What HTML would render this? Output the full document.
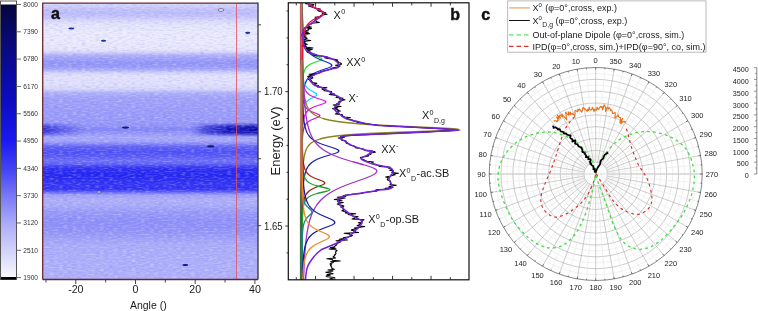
<!DOCTYPE html>
<html><head><meta charset="utf-8"><style>
html,body{margin:0;padding:0;background:#fff;width:758px;height:311px;overflow:hidden}
svg{display:block;opacity:0.999}
text{font-family:"Liberation Sans",sans-serif}
</style></head><body>
<svg width="758" height="311" viewBox="0 0 758 311">
<defs>
<linearGradient id="cb" x1="0" y1="4.5" x2="0" y2="277" gradientUnits="userSpaceOnUse"><stop offset="0.000" stop-color="rgb(5,5,60)"/><stop offset="0.100" stop-color="rgb(8,8,105)"/><stop offset="0.220" stop-color="rgb(10,10,150)"/><stop offset="0.360" stop-color="rgb(12,12,195)"/><stop offset="0.497" stop-color="rgb(25,25,240)"/><stop offset="0.607" stop-color="rgb(68,68,245)"/><stop offset="0.706" stop-color="rgb(122,122,246)"/><stop offset="0.805" stop-color="rgb(172,172,248)"/><stop offset="0.908" stop-color="rgb(212,212,251)"/><stop offset="1.000" stop-color="rgb(248,248,253)"/></linearGradient>
<linearGradient id="hm" x1="0" y1="3" x2="0" y2="279" gradientUnits="userSpaceOnUse"><stop offset="0.0000" stop-color="rgb(215,215,251)"/><stop offset="0.0109" stop-color="rgb(207,207,251)"/><stop offset="0.0217" stop-color="rgb(195,195,250)"/><stop offset="0.0362" stop-color="rgb(188,188,250)"/><stop offset="0.0507" stop-color="rgb(197,198,250)"/><stop offset="0.0652" stop-color="rgb(217,217,251)"/><stop offset="0.0797" stop-color="rgb(229,229,252)"/><stop offset="0.1051" stop-color="rgb(234,234,252)"/><stop offset="0.1341" stop-color="rgb(234,234,252)"/><stop offset="0.1667" stop-color="rgb(231,231,252)"/><stop offset="0.1775" stop-color="rgb(215,215,251)"/><stop offset="0.1884" stop-color="rgb(178,178,249)"/><stop offset="0.2029" stop-color="rgb(158,159,248)"/><stop offset="0.2174" stop-color="rgb(146,148,247)"/><stop offset="0.2319" stop-color="rgb(152,153,248)"/><stop offset="0.2428" stop-color="rgb(173,174,249)"/><stop offset="0.2536" stop-color="rgb(212,212,251)"/><stop offset="0.2645" stop-color="rgb(226,226,252)"/><stop offset="0.2935" stop-color="rgb(224,224,252)"/><stop offset="0.3116" stop-color="rgb(215,215,251)"/><stop offset="0.3261" stop-color="rgb(175,176,249)"/><stop offset="0.3442" stop-color="rgb(160,161,248)"/><stop offset="0.3877" stop-color="rgb(155,156,248)"/><stop offset="0.4239" stop-color="rgb(152,153,248)"/><stop offset="0.4457" stop-color="rgb(146,148,247)"/><stop offset="0.4583" stop-color="rgb(130,132,247)"/><stop offset="0.4710" stop-color="rgb(146,148,247)"/><stop offset="0.4855" stop-color="rgb(165,166,248)"/><stop offset="0.5000" stop-color="rgb(163,164,248)"/><stop offset="0.5109" stop-color="rgb(130,132,247)"/><stop offset="0.5217" stop-color="rgb(92,94,245)"/><stop offset="0.5399" stop-color="rgb(76,78,245)"/><stop offset="0.5543" stop-color="rgb(87,88,245)"/><stop offset="0.5725" stop-color="rgb(108,110,246)"/><stop offset="0.5833" stop-color="rgb(95,96,246)"/><stop offset="0.5906" stop-color="rgb(66,67,244)"/><stop offset="0.6014" stop-color="rgb(42,42,242)"/><stop offset="0.6268" stop-color="rgb(35,36,240)"/><stop offset="0.6486" stop-color="rgb(47,48,242)"/><stop offset="0.6594" stop-color="rgb(50,51,243)"/><stop offset="0.6739" stop-color="rgb(45,46,242)"/><stop offset="0.6848" stop-color="rgb(95,96,246)"/><stop offset="0.6957" stop-color="rgb(158,159,248)"/><stop offset="0.7138" stop-color="rgb(173,174,249)"/><stop offset="0.7355" stop-color="rgb(168,169,248)"/><stop offset="0.7572" stop-color="rgb(152,153,248)"/><stop offset="0.7935" stop-color="rgb(141,142,247)"/><stop offset="0.8297" stop-color="rgb(146,148,247)"/><stop offset="0.8514" stop-color="rgb(158,159,248)"/><stop offset="0.8768" stop-color="rgb(170,171,248)"/><stop offset="0.9312" stop-color="rgb(173,174,249)"/><stop offset="1.0000" stop-color="rgb(175,176,249)"/></linearGradient>
<linearGradient id="b128" x1="42" y1="0" x2="258" y2="0" gradientUnits="userSpaceOnUse"><stop offset="0" stop-color="#1414d0" stop-opacity="0.8"/><stop offset="0.1" stop-color="#1414d0" stop-opacity="0.35"/><stop offset="0.2" stop-color="#1414d0" stop-opacity="0.0"/><stop offset="0.69" stop-color="#1414d0" stop-opacity="0.0"/><stop offset="0.76" stop-color="#1010c8" stop-opacity="0.6"/><stop offset="0.86" stop-color="#0a0ab8" stop-opacity="0.95"/><stop offset="1" stop-color="#0808a8" stop-opacity="1"/></linearGradient>
<linearGradient id="b128v" x1="0" y1="122.5" x2="0" y2="137" gradientUnits="userSpaceOnUse"><stop offset="0" stop-color="#fff" stop-opacity="0"/><stop offset="0.3" stop-color="#fff" stop-opacity="0.9"/><stop offset="0.5" stop-color="#fff" stop-opacity="1"/><stop offset="0.7" stop-color="#fff" stop-opacity="0.9"/><stop offset="1" stop-color="#fff" stop-opacity="0"/></linearGradient>
<mask id="m128"><rect x="42" y="122.5" width="216" height="14.5" fill="url(#b128v)"/></mask>
</defs>
<rect x="0.5" y="1" width="16" height="278.5" fill="#fff" stroke="#555" stroke-width="1"/>
<rect x="1" y="4.5" width="15" height="272.5" fill="url(#cb)"/>
<rect x="1" y="277" width="15" height="2.5" fill="#000"/>
<line x1="17" y1="4.5" x2="21" y2="4.5" stroke="#444" stroke-width="0.8"/>
<text x="23.3" y="6.8" font-size="6.6" text-anchor="start" font-weight="normal" fill="#333" >8000</text>
<line x1="17" y1="31.81" x2="21" y2="31.81" stroke="#444" stroke-width="0.8"/>
<text x="23.3" y="34.11" font-size="6.6" text-anchor="start" font-weight="normal" fill="#333" >7390</text>
<line x1="17" y1="59.12" x2="21" y2="59.12" stroke="#444" stroke-width="0.8"/>
<text x="23.3" y="61.42" font-size="6.6" text-anchor="start" font-weight="normal" fill="#333" >6780</text>
<line x1="17" y1="86.43" x2="21" y2="86.43" stroke="#444" stroke-width="0.8"/>
<text x="23.3" y="88.73" font-size="6.6" text-anchor="start" font-weight="normal" fill="#333" >6170</text>
<line x1="17" y1="113.74" x2="21" y2="113.74" stroke="#444" stroke-width="0.8"/>
<text x="23.3" y="116.04" font-size="6.6" text-anchor="start" font-weight="normal" fill="#333" >5560</text>
<line x1="17" y1="141.05" x2="21" y2="141.05" stroke="#444" stroke-width="0.8"/>
<text x="23.3" y="143.35" font-size="6.6" text-anchor="start" font-weight="normal" fill="#333" >4950</text>
<line x1="17" y1="168.36" x2="21" y2="168.36" stroke="#444" stroke-width="0.8"/>
<text x="23.3" y="170.66" font-size="6.6" text-anchor="start" font-weight="normal" fill="#333" >4340</text>
<line x1="17" y1="195.67" x2="21" y2="195.67" stroke="#444" stroke-width="0.8"/>
<text x="23.3" y="197.97" font-size="6.6" text-anchor="start" font-weight="normal" fill="#333" >3730</text>
<line x1="17" y1="222.98" x2="21" y2="222.98" stroke="#444" stroke-width="0.8"/>
<text x="23.3" y="225.28" font-size="6.6" text-anchor="start" font-weight="normal" fill="#333" >3120</text>
<line x1="17" y1="250.29" x2="21" y2="250.29" stroke="#444" stroke-width="0.8"/>
<text x="23.3" y="252.59" font-size="6.6" text-anchor="start" font-weight="normal" fill="#333" >2510</text>
<line x1="17" y1="277.6" x2="21" y2="277.6" stroke="#444" stroke-width="0.8"/>
<text x="23.3" y="279.9" font-size="6.6" text-anchor="start" font-weight="normal" fill="#333" >1900</text>
<rect x="42.5" y="3" width="215.5" height="276.5" fill="url(#hm)"/>
<rect x="42" y="122.5" width="216" height="14.5" fill="url(#b128)" mask="url(#m128)"/>
<filter id="gw" x="42" y="3" width="216" height="277" filterUnits="userSpaceOnUse"><feTurbulence type="fractalNoise" baseFrequency="0.22 0.7" numOctaves="1" seed="4"/><feColorMatrix type="matrix" values="0 0 0 0 1  0 0 0 0 1  0 0 0 0 1  2.2 0 0 0 -1.0"/></filter>
<filter id="gd" x="42" y="3" width="216" height="277" filterUnits="userSpaceOnUse"><feTurbulence type="fractalNoise" baseFrequency="0.22 0.7" numOctaves="1" seed="9"/><feColorMatrix type="matrix" values="0 0 0 0 0.1  0 0 0 0 0.1  0 0 0 0 0.8  2.2 0 0 0 -1.0"/></filter>
<rect x="42.5" y="3" width="215.5" height="276.5" filter="url(#gw)" opacity="0.35"/>
<rect x="42.5" y="3" width="215.5" height="276.5" filter="url(#gd)" opacity="0.2"/>
<ellipse cx="71.3" cy="28.5" rx="3" ry="1.1" fill="#1a2aa0"/>
<ellipse cx="103.5" cy="40.7" rx="2.6" ry="1.0" fill="#1a2aa0"/>
<ellipse cx="247.7" cy="32.8" rx="2.6" ry="1.1" fill="#1a2aa0"/>
<ellipse cx="125.5" cy="127.6" rx="3.5" ry="1.1" fill="#141a70"/>
<ellipse cx="210.7" cy="146.4" rx="3.5" ry="1.1" fill="#141a70"/>
<ellipse cx="185.3" cy="265" rx="3" ry="1.1" fill="#0a10a0"/>
<ellipse cx="221" cy="10" rx="3" ry="1.3" fill="#f4f4ff" stroke="#334" stroke-width="0.6"/>
<ellipse cx="99" cy="192" rx="2" ry="1" fill="#f4f4ff" stroke="#334" stroke-width="0.6"/>
<line x1="236.5" y1="3" x2="236.5" y2="279.5" stroke="#e05060" stroke-width="0.8"/>
<path d="M42.7,279.5 L42.7,3.2 L236.5,3.2" fill="none" stroke="#6a2a30" stroke-width="1.3"/>
<path d="M236.5,3.2 L258,3.2 L258,279.5" fill="none" stroke="#333" stroke-width="1.3"/>
<path d="M42.7,279.5 L258,279.5" fill="none" stroke="#5a2a30" stroke-width="1.3"/>
<line x1="45.95" y1="280" x2="45.95" y2="282.5" stroke="#333" stroke-width="0.9"/>
<line x1="75.8" y1="280" x2="75.8" y2="284" stroke="#333" stroke-width="0.9"/>
<line x1="105.65" y1="280" x2="105.65" y2="282.5" stroke="#333" stroke-width="0.9"/>
<line x1="135.5" y1="280" x2="135.5" y2="284" stroke="#333" stroke-width="0.9"/>
<line x1="165.35" y1="280" x2="165.35" y2="282.5" stroke="#333" stroke-width="0.9"/>
<line x1="195.2" y1="280" x2="195.2" y2="284" stroke="#333" stroke-width="0.9"/>
<line x1="225.05" y1="280" x2="225.05" y2="282.5" stroke="#333" stroke-width="0.9"/>
<line x1="254.9" y1="280" x2="254.9" y2="284" stroke="#333" stroke-width="0.9"/>
<text x="75.8" y="293" font-size="10.6" text-anchor="middle" font-weight="normal" fill="#1a1a1a" >-20</text>
<text x="135.5" y="293" font-size="10.6" text-anchor="middle" font-weight="normal" fill="#1a1a1a" >0</text>
<text x="195.2" y="293" font-size="10.6" text-anchor="middle" font-weight="normal" fill="#1a1a1a" >20</text>
<text x="254.9" y="293" font-size="10.6" text-anchor="middle" font-weight="normal" fill="#1a1a1a" >40</text>
<text x="129.9" y="308.5" font-size="10.5" text-anchor="start" font-weight="normal" fill="#1a1a1a" >Angle ()</text>
<text x="51.1" y="19" font-size="16" text-anchor="start" font-weight="bold" fill="#111" stroke="#111" stroke-width="0.45">a</text>
<line x1="258" y1="24.8" x2="261" y2="24.8" stroke="#333" stroke-width="0.9"/>
<line x1="258" y1="91.75" x2="261" y2="91.75" stroke="#333" stroke-width="0.9"/>
<line x1="258" y1="158.7" x2="261" y2="158.7" stroke="#333" stroke-width="0.9"/>
<line x1="258" y1="225.65" x2="261" y2="225.65" stroke="#333" stroke-width="0.9"/>
<clipPath id="cpb"><rect x="288.3" y="2.8" width="180.7" height="277.0"/></clipPath>
<g clip-path="url(#cpb)" fill="none" stroke-linejoin="round">
<linearGradient id="bl" x1="0" y1="3" x2="0" y2="280" gradientUnits="userSpaceOnUse"><stop offset="0" stop-color="#c86060"/><stop offset="0.2" stop-color="#b84848"/><stop offset="0.28" stop-color="#cc8a64"/><stop offset="0.64" stop-color="#c07050"/><stop offset="0.7" stop-color="#506a40"/><stop offset="1" stop-color="#286e50"/></linearGradient>
<line x1="300.8" y1="3" x2="300.8" y2="280" stroke="url(#bl)" stroke-width="1.8"/>
<path d="M301.93,3 L301.93,3.5 L301.93,4 L301.94,4.5 L301.94,5 L301.94,5.5 L301.94,6 L301.95,6.5 L301.95,7 L301.95,7.5 L301.95,8 L301.96,8.5 L301.96,9 L301.96,9.5 L301.97,10 L301.97,10.5 L301.97,11 L301.98,11.5 L301.98,12 L301.99,12.5 L301.99,13 L301.99,13.5 L302,14 L302,14.5 L302.01,15 L302.01,15.5 L302.02,16 L302.02,16.5 L302.03,17 L302.03,17.5 L302.04,18 L302.04,18.5 L302.05,19 L302.06,19.5 L302.06,20 L302.07,20.5 L302.08,21 L302.08,21.5 L302.09,22 L302.1,22.5 L302.11,23 L302.12,23.5 L302.13,24 L302.13,24.5 L302.14,25 L302.15,25.5 L302.17,26 L302.18,26.5 L302.19,27 L302.2,27.5 L302.21,28 L302.23,28.5 L302.24,29 L302.25,29.5 L302.27,30 L302.29,30.5 L302.3,31 L302.32,31.5 L302.34,32 L302.36,32.5 L302.38,33 L302.4,33.5 L302.43,34 L302.45,34.5 L302.48,35 L302.51,35.5 L302.54,36 L302.57,36.5 L302.6,37 L302.64,37.5 L302.68,38 L302.72,38.5 L302.76,39 L302.81,39.5 L302.86,40 L302.92,40.5 L302.98,41 L303.04,41.5 L303.11,42 L303.18,42.5 L303.27,43 L303.35,43.5 L303.45,44 L303.56,44.5 L303.67,45 L303.8,45.5 L303.94,46 L304.09,46.5 L304.27,47 L304.46,47.5 L304.67,48 L304.9,48.5 L305.17,49 L305.47,49.5 L305.8,50 L306.18,50.5 L306.61,51 L307.09,51.5 L307.65,52 L308.28,52.5 L309,53 L309.82,53.5 L310.75,54 L311.8,54.5 L312.97,55 L314.26,55.5 L315.65,56 L317.08,56.5 L318.5,57 L319.8,57.5 L320.86,58 L321.56,58.5 L321.8,59 L321.56,59.5 L320.86,60 L319.8,60.5 L318.5,61 L317.08,61.5 L315.65,62 L314.26,62.5 L312.97,63 L311.8,63.5 L310.75,64 L309.82,64.5 L309,65 L308.28,65.5 L307.65,66 L307.09,66.5 L306.61,67 L306.18,67.5 L305.8,68 L305.47,68.5 L305.17,69 L304.9,69.5 L304.67,70 L304.46,70.5 L304.27,71 L304.09,71.5 L303.94,72 L303.8,72.5 L303.67,73 L303.56,73.5 L303.45,74 L303.35,74.5 L303.27,75 L303.18,75.5 L303.11,76 L303.04,76.5 L302.98,77 L302.92,77.5 L302.86,78 L302.81,78.5 L302.76,79 L302.72,79.5 L302.68,80 L302.64,80.5 L302.6,81 L302.57,81.5 L302.54,82 L302.51,82.5 L302.48,83 L302.45,83.5 L302.43,84 L302.4,84.5 L302.38,85 L302.36,85.5 L302.34,86 L302.32,86.5 L302.3,87 L302.29,87.5 L302.27,88 L302.25,88.5 L302.24,89 L302.23,89.5 L302.21,90 L302.2,90.5 L302.19,91 L302.18,91.5 L302.17,92 L302.15,92.5 L302.14,93 L302.13,93.5 L302.13,94 L302.12,94.5 L302.11,95 L302.1,95.5 L302.09,96 L302.08,96.5 L302.08,97 L302.07,97.5 L302.06,98 L302.06,98.5 L302.05,99 L302.04,99.5 L302.04,100 L302.03,100.5 L302.03,101 L302.02,101.5 L302.02,102 L302.01,102.5 L302.01,103 L302,103.5 L302,104 L301.99,104.5 L301.99,105 L301.99,105.5 L301.98,106 L301.98,106.5 L301.97,107 L301.97,107.5 L301.97,108 L301.96,108.5 L301.96,109 L301.96,109.5 L301.95,110 L301.95,110.5 L301.95,111 L301.95,111.5 L301.94,112 L301.94,112.5 L301.94,113 L301.94,113.5 L301.93,114 L301.93,114.5 L301.93,115 L301.93,115.5 L301.92,116 L301.92,116.5 L301.92,117 L301.92,117.5 L301.92,118 L301.91,118.5 L301.91,119 L301.91,119.5 L301.91,120 L301.91,120.5 L301.9,121 L301.9,121.5 L301.9,122 L301.9,122.5 L301.9,123 L301.9,123.5 L301.9,124 L301.89,124.5 L301.89,125 L301.89,125.5 L301.89,126 L301.89,126.5 L301.89,127 L301.89,127.5 L301.88,128 L301.88,128.5 L301.88,129 L301.88,129.5 L301.88,130 L301.88,130.5 L301.88,131 L301.88,131.5 L301.88,132 L301.87,132.5 L301.87,133 L301.87,133.5 L301.87,134 L301.87,134.5 L301.87,135 L301.87,135.5 L301.87,136 L301.87,136.5 L301.87,137 L301.87,137.5 L301.86,138 L301.86,138.5 L301.86,139 L301.86,139.5 L301.86,140 L301.86,140.5 L301.86,141 L301.86,141.5 L301.86,142 L301.86,142.5 L301.86,143 L301.86,143.5 L301.86,144 L301.86,144.5 L301.85,145 L301.85,145.5 L301.85,146 L301.85,146.5 L301.85,147 L301.85,147.5 L301.85,148 L301.85,148.5 L301.85,149 L301.85,149.5 L301.85,150 L301.85,150.5 L301.85,151 L301.85,151.5 L301.85,152 L301.85,152.5 L301.85,153 L301.85,153.5 L301.84,154 L301.84,154.5 L301.84,155 L301.84,155.5 L301.84,156 L301.84,156.5 L301.84,157 L301.84,157.5 L301.84,158 L301.84,158.5 L301.84,159 L301.84,159.5 L301.84,160 L301.84,160.5 L301.84,161 L301.84,161.5 L301.84,162 L301.84,162.5 L301.84,163 L301.84,163.5 L301.84,164 L301.84,164.5 L301.84,165 L301.84,165.5 L301.84,166 L301.83,166.5 L301.83,167 L301.83,167.5 L301.83,168 L301.83,168.5 L301.83,169 L301.83,169.5 L301.83,170 L301.83,170.5 L301.83,171 L301.83,171.5 L301.83,172 L301.83,172.5 L301.83,173 L301.83,173.5 L301.83,174 L301.83,174.5 L301.83,175 L301.83,175.5 L301.83,176 L301.83,176.5 L301.83,177 L301.83,177.5 L301.83,178 L301.83,178.5 L301.83,179 L301.83,179.5 L301.83,180 L301.83,180.5 L301.83,181 L301.83,181.5 L301.83,182 L301.83,182.5 L301.83,183 L301.83,183.5 L301.83,184 L301.83,184.5 L301.83,185 L301.83,185.5 L301.83,186 L301.82,186.5 L301.82,187 L301.82,187.5 L301.82,188 L301.82,188.5 L301.82,189 L301.82,189.5 L301.82,190 L301.82,190.5 L301.82,191 L301.82,191.5 L301.82,192 L301.82,192.5 L301.82,193 L301.82,193.5 L301.82,194 L301.82,194.5 L301.82,195 L301.82,195.5 L301.82,196 L301.82,196.5 L301.82,197 L301.82,197.5 L301.82,198 L301.82,198.5 L301.82,199 L301.82,199.5 L301.82,200 L301.82,200.5 L301.82,201 L301.82,201.5 L301.82,202 L301.82,202.5 L301.82,203 L301.82,203.5 L301.82,204 L301.82,204.5 L301.82,205 L301.82,205.5 L301.82,206 L301.82,206.5 L301.82,207 L301.82,207.5 L301.82,208 L301.82,208.5 L301.82,209 L301.82,209.5 L301.82,210 L301.82,210.5 L301.82,211 L301.82,211.5 L301.82,212 L301.82,212.5 L301.82,213 L301.82,213.5 L301.82,214 L301.82,214.5 L301.82,215 L301.82,215.5 L301.82,216 L301.82,216.5 L301.82,217 L301.82,217.5 L301.82,218 L301.82,218.5 L301.82,219 L301.82,219.5 L301.82,220 L301.82,220.5 L301.82,221 L301.82,221.5 L301.82,222 L301.82,222.5 L301.82,223 L301.81,223.5 L301.81,224 L301.81,224.5 L301.81,225 L301.81,225.5 L301.81,226 L301.81,226.5 L301.81,227 L301.81,227.5 L301.81,228 L301.81,228.5 L301.81,229 L301.81,229.5 L301.81,230 L301.81,230.5 L301.81,231 L301.81,231.5 L301.81,232 L301.81,232.5 L301.81,233 L301.81,233.5 L301.81,234 L301.81,234.5 L301.81,235 L301.81,235.5 L301.81,236 L301.81,236.5 L301.81,237 L301.81,237.5 L301.81,238 L301.81,238.5 L301.81,239 L301.81,239.5 L301.81,240 L301.81,240.5 L301.81,241 L301.81,241.5 L301.81,242 L301.81,242.5 L301.81,243 L301.81,243.5 L301.81,244 L301.81,244.5 L301.81,245 L301.81,245.5 L301.81,246 L301.81,246.5 L301.81,247 L301.81,247.5 L301.81,248 L301.81,248.5 L301.81,249 L301.81,249.5 L301.81,250 L301.81,250.5 L301.81,251 L301.81,251.5 L301.81,252 L301.81,252.5 L301.81,253 L301.81,253.5 L301.81,254 L301.81,254.5 L301.81,255 L301.81,255.5 L301.81,256 L301.81,256.5 L301.81,257 L301.81,257.5 L301.81,258 L301.81,258.5 L301.81,259 L301.81,259.5 L301.81,260 L301.81,260.5 L301.81,261 L301.81,261.5 L301.81,262 L301.81,262.5 L301.81,263 L301.81,263.5 L301.81,264 L301.81,264.5 L301.81,265 L301.81,265.5 L301.81,266 L301.81,266.5 L301.81,267 L301.81,267.5 L301.81,268 L301.81,268.5 L301.81,269 L301.81,269.5 L301.81,270 L301.81,270.5 L301.81,271 L301.81,271.5 L301.81,272 L301.81,272.5 L301.81,273 L301.81,273.5 L301.81,274 L301.81,274.5 L301.81,275 L301.81,275.5 L301.81,276 L301.81,276.5 L301.81,277 L301.81,277.5 L301.81,278 L301.81,278.5 L301.81,279 L301.81,279.5 L301.81,280" stroke="#22dd22" stroke-width="1.3"/>
<path d="M302.23,3 L302.23,3.5 L302.24,4 L302.25,4.5 L302.25,5 L302.26,5.5 L302.27,6 L302.28,6.5 L302.29,7 L302.29,7.5 L302.3,8 L302.31,8.5 L302.32,9 L302.33,9.5 L302.34,10 L302.35,10.5 L302.36,11 L302.37,11.5 L302.38,12 L302.39,12.5 L302.4,13 L302.41,13.5 L302.42,14 L302.44,14.5 L302.45,15 L302.46,15.5 L302.47,16 L302.49,16.5 L302.5,17 L302.51,17.5 L302.53,18 L302.54,18.5 L302.56,19 L302.58,19.5 L302.59,20 L302.61,20.5 L302.63,21 L302.65,21.5 L302.67,22 L302.69,22.5 L302.71,23 L302.73,23.5 L302.75,24 L302.77,24.5 L302.79,25 L302.82,25.5 L302.84,26 L302.87,26.5 L302.9,27 L302.92,27.5 L302.95,28 L302.98,28.5 L303.02,29 L303.05,29.5 L303.08,30 L303.12,30.5 L303.15,31 L303.19,31.5 L303.23,32 L303.27,32.5 L303.32,33 L303.36,33.5 L303.41,34 L303.46,34.5 L303.51,35 L303.56,35.5 L303.62,36 L303.68,36.5 L303.74,37 L303.81,37.5 L303.88,38 L303.95,38.5 L304.02,39 L304.1,39.5 L304.19,40 L304.28,40.5 L304.37,41 L304.47,41.5 L304.57,42 L304.68,42.5 L304.8,43 L304.92,43.5 L305.05,44 L305.19,44.5 L305.34,45 L305.5,45.5 L305.67,46 L305.84,46.5 L306.03,47 L306.24,47.5 L306.46,48 L306.69,48.5 L306.94,49 L307.2,49.5 L307.49,50 L307.8,50.5 L308.13,51 L308.49,51.5 L308.88,52 L309.29,52.5 L309.74,53 L310.23,53.5 L310.75,54 L311.32,54.5 L311.94,55 L312.6,55.5 L313.32,56 L314.1,56.5 L314.93,57 L315.83,57.5 L316.8,58 L317.83,58.5 L318.93,59 L320.09,59.5 L321.31,60 L322.57,60.5 L323.86,61 L325.16,61.5 L326.44,62 L327.66,62.5 L328.8,63 L329.81,63.5 L330.65,64 L331.28,64.5 L331.67,65 L331.8,65.5 L331.62,66 L331.11,66.5 L330.28,67 L329.21,67.5 L327.93,68 L326.53,68.5 L325.06,69 L323.56,69.5 L322.08,70 L320.65,70.5 L319.28,71 L318,71.5 L316.8,72 L315.69,72.5 L314.67,73 L313.73,73.5 L312.87,74 L312.08,74.5 L311.37,75 L310.71,75.5 L310.11,76 L309.56,76.5 L309.06,77 L308.61,77.5 L308.19,78 L307.8,78.5 L307.45,79 L307.12,79.5 L306.82,80 L306.54,80.5 L306.29,81 L306.05,81.5 L305.83,82 L305.63,82.5 L305.44,83 L305.26,83.5 L305.1,84 L304.94,84.5 L304.8,85 L304.67,85.5 L304.54,86 L304.42,86.5 L304.31,87 L304.21,87.5 L304.11,88 L304.02,88.5 L303.93,89 L303.85,89.5 L303.77,90 L303.7,90.5 L303.63,91 L303.56,91.5 L303.5,92 L303.44,92.5 L303.39,93 L303.33,93.5 L303.28,94 L303.24,94.5 L303.19,95 L303.15,95.5 L303.1,96 L303.06,96.5 L303.03,97 L302.99,97.5 L302.95,98 L302.92,98.5 L302.89,99 L302.86,99.5 L302.83,100 L302.8,100.5 L302.77,101 L302.75,101.5 L302.72,102 L302.7,102.5 L302.68,103 L302.65,103.5 L302.63,104 L302.61,104.5 L302.59,105 L302.57,105.5 L302.55,106 L302.54,106.5 L302.52,107 L302.5,107.5 L302.49,108 L302.47,108.5 L302.46,109 L302.44,109.5 L302.43,110 L302.41,110.5 L302.4,111 L302.39,111.5 L302.37,112 L302.36,112.5 L302.35,113 L302.34,113.5 L302.33,114 L302.32,114.5 L302.31,115 L302.3,115.5 L302.29,116 L302.28,116.5 L302.27,117 L302.26,117.5 L302.25,118 L302.24,118.5 L302.24,119 L302.23,119.5 L302.22,120 L302.21,120.5 L302.21,121 L302.2,121.5 L302.19,122 L302.19,122.5 L302.18,123 L302.17,123.5 L302.17,124 L302.16,124.5 L302.15,125 L302.15,125.5 L302.14,126 L302.14,126.5 L302.13,127 L302.13,127.5 L302.12,128 L302.12,128.5 L302.11,129 L302.11,129.5 L302.1,130 L302.1,130.5 L302.09,131 L302.09,131.5 L302.08,132 L302.08,132.5 L302.08,133 L302.07,133.5 L302.07,134 L302.06,134.5 L302.06,135 L302.06,135.5 L302.05,136 L302.05,136.5 L302.05,137 L302.04,137.5 L302.04,138 L302.04,138.5 L302.03,139 L302.03,139.5 L302.03,140 L302.02,140.5 L302.02,141 L302.02,141.5 L302.02,142 L302.01,142.5 L302.01,143 L302.01,143.5 L302,144 L302,144.5 L302,145 L302,145.5 L301.99,146 L301.99,146.5 L301.99,147 L301.99,147.5 L301.99,148 L301.98,148.5 L301.98,149 L301.98,149.5 L301.98,150 L301.97,150.5 L301.97,151 L301.97,151.5 L301.97,152 L301.97,152.5 L301.96,153 L301.96,153.5 L301.96,154 L301.96,154.5 L301.96,155 L301.96,155.5 L301.95,156 L301.95,156.5 L301.95,157 L301.95,157.5 L301.95,158 L301.95,158.5 L301.94,159 L301.94,159.5 L301.94,160 L301.94,160.5 L301.94,161 L301.94,161.5 L301.94,162 L301.93,162.5 L301.93,163 L301.93,163.5 L301.93,164 L301.93,164.5 L301.93,165 L301.93,165.5 L301.92,166 L301.92,166.5 L301.92,167 L301.92,167.5 L301.92,168 L301.92,168.5 L301.92,169 L301.92,169.5 L301.92,170 L301.91,170.5 L301.91,171 L301.91,171.5 L301.91,172 L301.91,172.5 L301.91,173 L301.91,173.5 L301.91,174 L301.91,174.5 L301.91,175 L301.9,175.5 L301.9,176 L301.9,176.5 L301.9,177 L301.9,177.5 L301.9,178 L301.9,178.5 L301.9,179 L301.9,179.5 L301.9,180 L301.9,180.5 L301.89,181 L301.89,181.5 L301.89,182 L301.89,182.5 L301.89,183 L301.89,183.5 L301.89,184 L301.89,184.5 L301.89,185 L301.89,185.5 L301.89,186 L301.89,186.5 L301.89,187 L301.88,187.5 L301.88,188 L301.88,188.5 L301.88,189 L301.88,189.5 L301.88,190 L301.88,190.5 L301.88,191 L301.88,191.5 L301.88,192 L301.88,192.5 L301.88,193 L301.88,193.5 L301.88,194 L301.88,194.5 L301.88,195 L301.87,195.5 L301.87,196 L301.87,196.5 L301.87,197 L301.87,197.5 L301.87,198 L301.87,198.5 L301.87,199 L301.87,199.5 L301.87,200 L301.87,200.5 L301.87,201 L301.87,201.5 L301.87,202 L301.87,202.5 L301.87,203 L301.87,203.5 L301.87,204 L301.87,204.5 L301.86,205 L301.86,205.5 L301.86,206 L301.86,206.5 L301.86,207 L301.86,207.5 L301.86,208 L301.86,208.5 L301.86,209 L301.86,209.5 L301.86,210 L301.86,210.5 L301.86,211 L301.86,211.5 L301.86,212 L301.86,212.5 L301.86,213 L301.86,213.5 L301.86,214 L301.86,214.5 L301.86,215 L301.86,215.5 L301.86,216 L301.86,216.5 L301.86,217 L301.85,217.5 L301.85,218 L301.85,218.5 L301.85,219 L301.85,219.5 L301.85,220 L301.85,220.5 L301.85,221 L301.85,221.5 L301.85,222 L301.85,222.5 L301.85,223 L301.85,223.5 L301.85,224 L301.85,224.5 L301.85,225 L301.85,225.5 L301.85,226 L301.85,226.5 L301.85,227 L301.85,227.5 L301.85,228 L301.85,228.5 L301.85,229 L301.85,229.5 L301.85,230 L301.85,230.5 L301.85,231 L301.85,231.5 L301.85,232 L301.85,232.5 L301.85,233 L301.84,233.5 L301.84,234 L301.84,234.5 L301.84,235 L301.84,235.5 L301.84,236 L301.84,236.5 L301.84,237 L301.84,237.5 L301.84,238 L301.84,238.5 L301.84,239 L301.84,239.5 L301.84,240 L301.84,240.5 L301.84,241 L301.84,241.5 L301.84,242 L301.84,242.5 L301.84,243 L301.84,243.5 L301.84,244 L301.84,244.5 L301.84,245 L301.84,245.5 L301.84,246 L301.84,246.5 L301.84,247 L301.84,247.5 L301.84,248 L301.84,248.5 L301.84,249 L301.84,249.5 L301.84,250 L301.84,250.5 L301.84,251 L301.84,251.5 L301.84,252 L301.84,252.5 L301.84,253 L301.84,253.5 L301.84,254 L301.84,254.5 L301.84,255 L301.84,255.5 L301.83,256 L301.83,256.5 L301.83,257 L301.83,257.5 L301.83,258 L301.83,258.5 L301.83,259 L301.83,259.5 L301.83,260 L301.83,260.5 L301.83,261 L301.83,261.5 L301.83,262 L301.83,262.5 L301.83,263 L301.83,263.5 L301.83,264 L301.83,264.5 L301.83,265 L301.83,265.5 L301.83,266 L301.83,266.5 L301.83,267 L301.83,267.5 L301.83,268 L301.83,268.5 L301.83,269 L301.83,269.5 L301.83,270 L301.83,270.5 L301.83,271 L301.83,271.5 L301.83,272 L301.83,272.5 L301.83,273 L301.83,273.5 L301.83,274 L301.83,274.5 L301.83,275 L301.83,275.5 L301.83,276 L301.83,276.5 L301.83,277 L301.83,277.5 L301.83,278 L301.83,278.5 L301.83,279 L301.83,279.5 L301.83,280" stroke="#1a2ad0" stroke-width="1.3"/>
<path d="M301.84,3 L301.85,3.5 L301.85,4 L301.85,4.5 L301.85,5 L301.85,5.5 L301.85,6 L301.85,6.5 L301.85,7 L301.85,7.5 L301.85,8 L301.85,8.5 L301.85,9 L301.85,9.5 L301.85,10 L301.85,10.5 L301.85,11 L301.85,11.5 L301.85,12 L301.86,12.5 L301.86,13 L301.86,13.5 L301.86,14 L301.86,14.5 L301.86,15 L301.86,15.5 L301.86,16 L301.86,16.5 L301.86,17 L301.86,17.5 L301.86,18 L301.86,18.5 L301.87,19 L301.87,19.5 L301.87,20 L301.87,20.5 L301.87,21 L301.87,21.5 L301.87,22 L301.87,22.5 L301.87,23 L301.87,23.5 L301.88,24 L301.88,24.5 L301.88,25 L301.88,25.5 L301.88,26 L301.88,26.5 L301.88,27 L301.88,27.5 L301.88,28 L301.89,28.5 L301.89,29 L301.89,29.5 L301.89,30 L301.89,30.5 L301.89,31 L301.89,31.5 L301.9,32 L301.9,32.5 L301.9,33 L301.9,33.5 L301.9,34 L301.9,34.5 L301.91,35 L301.91,35.5 L301.91,36 L301.91,36.5 L301.91,37 L301.91,37.5 L301.92,38 L301.92,38.5 L301.92,39 L301.92,39.5 L301.93,40 L301.93,40.5 L301.93,41 L301.93,41.5 L301.93,42 L301.94,42.5 L301.94,43 L301.94,43.5 L301.95,44 L301.95,44.5 L301.95,45 L301.95,45.5 L301.96,46 L301.96,46.5 L301.96,47 L301.97,47.5 L301.97,48 L301.98,48.5 L301.98,49 L301.98,49.5 L301.99,50 L301.99,50.5 L302,51 L302,51.5 L302,52 L302.01,52.5 L302.01,53 L302.02,53.5 L302.03,54 L302.03,54.5 L302.04,55 L302.04,55.5 L302.05,56 L302.06,56.5 L302.06,57 L302.07,57.5 L302.08,58 L302.08,58.5 L302.09,59 L302.1,59.5 L302.11,60 L302.12,60.5 L302.13,61 L302.14,61.5 L302.15,62 L302.16,62.5 L302.17,63 L302.18,63.5 L302.19,64 L302.21,64.5 L302.22,65 L302.23,65.5 L302.25,66 L302.26,66.5 L302.28,67 L302.3,67.5 L302.32,68 L302.33,68.5 L302.36,69 L302.38,69.5 L302.4,70 L302.42,70.5 L302.45,71 L302.48,71.5 L302.51,72 L302.54,72.5 L302.57,73 L302.6,73.5 L302.64,74 L302.68,74.5 L302.73,75 L302.77,75.5 L302.82,76 L302.87,76.5 L302.93,77 L302.99,77.5 L303.06,78 L303.13,78.5 L303.21,79 L303.3,79.5 L303.39,80 L303.5,80.5 L303.61,81 L303.73,81.5 L303.87,82 L304.02,82.5 L304.18,83 L304.37,83.5 L304.57,84 L304.8,84.5 L305.05,85 L305.34,85.5 L305.66,86 L306.01,86.5 L306.42,87 L306.87,87.5 L307.38,88 L307.95,88.5 L308.59,89 L309.3,89.5 L310.09,90 L310.95,90.5 L311.87,91 L312.83,91.5 L313.8,92 L314.73,92.5 L315.56,93 L316.22,93.5 L316.65,94 L316.8,94.5 L316.65,95 L316.22,95.5 L315.56,96 L314.73,96.5 L313.8,97 L312.83,97.5 L311.87,98 L310.95,98.5 L310.09,99 L309.3,99.5 L308.59,100 L307.95,100.5 L307.38,101 L306.87,101.5 L306.42,102 L306.01,102.5 L305.66,103 L305.34,103.5 L305.05,104 L304.8,104.5 L304.57,105 L304.37,105.5 L304.18,106 L304.02,106.5 L303.87,107 L303.73,107.5 L303.61,108 L303.5,108.5 L303.39,109 L303.3,109.5 L303.21,110 L303.13,110.5 L303.06,111 L302.99,111.5 L302.93,112 L302.87,112.5 L302.82,113 L302.77,113.5 L302.73,114 L302.68,114.5 L302.64,115 L302.6,115.5 L302.57,116 L302.54,116.5 L302.51,117 L302.48,117.5 L302.45,118 L302.42,118.5 L302.4,119 L302.38,119.5 L302.36,120 L302.33,120.5 L302.32,121 L302.3,121.5 L302.28,122 L302.26,122.5 L302.25,123 L302.23,123.5 L302.22,124 L302.21,124.5 L302.19,125 L302.18,125.5 L302.17,126 L302.16,126.5 L302.15,127 L302.14,127.5 L302.13,128 L302.12,128.5 L302.11,129 L302.1,129.5 L302.09,130 L302.08,130.5 L302.08,131 L302.07,131.5 L302.06,132 L302.06,132.5 L302.05,133 L302.04,133.5 L302.04,134 L302.03,134.5 L302.03,135 L302.02,135.5 L302.01,136 L302.01,136.5 L302,137 L302,137.5 L302,138 L301.99,138.5 L301.99,139 L301.98,139.5 L301.98,140 L301.98,140.5 L301.97,141 L301.97,141.5 L301.96,142 L301.96,142.5 L301.96,143 L301.95,143.5 L301.95,144 L301.95,144.5 L301.95,145 L301.94,145.5 L301.94,146 L301.94,146.5 L301.93,147 L301.93,147.5 L301.93,148 L301.93,148.5 L301.93,149 L301.92,149.5 L301.92,150 L301.92,150.5 L301.92,151 L301.91,151.5 L301.91,152 L301.91,152.5 L301.91,153 L301.91,153.5 L301.91,154 L301.9,154.5 L301.9,155 L301.9,155.5 L301.9,156 L301.9,156.5 L301.9,157 L301.89,157.5 L301.89,158 L301.89,158.5 L301.89,159 L301.89,159.5 L301.89,160 L301.89,160.5 L301.88,161 L301.88,161.5 L301.88,162 L301.88,162.5 L301.88,163 L301.88,163.5 L301.88,164 L301.88,164.5 L301.88,165 L301.87,165.5 L301.87,166 L301.87,166.5 L301.87,167 L301.87,167.5 L301.87,168 L301.87,168.5 L301.87,169 L301.87,169.5 L301.87,170 L301.86,170.5 L301.86,171 L301.86,171.5 L301.86,172 L301.86,172.5 L301.86,173 L301.86,173.5 L301.86,174 L301.86,174.5 L301.86,175 L301.86,175.5 L301.86,176 L301.86,176.5 L301.85,177 L301.85,177.5 L301.85,178 L301.85,178.5 L301.85,179 L301.85,179.5 L301.85,180 L301.85,180.5 L301.85,181 L301.85,181.5 L301.85,182 L301.85,182.5 L301.85,183 L301.85,183.5 L301.85,184 L301.85,184.5 L301.85,185 L301.85,185.5 L301.84,186 L301.84,186.5 L301.84,187 L301.84,187.5 L301.84,188 L301.84,188.5 L301.84,189 L301.84,189.5 L301.84,190 L301.84,190.5 L301.84,191 L301.84,191.5 L301.84,192 L301.84,192.5 L301.84,193 L301.84,193.5 L301.84,194 L301.84,194.5 L301.84,195 L301.84,195.5 L301.84,196 L301.84,196.5 L301.84,197 L301.84,197.5 L301.83,198 L301.83,198.5 L301.83,199 L301.83,199.5 L301.83,200 L301.83,200.5 L301.83,201 L301.83,201.5 L301.83,202 L301.83,202.5 L301.83,203 L301.83,203.5 L301.83,204 L301.83,204.5 L301.83,205 L301.83,205.5 L301.83,206 L301.83,206.5 L301.83,207 L301.83,207.5 L301.83,208 L301.83,208.5 L301.83,209 L301.83,209.5 L301.83,210 L301.83,210.5 L301.83,211 L301.83,211.5 L301.83,212 L301.83,212.5 L301.83,213 L301.83,213.5 L301.83,214 L301.83,214.5 L301.83,215 L301.83,215.5 L301.83,216 L301.83,216.5 L301.82,217 L301.82,217.5 L301.82,218 L301.82,218.5 L301.82,219 L301.82,219.5 L301.82,220 L301.82,220.5 L301.82,221 L301.82,221.5 L301.82,222 L301.82,222.5 L301.82,223 L301.82,223.5 L301.82,224 L301.82,224.5 L301.82,225 L301.82,225.5 L301.82,226 L301.82,226.5 L301.82,227 L301.82,227.5 L301.82,228 L301.82,228.5 L301.82,229 L301.82,229.5 L301.82,230 L301.82,230.5 L301.82,231 L301.82,231.5 L301.82,232 L301.82,232.5 L301.82,233 L301.82,233.5 L301.82,234 L301.82,234.5 L301.82,235 L301.82,235.5 L301.82,236 L301.82,236.5 L301.82,237 L301.82,237.5 L301.82,238 L301.82,238.5 L301.82,239 L301.82,239.5 L301.82,240 L301.82,240.5 L301.82,241 L301.82,241.5 L301.82,242 L301.82,242.5 L301.82,243 L301.82,243.5 L301.82,244 L301.82,244.5 L301.82,245 L301.82,245.5 L301.82,246 L301.82,246.5 L301.82,247 L301.82,247.5 L301.82,248 L301.82,248.5 L301.82,249 L301.82,249.5 L301.82,250 L301.82,250.5 L301.82,251 L301.82,251.5 L301.82,252 L301.82,252.5 L301.81,253 L301.81,253.5 L301.81,254 L301.81,254.5 L301.81,255 L301.81,255.5 L301.81,256 L301.81,256.5 L301.81,257 L301.81,257.5 L301.81,258 L301.81,258.5 L301.81,259 L301.81,259.5 L301.81,260 L301.81,260.5 L301.81,261 L301.81,261.5 L301.81,262 L301.81,262.5 L301.81,263 L301.81,263.5 L301.81,264 L301.81,264.5 L301.81,265 L301.81,265.5 L301.81,266 L301.81,266.5 L301.81,267 L301.81,267.5 L301.81,268 L301.81,268.5 L301.81,269 L301.81,269.5 L301.81,270 L301.81,270.5 L301.81,271 L301.81,271.5 L301.81,272 L301.81,272.5 L301.81,273 L301.81,273.5 L301.81,274 L301.81,274.5 L301.81,275 L301.81,275.5 L301.81,276 L301.81,276.5 L301.81,277 L301.81,277.5 L301.81,278 L301.81,278.5 L301.81,279 L301.81,279.5 L301.81,280" stroke="#10d8f0" stroke-width="1.3"/>
<path d="M301.86,3 L301.86,3.5 L301.86,4 L301.86,4.5 L301.86,5 L301.86,5.5 L301.86,6 L301.87,6.5 L301.87,7 L301.87,7.5 L301.87,8 L301.87,8.5 L301.87,9 L301.87,9.5 L301.87,10 L301.87,10.5 L301.87,11 L301.87,11.5 L301.87,12 L301.87,12.5 L301.88,13 L301.88,13.5 L301.88,14 L301.88,14.5 L301.88,15 L301.88,15.5 L301.88,16 L301.88,16.5 L301.88,17 L301.88,17.5 L301.88,18 L301.89,18.5 L301.89,19 L301.89,19.5 L301.89,20 L301.89,20.5 L301.89,21 L301.89,21.5 L301.89,22 L301.89,22.5 L301.9,23 L301.9,23.5 L301.9,24 L301.9,24.5 L301.9,25 L301.9,25.5 L301.9,26 L301.9,26.5 L301.91,27 L301.91,27.5 L301.91,28 L301.91,28.5 L301.91,29 L301.91,29.5 L301.92,30 L301.92,30.5 L301.92,31 L301.92,31.5 L301.92,32 L301.92,32.5 L301.93,33 L301.93,33.5 L301.93,34 L301.93,34.5 L301.93,35 L301.93,35.5 L301.94,36 L301.94,36.5 L301.94,37 L301.94,37.5 L301.95,38 L301.95,38.5 L301.95,39 L301.95,39.5 L301.96,40 L301.96,40.5 L301.96,41 L301.96,41.5 L301.97,42 L301.97,42.5 L301.97,43 L301.97,43.5 L301.98,44 L301.98,44.5 L301.98,45 L301.99,45.5 L301.99,46 L301.99,46.5 L302,47 L302,47.5 L302,48 L302.01,48.5 L302.01,49 L302.02,49.5 L302.02,50 L302.02,50.5 L302.03,51 L302.03,51.5 L302.04,52 L302.04,52.5 L302.05,53 L302.05,53.5 L302.06,54 L302.06,54.5 L302.07,55 L302.07,55.5 L302.08,56 L302.09,56.5 L302.09,57 L302.1,57.5 L302.11,58 L302.11,58.5 L302.12,59 L302.13,59.5 L302.14,60 L302.14,60.5 L302.15,61 L302.16,61.5 L302.17,62 L302.18,62.5 L302.19,63 L302.2,63.5 L302.21,64 L302.22,64.5 L302.23,65 L302.24,65.5 L302.25,66 L302.27,66.5 L302.28,67 L302.29,67.5 L302.31,68 L302.32,68.5 L302.34,69 L302.35,69.5 L302.37,70 L302.39,70.5 L302.41,71 L302.43,71.5 L302.45,72 L302.47,72.5 L302.49,73 L302.52,73.5 L302.54,74 L302.57,74.5 L302.6,75 L302.63,75.5 L302.66,76 L302.69,76.5 L302.72,77 L302.76,77.5 L302.8,78 L302.84,78.5 L302.88,79 L302.93,79.5 L302.98,80 L303.03,80.5 L303.09,81 L303.15,81.5 L303.21,82 L303.28,82.5 L303.35,83 L303.43,83.5 L303.52,84 L303.61,84.5 L303.71,85 L303.82,85.5 L303.94,86 L304.06,86.5 L304.2,87 L304.35,87.5 L304.51,88 L304.7,88.5 L304.89,89 L305.11,89.5 L305.35,90 L305.62,90.5 L305.91,91 L306.24,91.5 L306.6,92 L307.01,92.5 L307.46,93 L307.97,93.5 L308.54,94 L309.18,94.5 L309.91,95 L310.72,95.5 L311.64,96 L312.66,96.5 L313.8,97 L315.06,97.5 L316.43,98 L317.91,98.5 L319.45,99 L321,99.5 L322.49,100 L323.82,100.5 L324.88,101 L325.56,101.5 L325.8,102 L325.56,102.5 L324.88,103 L323.82,103.5 L322.49,104 L321,104.5 L319.45,105 L317.91,105.5 L316.43,106 L315.06,106.5 L313.8,107 L312.66,107.5 L311.64,108 L310.72,108.5 L309.91,109 L309.18,109.5 L308.54,110 L307.97,110.5 L307.46,111 L307.01,111.5 L306.6,112 L306.24,112.5 L305.91,113 L305.62,113.5 L305.35,114 L305.11,114.5 L304.89,115 L304.7,115.5 L304.51,116 L304.35,116.5 L304.2,117 L304.06,117.5 L303.94,118 L303.82,118.5 L303.71,119 L303.61,119.5 L303.52,120 L303.43,120.5 L303.35,121 L303.28,121.5 L303.21,122 L303.15,122.5 L303.09,123 L303.03,123.5 L302.98,124 L302.93,124.5 L302.88,125 L302.84,125.5 L302.8,126 L302.76,126.5 L302.72,127 L302.69,127.5 L302.66,128 L302.63,128.5 L302.6,129 L302.57,129.5 L302.54,130 L302.52,130.5 L302.49,131 L302.47,131.5 L302.45,132 L302.43,132.5 L302.41,133 L302.39,133.5 L302.37,134 L302.35,134.5 L302.34,135 L302.32,135.5 L302.31,136 L302.29,136.5 L302.28,137 L302.27,137.5 L302.25,138 L302.24,138.5 L302.23,139 L302.22,139.5 L302.21,140 L302.2,140.5 L302.19,141 L302.18,141.5 L302.17,142 L302.16,142.5 L302.15,143 L302.14,143.5 L302.14,144 L302.13,144.5 L302.12,145 L302.11,145.5 L302.11,146 L302.1,146.5 L302.09,147 L302.09,147.5 L302.08,148 L302.07,148.5 L302.07,149 L302.06,149.5 L302.06,150 L302.05,150.5 L302.05,151 L302.04,151.5 L302.04,152 L302.03,152.5 L302.03,153 L302.02,153.5 L302.02,154 L302.02,154.5 L302.01,155 L302.01,155.5 L302,156 L302,156.5 L302,157 L301.99,157.5 L301.99,158 L301.99,158.5 L301.98,159 L301.98,159.5 L301.98,160 L301.97,160.5 L301.97,161 L301.97,161.5 L301.97,162 L301.96,162.5 L301.96,163 L301.96,163.5 L301.96,164 L301.95,164.5 L301.95,165 L301.95,165.5 L301.95,166 L301.94,166.5 L301.94,167 L301.94,167.5 L301.94,168 L301.93,168.5 L301.93,169 L301.93,169.5 L301.93,170 L301.93,170.5 L301.93,171 L301.92,171.5 L301.92,172 L301.92,172.5 L301.92,173 L301.92,173.5 L301.92,174 L301.91,174.5 L301.91,175 L301.91,175.5 L301.91,176 L301.91,176.5 L301.91,177 L301.9,177.5 L301.9,178 L301.9,178.5 L301.9,179 L301.9,179.5 L301.9,180 L301.9,180.5 L301.9,181 L301.89,181.5 L301.89,182 L301.89,182.5 L301.89,183 L301.89,183.5 L301.89,184 L301.89,184.5 L301.89,185 L301.89,185.5 L301.88,186 L301.88,186.5 L301.88,187 L301.88,187.5 L301.88,188 L301.88,188.5 L301.88,189 L301.88,189.5 L301.88,190 L301.88,190.5 L301.88,191 L301.87,191.5 L301.87,192 L301.87,192.5 L301.87,193 L301.87,193.5 L301.87,194 L301.87,194.5 L301.87,195 L301.87,195.5 L301.87,196 L301.87,196.5 L301.87,197 L301.87,197.5 L301.86,198 L301.86,198.5 L301.86,199 L301.86,199.5 L301.86,200 L301.86,200.5 L301.86,201 L301.86,201.5 L301.86,202 L301.86,202.5 L301.86,203 L301.86,203.5 L301.86,204 L301.86,204.5 L301.86,205 L301.86,205.5 L301.86,206 L301.85,206.5 L301.85,207 L301.85,207.5 L301.85,208 L301.85,208.5 L301.85,209 L301.85,209.5 L301.85,210 L301.85,210.5 L301.85,211 L301.85,211.5 L301.85,212 L301.85,212.5 L301.85,213 L301.85,213.5 L301.85,214 L301.85,214.5 L301.85,215 L301.85,215.5 L301.85,216 L301.85,216.5 L301.85,217 L301.84,217.5 L301.84,218 L301.84,218.5 L301.84,219 L301.84,219.5 L301.84,220 L301.84,220.5 L301.84,221 L301.84,221.5 L301.84,222 L301.84,222.5 L301.84,223 L301.84,223.5 L301.84,224 L301.84,224.5 L301.84,225 L301.84,225.5 L301.84,226 L301.84,226.5 L301.84,227 L301.84,227.5 L301.84,228 L301.84,228.5 L301.84,229 L301.84,229.5 L301.84,230 L301.84,230.5 L301.84,231 L301.84,231.5 L301.84,232 L301.84,232.5 L301.83,233 L301.83,233.5 L301.83,234 L301.83,234.5 L301.83,235 L301.83,235.5 L301.83,236 L301.83,236.5 L301.83,237 L301.83,237.5 L301.83,238 L301.83,238.5 L301.83,239 L301.83,239.5 L301.83,240 L301.83,240.5 L301.83,241 L301.83,241.5 L301.83,242 L301.83,242.5 L301.83,243 L301.83,243.5 L301.83,244 L301.83,244.5 L301.83,245 L301.83,245.5 L301.83,246 L301.83,246.5 L301.83,247 L301.83,247.5 L301.83,248 L301.83,248.5 L301.83,249 L301.83,249.5 L301.83,250 L301.83,250.5 L301.83,251 L301.83,251.5 L301.83,252 L301.83,252.5 L301.83,253 L301.83,253.5 L301.83,254 L301.83,254.5 L301.83,255 L301.83,255.5 L301.83,256 L301.83,256.5 L301.82,257 L301.82,257.5 L301.82,258 L301.82,258.5 L301.82,259 L301.82,259.5 L301.82,260 L301.82,260.5 L301.82,261 L301.82,261.5 L301.82,262 L301.82,262.5 L301.82,263 L301.82,263.5 L301.82,264 L301.82,264.5 L301.82,265 L301.82,265.5 L301.82,266 L301.82,266.5 L301.82,267 L301.82,267.5 L301.82,268 L301.82,268.5 L301.82,269 L301.82,269.5 L301.82,270 L301.82,270.5 L301.82,271 L301.82,271.5 L301.82,272 L301.82,272.5 L301.82,273 L301.82,273.5 L301.82,274 L301.82,274.5 L301.82,275 L301.82,275.5 L301.82,276 L301.82,276.5 L301.82,277 L301.82,277.5 L301.82,278 L301.82,278.5 L301.82,279 L301.82,279.5 L301.82,280" stroke="#e010e0" stroke-width="1.3"/>
<path d="M301.83,3 L301.83,3.5 L301.83,4 L301.83,4.5 L301.83,5 L301.83,5.5 L301.83,6 L301.83,6.5 L301.83,7 L301.83,7.5 L301.83,8 L301.83,8.5 L301.83,9 L301.83,9.5 L301.83,10 L301.83,10.5 L301.83,11 L301.83,11.5 L301.83,12 L301.83,12.5 L301.83,13 L301.83,13.5 L301.84,14 L301.84,14.5 L301.84,15 L301.84,15.5 L301.84,16 L301.84,16.5 L301.84,17 L301.84,17.5 L301.84,18 L301.84,18.5 L301.84,19 L301.84,19.5 L301.84,20 L301.84,20.5 L301.84,21 L301.84,21.5 L301.84,22 L301.84,22.5 L301.84,23 L301.84,23.5 L301.84,24 L301.84,24.5 L301.84,25 L301.84,25.5 L301.85,26 L301.85,26.5 L301.85,27 L301.85,27.5 L301.85,28 L301.85,28.5 L301.85,29 L301.85,29.5 L301.85,30 L301.85,30.5 L301.85,31 L301.85,31.5 L301.85,32 L301.85,32.5 L301.85,33 L301.85,33.5 L301.85,34 L301.86,34.5 L301.86,35 L301.86,35.5 L301.86,36 L301.86,36.5 L301.86,37 L301.86,37.5 L301.86,38 L301.86,38.5 L301.86,39 L301.86,39.5 L301.86,40 L301.86,40.5 L301.87,41 L301.87,41.5 L301.87,42 L301.87,42.5 L301.87,43 L301.87,43.5 L301.87,44 L301.87,44.5 L301.87,45 L301.87,45.5 L301.87,46 L301.88,46.5 L301.88,47 L301.88,47.5 L301.88,48 L301.88,48.5 L301.88,49 L301.88,49.5 L301.88,50 L301.89,50.5 L301.89,51 L301.89,51.5 L301.89,52 L301.89,52.5 L301.89,53 L301.89,53.5 L301.9,54 L301.9,54.5 L301.9,55 L301.9,55.5 L301.9,56 L301.9,56.5 L301.91,57 L301.91,57.5 L301.91,58 L301.91,58.5 L301.91,59 L301.91,59.5 L301.92,60 L301.92,60.5 L301.92,61 L301.92,61.5 L301.93,62 L301.93,62.5 L301.93,63 L301.93,63.5 L301.94,64 L301.94,64.5 L301.94,65 L301.94,65.5 L301.95,66 L301.95,66.5 L301.95,67 L301.96,67.5 L301.96,68 L301.96,68.5 L301.97,69 L301.97,69.5 L301.97,70 L301.98,70.5 L301.98,71 L301.98,71.5 L301.99,72 L301.99,72.5 L302,73 L302,73.5 L302.01,74 L302.01,74.5 L302.02,75 L302.02,75.5 L302.03,76 L302.03,76.5 L302.04,77 L302.05,77.5 L302.05,78 L302.06,78.5 L302.07,79 L302.07,79.5 L302.08,80 L302.09,80.5 L302.1,81 L302.11,81.5 L302.12,82 L302.12,82.5 L302.13,83 L302.14,83.5 L302.16,84 L302.17,84.5 L302.18,85 L302.19,85.5 L302.2,86 L302.22,86.5 L302.23,87 L302.25,87.5 L302.26,88 L302.28,88.5 L302.3,89 L302.32,89.5 L302.34,90 L302.36,90.5 L302.38,91 L302.4,91.5 L302.43,92 L302.45,92.5 L302.48,93 L302.51,93.5 L302.54,94 L302.58,94.5 L302.61,95 L302.65,95.5 L302.69,96 L302.74,96.5 L302.79,97 L302.84,97.5 L302.89,98 L302.95,98.5 L303.02,99 L303.09,99.5 L303.17,100 L303.25,100.5 L303.34,101 L303.44,101.5 L303.55,102 L303.67,102.5 L303.81,103 L303.96,103.5 L304.12,104 L304.3,104.5 L304.51,105 L304.73,105.5 L304.99,106 L305.28,106.5 L305.6,107 L305.97,107.5 L306.38,108 L306.86,108.5 L307.4,109 L308.01,109.5 L308.71,110 L309.51,110.5 L310.41,111 L311.42,111.5 L312.54,112 L313.75,112.5 L315.04,113 L316.33,113.5 L317.55,114 L318.6,114.5 L319.37,115 L319.76,115.5 L319.72,116 L319.25,116.5 L318.41,117 L317.32,117.5 L316.07,118 L314.78,118.5 L313.51,119 L312.31,119.5 L311.21,120 L310.22,120.5 L309.34,121 L308.56,121.5 L307.88,122 L307.28,122.5 L306.76,123 L306.3,123.5 L305.89,124 L305.53,124.5 L305.21,125 L304.93,125.5 L304.69,126 L304.46,126.5 L304.26,127 L304.09,127.5 L303.92,128 L303.78,128.5 L303.65,129 L303.53,129.5 L303.42,130 L303.32,130.5 L303.23,131 L303.15,131.5 L303.07,132 L303,132.5 L302.94,133 L302.88,133.5 L302.83,134 L302.78,134.5 L302.73,135 L302.68,135.5 L302.64,136 L302.6,136.5 L302.57,137 L302.54,137.5 L302.5,138 L302.47,138.5 L302.45,139 L302.42,139.5 L302.4,140 L302.37,140.5 L302.35,141 L302.33,141.5 L302.31,142 L302.29,142.5 L302.28,143 L302.26,143.5 L302.24,144 L302.23,144.5 L302.21,145 L302.2,145.5 L302.19,146 L302.18,146.5 L302.16,147 L302.15,147.5 L302.14,148 L302.13,148.5 L302.12,149 L302.11,149.5 L302.1,150 L302.1,150.5 L302.09,151 L302.08,151.5 L302.07,152 L302.07,152.5 L302.06,153 L302.05,153.5 L302.05,154 L302.04,154.5 L302.03,155 L302.03,155.5 L302.02,156 L302.02,156.5 L302.01,157 L302.01,157.5 L302,158 L302,158.5 L301.99,159 L301.99,159.5 L301.98,160 L301.98,160.5 L301.98,161 L301.97,161.5 L301.97,162 L301.96,162.5 L301.96,163 L301.96,163.5 L301.95,164 L301.95,164.5 L301.95,165 L301.95,165.5 L301.94,166 L301.94,166.5 L301.94,167 L301.93,167.5 L301.93,168 L301.93,168.5 L301.93,169 L301.93,169.5 L301.92,170 L301.92,170.5 L301.92,171 L301.92,171.5 L301.91,172 L301.91,172.5 L301.91,173 L301.91,173.5 L301.91,174 L301.9,174.5 L301.9,175 L301.9,175.5 L301.9,176 L301.9,176.5 L301.9,177 L301.89,177.5 L301.89,178 L301.89,178.5 L301.89,179 L301.89,179.5 L301.89,180 L301.89,180.5 L301.89,181 L301.88,181.5 L301.88,182 L301.88,182.5 L301.88,183 L301.88,183.5 L301.88,184 L301.88,184.5 L301.88,185 L301.87,185.5 L301.87,186 L301.87,186.5 L301.87,187 L301.87,187.5 L301.87,188 L301.87,188.5 L301.87,189 L301.87,189.5 L301.87,190 L301.86,190.5 L301.86,191 L301.86,191.5 L301.86,192 L301.86,192.5 L301.86,193 L301.86,193.5 L301.86,194 L301.86,194.5 L301.86,195 L301.86,195.5 L301.86,196 L301.86,196.5 L301.85,197 L301.85,197.5 L301.85,198 L301.85,198.5 L301.85,199 L301.85,199.5 L301.85,200 L301.85,200.5 L301.85,201 L301.85,201.5 L301.85,202 L301.85,202.5 L301.85,203 L301.85,203.5 L301.85,204 L301.85,204.5 L301.85,205 L301.85,205.5 L301.84,206 L301.84,206.5 L301.84,207 L301.84,207.5 L301.84,208 L301.84,208.5 L301.84,209 L301.84,209.5 L301.84,210 L301.84,210.5 L301.84,211 L301.84,211.5 L301.84,212 L301.84,212.5 L301.84,213 L301.84,213.5 L301.84,214 L301.84,214.5 L301.84,215 L301.84,215.5 L301.84,216 L301.84,216.5 L301.84,217 L301.84,217.5 L301.83,218 L301.83,218.5 L301.83,219 L301.83,219.5 L301.83,220 L301.83,220.5 L301.83,221 L301.83,221.5 L301.83,222 L301.83,222.5 L301.83,223 L301.83,223.5 L301.83,224 L301.83,224.5 L301.83,225 L301.83,225.5 L301.83,226 L301.83,226.5 L301.83,227 L301.83,227.5 L301.83,228 L301.83,228.5 L301.83,229 L301.83,229.5 L301.83,230 L301.83,230.5 L301.83,231 L301.83,231.5 L301.83,232 L301.83,232.5 L301.83,233 L301.83,233.5 L301.83,234 L301.83,234.5 L301.83,235 L301.83,235.5 L301.83,236 L301.82,236.5 L301.82,237 L301.82,237.5 L301.82,238 L301.82,238.5 L301.82,239 L301.82,239.5 L301.82,240 L301.82,240.5 L301.82,241 L301.82,241.5 L301.82,242 L301.82,242.5 L301.82,243 L301.82,243.5 L301.82,244 L301.82,244.5 L301.82,245 L301.82,245.5 L301.82,246 L301.82,246.5 L301.82,247 L301.82,247.5 L301.82,248 L301.82,248.5 L301.82,249 L301.82,249.5 L301.82,250 L301.82,250.5 L301.82,251 L301.82,251.5 L301.82,252 L301.82,252.5 L301.82,253 L301.82,253.5 L301.82,254 L301.82,254.5 L301.82,255 L301.82,255.5 L301.82,256 L301.82,256.5 L301.82,257 L301.82,257.5 L301.82,258 L301.82,258.5 L301.82,259 L301.82,259.5 L301.82,260 L301.82,260.5 L301.82,261 L301.82,261.5 L301.82,262 L301.82,262.5 L301.82,263 L301.82,263.5 L301.82,264 L301.82,264.5 L301.82,265 L301.82,265.5 L301.82,266 L301.82,266.5 L301.82,267 L301.82,267.5 L301.82,268 L301.82,268.5 L301.82,269 L301.82,269.5 L301.82,270 L301.82,270.5 L301.82,271 L301.82,271.5 L301.81,272 L301.81,272.5 L301.81,273 L301.81,273.5 L301.81,274 L301.81,274.5 L301.81,275 L301.81,275.5 L301.81,276 L301.81,276.5 L301.81,277 L301.81,277.5 L301.81,278 L301.81,278.5 L301.81,279 L301.81,279.5 L301.81,280" stroke="#d010d0" stroke-width="1.3"/>
<path d="M301.99,3 L301.99,3.5 L301.99,4 L301.99,4.5 L302,5 L302,5.5 L302,6 L302,6.5 L302,7 L302,7.5 L302.01,8 L302.01,8.5 L302.01,9 L302.01,9.5 L302.01,10 L302.01,10.5 L302.02,11 L302.02,11.5 L302.02,12 L302.02,12.5 L302.02,13 L302.03,13.5 L302.03,14 L302.03,14.5 L302.03,15 L302.03,15.5 L302.04,16 L302.04,16.5 L302.04,17 L302.04,17.5 L302.04,18 L302.05,18.5 L302.05,19 L302.05,19.5 L302.05,20 L302.05,20.5 L302.06,21 L302.06,21.5 L302.06,22 L302.06,22.5 L302.07,23 L302.07,23.5 L302.07,24 L302.07,24.5 L302.08,25 L302.08,25.5 L302.08,26 L302.09,26.5 L302.09,27 L302.09,27.5 L302.09,28 L302.1,28.5 L302.1,29 L302.1,29.5 L302.11,30 L302.11,30.5 L302.11,31 L302.12,31.5 L302.12,32 L302.12,32.5 L302.13,33 L302.13,33.5 L302.13,34 L302.14,34.5 L302.14,35 L302.14,35.5 L302.15,36 L302.15,36.5 L302.15,37 L302.16,37.5 L302.16,38 L302.17,38.5 L302.17,39 L302.17,39.5 L302.18,40 L302.18,40.5 L302.19,41 L302.19,41.5 L302.2,42 L302.2,42.5 L302.2,43 L302.21,43.5 L302.21,44 L302.22,44.5 L302.22,45 L302.23,45.5 L302.23,46 L302.24,46.5 L302.24,47 L302.25,47.5 L302.26,48 L302.26,48.5 L302.27,49 L302.27,49.5 L302.28,50 L302.28,50.5 L302.29,51 L302.3,51.5 L302.3,52 L302.31,52.5 L302.32,53 L302.32,53.5 L302.33,54 L302.34,54.5 L302.34,55 L302.35,55.5 L302.36,56 L302.37,56.5 L302.37,57 L302.38,57.5 L302.39,58 L302.4,58.5 L302.41,59 L302.42,59.5 L302.42,60 L302.43,60.5 L302.44,61 L302.45,61.5 L302.46,62 L302.47,62.5 L302.48,63 L302.49,63.5 L302.5,64 L302.51,64.5 L302.52,65 L302.54,65.5 L302.55,66 L302.56,66.5 L302.57,67 L302.58,67.5 L302.6,68 L302.61,68.5 L302.62,69 L302.64,69.5 L302.65,70 L302.67,70.5 L302.68,71 L302.7,71.5 L302.71,72 L302.73,72.5 L302.74,73 L302.76,73.5 L302.78,74 L302.79,74.5 L302.81,75 L302.83,75.5 L302.85,76 L302.87,76.5 L302.89,77 L302.91,77.5 L302.93,78 L302.96,78.5 L302.98,79 L303,79.5 L303.03,80 L303.05,80.5 L303.08,81 L303.1,81.5 L303.13,82 L303.16,82.5 L303.19,83 L303.22,83.5 L303.25,84 L303.28,84.5 L303.31,85 L303.35,85.5 L303.38,86 L303.42,86.5 L303.46,87 L303.5,87.5 L303.54,88 L303.58,88.5 L303.62,89 L303.67,89.5 L303.71,90 L303.76,90.5 L303.81,91 L303.87,91.5 L303.92,92 L303.98,92.5 L304.04,93 L304.1,93.5 L304.16,94 L304.23,94.5 L304.3,95 L304.37,95.5 L304.45,96 L304.53,96.5 L304.61,97 L304.7,97.5 L304.79,98 L304.88,98.5 L304.98,99 L305.08,99.5 L305.19,100 L305.31,100.5 L305.43,101 L305.56,101.5 L305.69,102 L305.83,102.5 L305.98,103 L306.14,103.5 L306.3,104 L306.48,104.5 L306.67,105 L306.86,105.5 L307.07,106 L307.3,106.5 L307.53,107 L307.79,107.5 L308.06,108 L308.34,108.5 L308.65,109 L308.98,109.5 L309.33,110 L309.71,110.5 L310.12,111 L310.56,111.5 L311.04,112 L311.55,112.5 L312.11,113 L312.71,113.5 L313.37,114 L314.09,114.5 L314.87,115 L315.73,115.5 L316.68,116 L317.72,116.5 L318.86,117 L320.14,117.5 L321.55,118 L323.12,118.5 L324.88,119 L326.84,119.5 L329.06,120 L331.55,120.5 L334.37,121 L337.57,121.5 L341.21,122 L345.36,122.5 L350.11,123 L355.53,123.5 L361.73,124 L368.79,124.5 L376.81,125 L385.83,125.5 L395.84,126 L406.72,126.5 L418.17,127 L429.67,127.5 L440.46,128 L449.56,128.5 L455.93,129 L458.72,129.5 L456.66,130 L448.52,130.5 L436.04,131 L421.44,131.5 L406.59,132 L392.68,132.5 L380.3,133 L369.6,133.5 L360.5,134 L352.82,134.5 L346.37,135 L340.94,135.5 L336.36,136 L332.47,136.5 L329.17,137 L326.34,137.5 L323.9,138 L321.79,138.5 L319.96,139 L318.36,139.5 L316.96,140 L315.72,140.5 L314.62,141 L313.65,141.5 L312.78,142 L312,142.5 L311.3,143 L310.66,143.5 L310.09,144 L309.57,144.5 L309.1,145 L308.67,145.5 L308.27,146 L307.91,146.5 L307.57,147 L307.27,147.5 L306.98,148 L306.72,148.5 L306.48,149 L306.25,149.5 L306.04,150 L305.85,150.5 L305.67,151 L305.5,151.5 L305.34,152 L305.19,152.5 L305.05,153 L304.91,153.5 L304.79,154 L304.67,154.5 L304.56,155 L304.46,155.5 L304.36,156 L304.27,156.5 L304.18,157 L304.1,157.5 L304.02,158 L303.94,158.5 L303.87,159 L303.8,159.5 L303.74,160 L303.68,160.5 L303.62,161 L303.56,161.5 L303.51,162 L303.46,162.5 L303.41,163 L303.36,163.5 L303.32,164 L303.28,164.5 L303.24,165 L303.2,165.5 L303.16,166 L303.12,166.5 L303.09,167 L303.05,167.5 L303.02,168 L302.99,168.5 L302.96,169 L302.93,169.5 L302.9,170 L302.88,170.5 L302.85,171 L302.83,171.5 L302.8,172 L302.78,172.5 L302.76,173 L302.74,173.5 L302.72,174 L302.7,174.5 L302.68,175 L302.66,175.5 L302.64,176 L302.62,176.5 L302.6,177 L302.59,177.5 L302.57,178 L302.56,178.5 L302.54,179 L302.53,179.5 L302.51,180 L302.5,180.5 L302.48,181 L302.47,181.5 L302.46,182 L302.45,182.5 L302.43,183 L302.42,183.5 L302.41,184 L302.4,184.5 L302.39,185 L302.38,185.5 L302.37,186 L302.36,186.5 L302.35,187 L302.34,187.5 L302.33,188 L302.32,188.5 L302.31,189 L302.3,189.5 L302.3,190 L302.29,190.5 L302.28,191 L302.27,191.5 L302.26,192 L302.26,192.5 L302.25,193 L302.24,193.5 L302.24,194 L302.23,194.5 L302.22,195 L302.22,195.5 L302.21,196 L302.2,196.5 L302.2,197 L302.19,197.5 L302.19,198 L302.18,198.5 L302.18,199 L302.17,199.5 L302.17,200 L302.16,200.5 L302.16,201 L302.15,201.5 L302.15,202 L302.14,202.5 L302.14,203 L302.13,203.5 L302.13,204 L302.12,204.5 L302.12,205 L302.11,205.5 L302.11,206 L302.11,206.5 L302.1,207 L302.1,207.5 L302.09,208 L302.09,208.5 L302.09,209 L302.08,209.5 L302.08,210 L302.08,210.5 L302.07,211 L302.07,211.5 L302.07,212 L302.06,212.5 L302.06,213 L302.06,213.5 L302.05,214 L302.05,214.5 L302.05,215 L302.05,215.5 L302.04,216 L302.04,216.5 L302.04,217 L302.03,217.5 L302.03,218 L302.03,218.5 L302.03,219 L302.02,219.5 L302.02,220 L302.02,220.5 L302.02,221 L302.01,221.5 L302.01,222 L302.01,222.5 L302.01,223 L302.01,223.5 L302,224 L302,224.5 L302,225 L302,225.5 L302,226 L301.99,226.5 L301.99,227 L301.99,227.5 L301.99,228 L301.99,228.5 L301.98,229 L301.98,229.5 L301.98,230 L301.98,230.5 L301.98,231 L301.97,231.5 L301.97,232 L301.97,232.5 L301.97,233 L301.97,233.5 L301.97,234 L301.96,234.5 L301.96,235 L301.96,235.5 L301.96,236 L301.96,236.5 L301.96,237 L301.96,237.5 L301.95,238 L301.95,238.5 L301.95,239 L301.95,239.5 L301.95,240 L301.95,240.5 L301.95,241 L301.94,241.5 L301.94,242 L301.94,242.5 L301.94,243 L301.94,243.5 L301.94,244 L301.94,244.5 L301.94,245 L301.93,245.5 L301.93,246 L301.93,246.5 L301.93,247 L301.93,247.5 L301.93,248 L301.93,248.5 L301.93,249 L301.93,249.5 L301.93,250 L301.92,250.5 L301.92,251 L301.92,251.5 L301.92,252 L301.92,252.5 L301.92,253 L301.92,253.5 L301.92,254 L301.92,254.5 L301.92,255 L301.91,255.5 L301.91,256 L301.91,256.5 L301.91,257 L301.91,257.5 L301.91,258 L301.91,258.5 L301.91,259 L301.91,259.5 L301.91,260 L301.91,260.5 L301.91,261 L301.9,261.5 L301.9,262 L301.9,262.5 L301.9,263 L301.9,263.5 L301.9,264 L301.9,264.5 L301.9,265 L301.9,265.5 L301.9,266 L301.9,266.5 L301.9,267 L301.9,267.5 L301.89,268 L301.89,268.5 L301.89,269 L301.89,269.5 L301.89,270 L301.89,270.5 L301.89,271 L301.89,271.5 L301.89,272 L301.89,272.5 L301.89,273 L301.89,273.5 L301.89,274 L301.89,274.5 L301.89,275 L301.89,275.5 L301.88,276 L301.88,276.5 L301.88,277 L301.88,277.5 L301.88,278 L301.88,278.5 L301.88,279 L301.88,279.5 L301.88,280" stroke="#8a8420" stroke-width="1.3"/>
<path d="M301.89,3 L301.9,3.5 L301.9,4 L301.9,4.5 L301.9,5 L301.9,5.5 L301.9,6 L301.9,6.5 L301.9,7 L301.9,7.5 L301.9,8 L301.9,8.5 L301.9,9 L301.9,9.5 L301.9,10 L301.91,10.5 L301.91,11 L301.91,11.5 L301.91,12 L301.91,12.5 L301.91,13 L301.91,13.5 L301.91,14 L301.91,14.5 L301.91,15 L301.91,15.5 L301.91,16 L301.91,16.5 L301.92,17 L301.92,17.5 L301.92,18 L301.92,18.5 L301.92,19 L301.92,19.5 L301.92,20 L301.92,20.5 L301.92,21 L301.92,21.5 L301.92,22 L301.93,22.5 L301.93,23 L301.93,23.5 L301.93,24 L301.93,24.5 L301.93,25 L301.93,25.5 L301.93,26 L301.93,26.5 L301.93,27 L301.94,27.5 L301.94,28 L301.94,28.5 L301.94,29 L301.94,29.5 L301.94,30 L301.94,30.5 L301.94,31 L301.95,31.5 L301.95,32 L301.95,32.5 L301.95,33 L301.95,33.5 L301.95,34 L301.95,34.5 L301.95,35 L301.96,35.5 L301.96,36 L301.96,36.5 L301.96,37 L301.96,37.5 L301.96,38 L301.96,38.5 L301.97,39 L301.97,39.5 L301.97,40 L301.97,40.5 L301.97,41 L301.97,41.5 L301.97,42 L301.98,42.5 L301.98,43 L301.98,43.5 L301.98,44 L301.98,44.5 L301.98,45 L301.99,45.5 L301.99,46 L301.99,46.5 L301.99,47 L301.99,47.5 L302,48 L302,48.5 L302,49 L302,49.5 L302,50 L302,50.5 L302.01,51 L302.01,51.5 L302.01,52 L302.01,52.5 L302.02,53 L302.02,53.5 L302.02,54 L302.02,54.5 L302.02,55 L302.03,55.5 L302.03,56 L302.03,56.5 L302.03,57 L302.04,57.5 L302.04,58 L302.04,58.5 L302.04,59 L302.05,59.5 L302.05,60 L302.05,60.5 L302.06,61 L302.06,61.5 L302.06,62 L302.06,62.5 L302.07,63 L302.07,63.5 L302.07,64 L302.08,64.5 L302.08,65 L302.08,65.5 L302.09,66 L302.09,66.5 L302.09,67 L302.1,67.5 L302.1,68 L302.1,68.5 L302.11,69 L302.11,69.5 L302.11,70 L302.12,70.5 L302.12,71 L302.13,71.5 L302.13,72 L302.13,72.5 L302.14,73 L302.14,73.5 L302.15,74 L302.15,74.5 L302.16,75 L302.16,75.5 L302.17,76 L302.17,76.5 L302.18,77 L302.18,77.5 L302.19,78 L302.19,78.5 L302.2,79 L302.2,79.5 L302.21,80 L302.21,80.5 L302.22,81 L302.23,81.5 L302.23,82 L302.24,82.5 L302.24,83 L302.25,83.5 L302.26,84 L302.26,84.5 L302.27,85 L302.28,85.5 L302.29,86 L302.29,86.5 L302.3,87 L302.31,87.5 L302.32,88 L302.33,88.5 L302.33,89 L302.34,89.5 L302.35,90 L302.36,90.5 L302.37,91 L302.38,91.5 L302.39,92 L302.4,92.5 L302.41,93 L302.42,93.5 L302.43,94 L302.44,94.5 L302.45,95 L302.46,95.5 L302.48,96 L302.49,96.5 L302.5,97 L302.51,97.5 L302.53,98 L302.54,98.5 L302.55,99 L302.57,99.5 L302.58,100 L302.6,100.5 L302.61,101 L302.63,101.5 L302.65,102 L302.66,102.5 L302.68,103 L302.7,103.5 L302.72,104 L302.74,104.5 L302.76,105 L302.78,105.5 L302.8,106 L302.82,106.5 L302.84,107 L302.87,107.5 L302.89,108 L302.92,108.5 L302.94,109 L302.97,109.5 L303,110 L303.03,110.5 L303.06,111 L303.09,111.5 L303.12,112 L303.15,112.5 L303.19,113 L303.22,113.5 L303.26,114 L303.3,114.5 L303.34,115 L303.38,115.5 L303.42,116 L303.47,116.5 L303.52,117 L303.57,117.5 L303.62,118 L303.67,118.5 L303.73,119 L303.78,119.5 L303.85,120 L303.91,120.5 L303.98,121 L304.05,121.5 L304.12,122 L304.2,122.5 L304.28,123 L304.36,123.5 L304.45,124 L304.54,124.5 L304.64,125 L304.75,125.5 L304.86,126 L304.97,126.5 L305.09,127 L305.22,127.5 L305.36,128 L305.5,128.5 L305.65,129 L305.81,129.5 L305.99,130 L306.17,130.5 L306.36,131 L306.57,131.5 L306.79,132 L307.02,132.5 L307.27,133 L307.54,133.5 L307.83,134 L308.14,134.5 L308.47,135 L308.82,135.5 L309.2,136 L309.61,136.5 L310.05,137 L310.53,137.5 L311.04,138 L311.59,138.5 L312.19,139 L312.84,139.5 L313.54,140 L314.3,140.5 L315.12,141 L316.01,141.5 L316.96,142 L318,142.5 L319.11,143 L320.3,143.5 L321.57,144 L322.93,144.5 L324.36,145 L325.86,145.5 L327.42,146 L329.01,146.5 L330.61,147 L332.18,147.5 L333.7,148 L335.1,148.5 L336.34,149 L337.38,149.5 L338.15,150 L338.64,150.5 L338.8,151 L338.61,151.5 L338.06,152 L337.18,152.5 L336.01,153 L334.61,153.5 L333.06,154 L331.4,154.5 L329.69,155 L327.98,155.5 L326.3,156 L324.68,156.5 L323.13,157 L321.67,157.5 L320.3,158 L319.03,158.5 L317.84,159 L316.75,159.5 L315.75,160 L314.82,160.5 L313.97,161 L313.18,161.5 L312.46,162 L311.8,162.5 L311.19,163 L310.63,163.5 L310.12,164 L309.64,164.5 L309.2,165 L308.79,165.5 L308.42,166 L308.07,166.5 L307.74,167 L307.44,167.5 L307.16,168 L306.9,168.5 L306.66,169 L306.43,169.5 L306.22,170 L306.02,170.5 L305.84,171 L305.66,171.5 L305.5,172 L305.35,172.5 L305.2,173 L305.07,173.5 L304.94,174 L304.82,174.5 L304.7,175 L304.59,175.5 L304.49,176 L304.39,176.5 L304.3,177 L304.21,177.5 L304.13,178 L304.05,178.5 L303.98,179 L303.91,179.5 L303.84,180 L303.77,180.5 L303.71,181 L303.65,181.5 L303.6,182 L303.54,182.5 L303.49,183 L303.44,183.5 L303.39,184 L303.35,184.5 L303.3,185 L303.26,185.5 L303.22,186 L303.18,186.5 L303.15,187 L303.11,187.5 L303.08,188 L303.05,188.5 L303.01,189 L302.98,189.5 L302.95,190 L302.93,190.5 L302.9,191 L302.87,191.5 L302.85,192 L302.82,192.5 L302.8,193 L302.78,193.5 L302.76,194 L302.73,194.5 L302.71,195 L302.69,195.5 L302.67,196 L302.66,196.5 L302.64,197 L302.62,197.5 L302.6,198 L302.59,198.5 L302.57,199 L302.56,199.5 L302.54,200 L302.53,200.5 L302.51,201 L302.5,201.5 L302.48,202 L302.47,202.5 L302.46,203 L302.45,203.5 L302.43,204 L302.42,204.5 L302.41,205 L302.4,205.5 L302.39,206 L302.38,206.5 L302.37,207 L302.36,207.5 L302.35,208 L302.34,208.5 L302.33,209 L302.32,209.5 L302.31,210 L302.31,210.5 L302.3,211 L302.29,211.5 L302.28,212 L302.27,212.5 L302.27,213 L302.26,213.5 L302.25,214 L302.24,214.5 L302.24,215 L302.23,215.5 L302.22,216 L302.22,216.5 L302.21,217 L302.21,217.5 L302.2,218 L302.19,218.5 L302.19,219 L302.18,219.5 L302.18,220 L302.17,220.5 L302.17,221 L302.16,221.5 L302.16,222 L302.15,222.5 L302.15,223 L302.14,223.5 L302.14,224 L302.13,224.5 L302.13,225 L302.12,225.5 L302.12,226 L302.12,226.5 L302.11,227 L302.11,227.5 L302.1,228 L302.1,228.5 L302.1,229 L302.09,229.5 L302.09,230 L302.08,230.5 L302.08,231 L302.08,231.5 L302.07,232 L302.07,232.5 L302.07,233 L302.06,233.5 L302.06,234 L302.06,234.5 L302.06,235 L302.05,235.5 L302.05,236 L302.05,236.5 L302.04,237 L302.04,237.5 L302.04,238 L302.04,238.5 L302.03,239 L302.03,239.5 L302.03,240 L302.02,240.5 L302.02,241 L302.02,241.5 L302.02,242 L302.02,242.5 L302.01,243 L302.01,243.5 L302.01,244 L302.01,244.5 L302,245 L302,245.5 L302,246 L302,246.5 L302,247 L301.99,247.5 L301.99,248 L301.99,248.5 L301.99,249 L301.99,249.5 L301.98,250 L301.98,250.5 L301.98,251 L301.98,251.5 L301.98,252 L301.98,252.5 L301.97,253 L301.97,253.5 L301.97,254 L301.97,254.5 L301.97,255 L301.97,255.5 L301.96,256 L301.96,256.5 L301.96,257 L301.96,257.5 L301.96,258 L301.96,258.5 L301.95,259 L301.95,259.5 L301.95,260 L301.95,260.5 L301.95,261 L301.95,261.5 L301.95,262 L301.95,262.5 L301.94,263 L301.94,263.5 L301.94,264 L301.94,264.5 L301.94,265 L301.94,265.5 L301.94,266 L301.94,266.5 L301.93,267 L301.93,267.5 L301.93,268 L301.93,268.5 L301.93,269 L301.93,269.5 L301.93,270 L301.93,270.5 L301.93,271 L301.92,271.5 L301.92,272 L301.92,272.5 L301.92,273 L301.92,273.5 L301.92,274 L301.92,274.5 L301.92,275 L301.92,275.5 L301.92,276 L301.91,276.5 L301.91,277 L301.91,277.5 L301.91,278 L301.91,278.5 L301.91,279 L301.91,279.5 L301.91,280" stroke="#1a20a8" stroke-width="1.3"/>
<path d="M302.28,3 L302.28,3.5 L302.29,4 L302.29,4.5 L302.29,5 L302.3,5.5 L302.3,6 L302.3,6.5 L302.3,7 L302.31,7.5 L302.31,8 L302.31,8.5 L302.32,9 L302.32,9.5 L302.32,10 L302.33,10.5 L302.33,11 L302.33,11.5 L302.34,12 L302.34,12.5 L302.34,13 L302.35,13.5 L302.35,14 L302.35,14.5 L302.36,15 L302.36,15.5 L302.36,16 L302.37,16.5 L302.37,17 L302.38,17.5 L302.38,18 L302.38,18.5 L302.39,19 L302.39,19.5 L302.39,20 L302.4,20.5 L302.4,21 L302.41,21.5 L302.41,22 L302.41,22.5 L302.42,23 L302.42,23.5 L302.43,24 L302.43,24.5 L302.44,25 L302.44,25.5 L302.44,26 L302.45,26.5 L302.45,27 L302.46,27.5 L302.46,28 L302.47,28.5 L302.47,29 L302.48,29.5 L302.48,30 L302.49,30.5 L302.49,31 L302.5,31.5 L302.5,32 L302.51,32.5 L302.51,33 L302.52,33.5 L302.52,34 L302.53,34.5 L302.53,35 L302.54,35.5 L302.54,36 L302.55,36.5 L302.55,37 L302.56,37.5 L302.56,38 L302.57,38.5 L302.58,39 L302.58,39.5 L302.59,40 L302.59,40.5 L302.6,41 L302.61,41.5 L302.61,42 L302.62,42.5 L302.63,43 L302.63,43.5 L302.64,44 L302.64,44.5 L302.65,45 L302.66,45.5 L302.66,46 L302.67,46.5 L302.68,47 L302.69,47.5 L302.69,48 L302.7,48.5 L302.71,49 L302.71,49.5 L302.72,50 L302.73,50.5 L302.74,51 L302.75,51.5 L302.75,52 L302.76,52.5 L302.77,53 L302.78,53.5 L302.79,54 L302.79,54.5 L302.8,55 L302.81,55.5 L302.82,56 L302.83,56.5 L302.84,57 L302.85,57.5 L302.86,58 L302.86,58.5 L302.87,59 L302.88,59.5 L302.89,60 L302.9,60.5 L302.91,61 L302.92,61.5 L302.93,62 L302.94,62.5 L302.95,63 L302.96,63.5 L302.98,64 L302.99,64.5 L303,65 L303.01,65.5 L303.02,66 L303.03,66.5 L303.04,67 L303.05,67.5 L303.07,68 L303.08,68.5 L303.09,69 L303.1,69.5 L303.12,70 L303.13,70.5 L303.14,71 L303.16,71.5 L303.17,72 L303.18,72.5 L303.2,73 L303.21,73.5 L303.23,74 L303.24,74.5 L303.25,75 L303.27,75.5 L303.28,76 L303.3,76.5 L303.32,77 L303.33,77.5 L303.35,78 L303.36,78.5 L303.38,79 L303.4,79.5 L303.42,80 L303.43,80.5 L303.45,81 L303.47,81.5 L303.49,82 L303.51,82.5 L303.52,83 L303.54,83.5 L303.56,84 L303.58,84.5 L303.6,85 L303.62,85.5 L303.65,86 L303.67,86.5 L303.69,87 L303.71,87.5 L303.73,88 L303.76,88.5 L303.78,89 L303.8,89.5 L303.83,90 L303.85,90.5 L303.88,91 L303.9,91.5 L303.93,92 L303.95,92.5 L303.98,93 L304.01,93.5 L304.04,94 L304.07,94.5 L304.09,95 L304.12,95.5 L304.15,96 L304.18,96.5 L304.22,97 L304.25,97.5 L304.28,98 L304.31,98.5 L304.35,99 L304.38,99.5 L304.42,100 L304.45,100.5 L304.49,101 L304.53,101.5 L304.57,102 L304.6,102.5 L304.64,103 L304.68,103.5 L304.73,104 L304.77,104.5 L304.81,105 L304.86,105.5 L304.9,106 L304.95,106.5 L304.99,107 L305.04,107.5 L305.09,108 L305.14,108.5 L305.19,109 L305.25,109.5 L305.3,110 L305.36,110.5 L305.41,111 L305.47,111.5 L305.53,112 L305.59,112.5 L305.65,113 L305.72,113.5 L305.78,114 L305.85,114.5 L305.92,115 L305.99,115.5 L306.06,116 L306.14,116.5 L306.21,117 L306.29,117.5 L306.37,118 L306.45,118.5 L306.54,119 L306.62,119.5 L306.71,120 L306.8,120.5 L306.9,121 L306.99,121.5 L307.09,122 L307.19,122.5 L307.3,123 L307.41,123.5 L307.52,124 L307.63,124.5 L307.75,125 L307.87,125.5 L307.99,126 L308.12,126.5 L308.25,127 L308.39,127.5 L308.53,128 L308.67,128.5 L308.82,129 L308.98,129.5 L309.14,130 L309.3,130.5 L309.47,131 L309.64,131.5 L309.83,132 L310.01,132.5 L310.21,133 L310.4,133.5 L310.61,134 L310.83,134.5 L311.05,135 L311.28,135.5 L311.51,136 L311.76,136.5 L312.01,137 L312.28,137.5 L312.55,138 L312.84,138.5 L313.13,139 L313.44,139.5 L313.76,140 L314.09,140.5 L314.43,141 L314.79,141.5 L315.16,142 L315.54,142.5 L315.95,143 L316.36,143.5 L316.8,144 L317.25,144.5 L317.73,145 L318.22,145.5 L318.73,146 L319.27,146.5 L319.83,147 L320.41,147.5 L321.02,148 L321.65,148.5 L322.32,149 L323.01,149.5 L323.73,150 L324.49,150.5 L325.28,151 L326.1,151.5 L326.96,152 L327.86,152.5 L328.8,153 L329.78,153.5 L330.81,154 L331.87,154.5 L332.99,155 L334.15,155.5 L335.36,156 L336.62,156.5 L337.94,157 L339.3,157.5 L340.71,158 L342.18,158.5 L343.7,159 L345.26,159.5 L346.87,160 L348.53,160.5 L350.23,161 L351.96,161.5 L353.72,162 L355.51,162.5 L357.31,163 L359.11,163.5 L360.91,164 L362.69,164.5 L364.43,165 L366.12,165.5 L367.75,166 L369.3,166.5 L370.75,167 L372.08,167.5 L373.27,168 L374.31,168.5 L375.19,169 L375.89,169.5 L376.39,170 L376.7,170.5 L376.8,171 L376.74,171.5 L376.54,172 L376.22,172.5 L375.78,173 L375.21,173.5 L374.53,174 L373.75,174.5 L372.87,175 L371.89,175.5 L370.83,176 L369.69,176.5 L368.49,177 L367.23,177.5 L365.93,178 L364.58,178.5 L363.2,179 L361.8,179.5 L360.38,180 L358.95,180.5 L357.52,181 L356.09,181.5 L354.67,182 L353.25,182.5 L351.86,183 L350.48,183.5 L349.13,184 L347.79,184.5 L346.49,185 L345.22,185.5 L343.97,186 L342.75,186.5 L341.57,187 L340.42,187.5 L339.3,188 L338.21,188.5 L337.16,189 L336.14,189.5 L335.15,190 L334.19,190.5 L333.26,191 L332.36,191.5 L331.49,192 L330.65,192.5 L329.84,193 L329.06,193.5 L328.3,194 L327.57,194.5 L326.86,195 L326.17,195.5 L325.51,196 L324.88,196.5 L324.26,197 L323.67,197.5 L323.09,198 L322.54,198.5 L322,199 L321.48,199.5 L320.98,200 L320.5,200.5 L320.03,201 L319.58,201.5 L319.14,202 L318.72,202.5 L318.31,203 L317.91,203.5 L317.53,204 L317.16,204.5 L316.8,205 L316.45,205.5 L316.12,206 L315.79,206.5 L315.48,207 L315.17,207.5 L314.87,208 L314.59,208.5 L314.31,209 L314.04,209.5 L313.78,210 L313.52,210.5 L313.27,211 L313.03,211.5 L312.8,212 L312.58,212.5 L312.36,213 L312.14,213.5 L311.94,214 L311.74,214.5 L311.54,215 L311.35,215.5 L311.17,216 L310.99,216.5 L310.81,217 L310.64,217.5 L310.48,218 L310.32,218.5 L310.16,219 L310.01,219.5 L309.86,220 L309.71,220.5 L309.57,221 L309.43,221.5 L309.3,222 L309.17,222.5 L309.04,223 L308.92,223.5 L308.8,224 L308.68,224.5 L308.56,225 L308.45,225.5 L308.34,226 L308.23,226.5 L308.13,227 L308.03,227.5 L307.93,228 L307.83,228.5 L307.73,229 L307.64,229.5 L307.55,230 L307.46,230.5 L307.37,231 L307.29,231.5 L307.21,232 L307.12,232.5 L307.04,233 L306.97,233.5 L306.89,234 L306.82,234.5 L306.74,235 L306.67,235.5 L306.6,236 L306.53,236.5 L306.47,237 L306.4,237.5 L306.34,238 L306.27,238.5 L306.21,239 L306.15,239.5 L306.09,240 L306.03,240.5 L305.98,241 L305.92,241.5 L305.87,242 L305.81,242.5 L305.76,243 L305.71,243.5 L305.66,244 L305.61,244.5 L305.56,245 L305.51,245.5 L305.47,246 L305.42,246.5 L305.37,247 L305.33,247.5 L305.29,248 L305.24,248.5 L305.2,249 L305.16,249.5 L305.12,250 L305.08,250.5 L305.04,251 L305,251.5 L304.96,252 L304.93,252.5 L304.89,253 L304.85,253.5 L304.82,254 L304.79,254.5 L304.75,255 L304.72,255.5 L304.68,256 L304.65,256.5 L304.62,257 L304.59,257.5 L304.56,258 L304.53,258.5 L304.5,259 L304.47,259.5 L304.44,260 L304.41,260.5 L304.38,261 L304.36,261.5 L304.33,262 L304.3,262.5 L304.28,263 L304.25,263.5 L304.23,264 L304.2,264.5 L304.18,265 L304.15,265.5 L304.13,266 L304.1,266.5 L304.08,267 L304.06,267.5 L304.03,268 L304.01,268.5 L303.99,269 L303.97,269.5 L303.95,270 L303.93,270.5 L303.91,271 L303.89,271.5 L303.87,272 L303.85,272.5 L303.83,273 L303.81,273.5 L303.79,274 L303.77,274.5 L303.75,275 L303.73,275.5 L303.72,276 L303.7,276.5 L303.68,277 L303.66,277.5 L303.65,278 L303.63,278.5 L303.61,279 L303.6,279.5 L303.58,280" stroke="#a030c8" stroke-width="1.3"/>
<path d="M301.82,3 L301.82,3.5 L301.82,4 L301.82,4.5 L301.82,5 L301.82,5.5 L301.82,6 L301.82,6.5 L301.82,7 L301.82,7.5 L301.82,8 L301.82,8.5 L301.82,9 L301.82,9.5 L301.82,10 L301.82,10.5 L301.82,11 L301.82,11.5 L301.82,12 L301.82,12.5 L301.82,13 L301.82,13.5 L301.82,14 L301.82,14.5 L301.82,15 L301.82,15.5 L301.82,16 L301.83,16.5 L301.83,17 L301.83,17.5 L301.83,18 L301.83,18.5 L301.83,19 L301.83,19.5 L301.83,20 L301.83,20.5 L301.83,21 L301.83,21.5 L301.83,22 L301.83,22.5 L301.83,23 L301.83,23.5 L301.83,24 L301.83,24.5 L301.83,25 L301.83,25.5 L301.83,26 L301.83,26.5 L301.83,27 L301.83,27.5 L301.83,28 L301.83,28.5 L301.83,29 L301.83,29.5 L301.83,30 L301.83,30.5 L301.83,31 L301.83,31.5 L301.83,32 L301.83,32.5 L301.83,33 L301.83,33.5 L301.83,34 L301.83,34.5 L301.83,35 L301.83,35.5 L301.83,36 L301.83,36.5 L301.83,37 L301.83,37.5 L301.83,38 L301.83,38.5 L301.83,39 L301.83,39.5 L301.83,40 L301.83,40.5 L301.83,41 L301.83,41.5 L301.83,42 L301.84,42.5 L301.84,43 L301.84,43.5 L301.84,44 L301.84,44.5 L301.84,45 L301.84,45.5 L301.84,46 L301.84,46.5 L301.84,47 L301.84,47.5 L301.84,48 L301.84,48.5 L301.84,49 L301.84,49.5 L301.84,50 L301.84,50.5 L301.84,51 L301.84,51.5 L301.84,52 L301.84,52.5 L301.84,53 L301.84,53.5 L301.84,54 L301.84,54.5 L301.84,55 L301.84,55.5 L301.84,56 L301.84,56.5 L301.84,57 L301.84,57.5 L301.84,58 L301.84,58.5 L301.85,59 L301.85,59.5 L301.85,60 L301.85,60.5 L301.85,61 L301.85,61.5 L301.85,62 L301.85,62.5 L301.85,63 L301.85,63.5 L301.85,64 L301.85,64.5 L301.85,65 L301.85,65.5 L301.85,66 L301.85,66.5 L301.85,67 L301.85,67.5 L301.85,68 L301.85,68.5 L301.85,69 L301.85,69.5 L301.85,70 L301.85,70.5 L301.86,71 L301.86,71.5 L301.86,72 L301.86,72.5 L301.86,73 L301.86,73.5 L301.86,74 L301.86,74.5 L301.86,75 L301.86,75.5 L301.86,76 L301.86,76.5 L301.86,77 L301.86,77.5 L301.86,78 L301.86,78.5 L301.86,79 L301.86,79.5 L301.87,80 L301.87,80.5 L301.87,81 L301.87,81.5 L301.87,82 L301.87,82.5 L301.87,83 L301.87,83.5 L301.87,84 L301.87,84.5 L301.87,85 L301.87,85.5 L301.87,86 L301.87,86.5 L301.88,87 L301.88,87.5 L301.88,88 L301.88,88.5 L301.88,89 L301.88,89.5 L301.88,90 L301.88,90.5 L301.88,91 L301.88,91.5 L301.88,92 L301.88,92.5 L301.89,93 L301.89,93.5 L301.89,94 L301.89,94.5 L301.89,95 L301.89,95.5 L301.89,96 L301.89,96.5 L301.89,97 L301.89,97.5 L301.9,98 L301.9,98.5 L301.9,99 L301.9,99.5 L301.9,100 L301.9,100.5 L301.9,101 L301.9,101.5 L301.91,102 L301.91,102.5 L301.91,103 L301.91,103.5 L301.91,104 L301.91,104.5 L301.91,105 L301.92,105.5 L301.92,106 L301.92,106.5 L301.92,107 L301.92,107.5 L301.92,108 L301.92,108.5 L301.93,109 L301.93,109.5 L301.93,110 L301.93,110.5 L301.93,111 L301.94,111.5 L301.94,112 L301.94,112.5 L301.94,113 L301.94,113.5 L301.95,114 L301.95,114.5 L301.95,115 L301.95,115.5 L301.95,116 L301.96,116.5 L301.96,117 L301.96,117.5 L301.96,118 L301.97,118.5 L301.97,119 L301.97,119.5 L301.97,120 L301.98,120.5 L301.98,121 L301.98,121.5 L301.99,122 L301.99,122.5 L301.99,123 L301.99,123.5 L302,124 L302,124.5 L302,125 L302.01,125.5 L302.01,126 L302.02,126.5 L302.02,127 L302.02,127.5 L302.03,128 L302.03,128.5 L302.04,129 L302.04,129.5 L302.05,130 L302.05,130.5 L302.05,131 L302.06,131.5 L302.06,132 L302.07,132.5 L302.07,133 L302.08,133.5 L302.09,134 L302.09,134.5 L302.1,135 L302.1,135.5 L302.11,136 L302.12,136.5 L302.12,137 L302.13,137.5 L302.14,138 L302.15,138.5 L302.15,139 L302.16,139.5 L302.17,140 L302.18,140.5 L302.19,141 L302.2,141.5 L302.21,142 L302.22,142.5 L302.23,143 L302.24,143.5 L302.25,144 L302.26,144.5 L302.27,145 L302.28,145.5 L302.3,146 L302.31,146.5 L302.32,147 L302.34,147.5 L302.35,148 L302.37,148.5 L302.39,149 L302.4,149.5 L302.42,150 L302.44,150.5 L302.46,151 L302.48,151.5 L302.5,152 L302.52,152.5 L302.55,153 L302.57,153.5 L302.6,154 L302.63,154.5 L302.65,155 L302.68,155.5 L302.72,156 L302.75,156.5 L302.79,157 L302.82,157.5 L302.86,158 L302.9,158.5 L302.95,159 L302.99,159.5 L303.04,160 L303.1,160.5 L303.15,161 L303.21,161.5 L303.28,162 L303.34,162.5 L303.42,163 L303.49,163.5 L303.58,164 L303.67,164.5 L303.76,165 L303.87,165.5 L303.98,166 L304.1,166.5 L304.23,167 L304.37,167.5 L304.53,168 L304.69,168.5 L304.88,169 L305.07,169.5 L305.29,170 L305.53,170.5 L305.79,171 L306.08,171.5 L306.4,172 L306.75,172.5 L307.14,173 L307.57,173.5 L308.05,174 L308.59,174.5 L309.18,175 L309.84,175.5 L310.58,176 L311.4,176.5 L312.3,177 L313.3,177.5 L314.39,178 L315.58,178.5 L316.84,179 L318.17,179.5 L319.53,180 L320.86,180.5 L322.11,181 L323.21,181.5 L324.06,182 L324.61,182.5 L324.8,183 L324.61,183.5 L324.06,184 L323.21,184.5 L322.11,185 L320.86,185.5 L319.53,186 L318.17,186.5 L316.84,187 L315.58,187.5 L314.39,188 L313.3,188.5 L312.3,189 L311.4,189.5 L310.58,190 L309.84,190.5 L309.18,191 L308.59,191.5 L308.05,192 L307.57,192.5 L307.14,193 L306.75,193.5 L306.4,194 L306.08,194.5 L305.79,195 L305.53,195.5 L305.29,196 L305.07,196.5 L304.88,197 L304.69,197.5 L304.53,198 L304.37,198.5 L304.23,199 L304.1,199.5 L303.98,200 L303.87,200.5 L303.76,201 L303.67,201.5 L303.58,202 L303.49,202.5 L303.42,203 L303.34,203.5 L303.28,204 L303.21,204.5 L303.15,205 L303.1,205.5 L303.04,206 L302.99,206.5 L302.95,207 L302.9,207.5 L302.86,208 L302.82,208.5 L302.79,209 L302.75,209.5 L302.72,210 L302.68,210.5 L302.65,211 L302.63,211.5 L302.6,212 L302.57,212.5 L302.55,213 L302.52,213.5 L302.5,214 L302.48,214.5 L302.46,215 L302.44,215.5 L302.42,216 L302.4,216.5 L302.39,217 L302.37,217.5 L302.35,218 L302.34,218.5 L302.32,219 L302.31,219.5 L302.3,220 L302.28,220.5 L302.27,221 L302.26,221.5 L302.25,222 L302.24,222.5 L302.23,223 L302.22,223.5 L302.21,224 L302.2,224.5 L302.19,225 L302.18,225.5 L302.17,226 L302.16,226.5 L302.15,227 L302.15,227.5 L302.14,228 L302.13,228.5 L302.12,229 L302.12,229.5 L302.11,230 L302.1,230.5 L302.1,231 L302.09,231.5 L302.09,232 L302.08,232.5 L302.07,233 L302.07,233.5 L302.06,234 L302.06,234.5 L302.05,235 L302.05,235.5 L302.05,236 L302.04,236.5 L302.04,237 L302.03,237.5 L302.03,238 L302.02,238.5 L302.02,239 L302.02,239.5 L302.01,240 L302.01,240.5 L302,241 L302,241.5 L302,242 L301.99,242.5 L301.99,243 L301.99,243.5 L301.99,244 L301.98,244.5 L301.98,245 L301.98,245.5 L301.97,246 L301.97,246.5 L301.97,247 L301.97,247.5 L301.96,248 L301.96,248.5 L301.96,249 L301.96,249.5 L301.95,250 L301.95,250.5 L301.95,251 L301.95,251.5 L301.95,252 L301.94,252.5 L301.94,253 L301.94,253.5 L301.94,254 L301.94,254.5 L301.93,255 L301.93,255.5 L301.93,256 L301.93,256.5 L301.93,257 L301.92,257.5 L301.92,258 L301.92,258.5 L301.92,259 L301.92,259.5 L301.92,260 L301.92,260.5 L301.91,261 L301.91,261.5 L301.91,262 L301.91,262.5 L301.91,263 L301.91,263.5 L301.91,264 L301.9,264.5 L301.9,265 L301.9,265.5 L301.9,266 L301.9,266.5 L301.9,267 L301.9,267.5 L301.9,268 L301.89,268.5 L301.89,269 L301.89,269.5 L301.89,270 L301.89,270.5 L301.89,271 L301.89,271.5 L301.89,272 L301.89,272.5 L301.89,273 L301.88,273.5 L301.88,274 L301.88,274.5 L301.88,275 L301.88,275.5 L301.88,276 L301.88,276.5 L301.88,277 L301.88,277.5 L301.88,278 L301.88,278.5 L301.88,279 L301.87,279.5 L301.87,280" stroke="#a02010" stroke-width="1.3"/>
<path d="M301.81,3 L301.81,3.5 L301.81,4 L301.81,4.5 L301.81,5 L301.81,5.5 L301.81,6 L301.81,6.5 L301.81,7 L301.81,7.5 L301.81,8 L301.82,8.5 L301.82,9 L301.82,9.5 L301.82,10 L301.82,10.5 L301.82,11 L301.82,11.5 L301.82,12 L301.82,12.5 L301.82,13 L301.82,13.5 L301.82,14 L301.82,14.5 L301.82,15 L301.82,15.5 L301.82,16 L301.82,16.5 L301.82,17 L301.82,17.5 L301.82,18 L301.82,18.5 L301.82,19 L301.82,19.5 L301.82,20 L301.82,20.5 L301.82,21 L301.82,21.5 L301.82,22 L301.82,22.5 L301.82,23 L301.82,23.5 L301.82,24 L301.82,24.5 L301.82,25 L301.82,25.5 L301.82,26 L301.82,26.5 L301.82,27 L301.82,27.5 L301.82,28 L301.82,28.5 L301.82,29 L301.82,29.5 L301.82,30 L301.82,30.5 L301.82,31 L301.82,31.5 L301.82,32 L301.82,32.5 L301.82,33 L301.82,33.5 L301.82,34 L301.82,34.5 L301.82,35 L301.82,35.5 L301.82,36 L301.82,36.5 L301.82,37 L301.82,37.5 L301.82,38 L301.82,38.5 L301.82,39 L301.82,39.5 L301.82,40 L301.82,40.5 L301.82,41 L301.82,41.5 L301.82,42 L301.82,42.5 L301.82,43 L301.82,43.5 L301.82,44 L301.82,44.5 L301.82,45 L301.82,45.5 L301.82,46 L301.82,46.5 L301.82,47 L301.82,47.5 L301.82,48 L301.82,48.5 L301.82,49 L301.83,49.5 L301.83,50 L301.83,50.5 L301.83,51 L301.83,51.5 L301.83,52 L301.83,52.5 L301.83,53 L301.83,53.5 L301.83,54 L301.83,54.5 L301.83,55 L301.83,55.5 L301.83,56 L301.83,56.5 L301.83,57 L301.83,57.5 L301.83,58 L301.83,58.5 L301.83,59 L301.83,59.5 L301.83,60 L301.83,60.5 L301.83,61 L301.83,61.5 L301.83,62 L301.83,62.5 L301.83,63 L301.83,63.5 L301.83,64 L301.83,64.5 L301.83,65 L301.83,65.5 L301.83,66 L301.83,66.5 L301.83,67 L301.83,67.5 L301.83,68 L301.83,68.5 L301.83,69 L301.83,69.5 L301.83,70 L301.83,70.5 L301.84,71 L301.84,71.5 L301.84,72 L301.84,72.5 L301.84,73 L301.84,73.5 L301.84,74 L301.84,74.5 L301.84,75 L301.84,75.5 L301.84,76 L301.84,76.5 L301.84,77 L301.84,77.5 L301.84,78 L301.84,78.5 L301.84,79 L301.84,79.5 L301.84,80 L301.84,80.5 L301.84,81 L301.84,81.5 L301.84,82 L301.84,82.5 L301.84,83 L301.84,83.5 L301.84,84 L301.84,84.5 L301.84,85 L301.85,85.5 L301.85,86 L301.85,86.5 L301.85,87 L301.85,87.5 L301.85,88 L301.85,88.5 L301.85,89 L301.85,89.5 L301.85,90 L301.85,90.5 L301.85,91 L301.85,91.5 L301.85,92 L301.85,92.5 L301.85,93 L301.85,93.5 L301.85,94 L301.85,94.5 L301.85,95 L301.86,95.5 L301.86,96 L301.86,96.5 L301.86,97 L301.86,97.5 L301.86,98 L301.86,98.5 L301.86,99 L301.86,99.5 L301.86,100 L301.86,100.5 L301.86,101 L301.86,101.5 L301.86,102 L301.86,102.5 L301.87,103 L301.87,103.5 L301.87,104 L301.87,104.5 L301.87,105 L301.87,105.5 L301.87,106 L301.87,106.5 L301.87,107 L301.87,107.5 L301.87,108 L301.87,108.5 L301.88,109 L301.88,109.5 L301.88,110 L301.88,110.5 L301.88,111 L301.88,111.5 L301.88,112 L301.88,112.5 L301.88,113 L301.88,113.5 L301.89,114 L301.89,114.5 L301.89,115 L301.89,115.5 L301.89,116 L301.89,116.5 L301.89,117 L301.89,117.5 L301.9,118 L301.9,118.5 L301.9,119 L301.9,119.5 L301.9,120 L301.9,120.5 L301.9,121 L301.91,121.5 L301.91,122 L301.91,122.5 L301.91,123 L301.91,123.5 L301.91,124 L301.92,124.5 L301.92,125 L301.92,125.5 L301.92,126 L301.92,126.5 L301.93,127 L301.93,127.5 L301.93,128 L301.93,128.5 L301.93,129 L301.94,129.5 L301.94,130 L301.94,130.5 L301.94,131 L301.95,131.5 L301.95,132 L301.95,132.5 L301.95,133 L301.96,133.5 L301.96,134 L301.96,134.5 L301.96,135 L301.97,135.5 L301.97,136 L301.97,136.5 L301.98,137 L301.98,137.5 L301.98,138 L301.99,138.5 L301.99,139 L301.99,139.5 L302,140 L302,140.5 L302.01,141 L302.01,141.5 L302.02,142 L302.02,142.5 L302.02,143 L302.03,143.5 L302.03,144 L302.04,144.5 L302.05,145 L302.05,145.5 L302.06,146 L302.06,146.5 L302.07,147 L302.07,147.5 L302.08,148 L302.09,148.5 L302.1,149 L302.1,149.5 L302.11,150 L302.12,150.5 L302.13,151 L302.13,151.5 L302.14,152 L302.15,152.5 L302.16,153 L302.17,153.5 L302.18,154 L302.19,154.5 L302.2,155 L302.22,155.5 L302.23,156 L302.24,156.5 L302.25,157 L302.27,157.5 L302.28,158 L302.3,158.5 L302.31,159 L302.33,159.5 L302.35,160 L302.37,160.5 L302.39,161 L302.41,161.5 L302.43,162 L302.45,162.5 L302.48,163 L302.5,163.5 L302.53,164 L302.56,164.5 L302.59,165 L302.62,165.5 L302.65,166 L302.69,166.5 L302.73,167 L302.77,167.5 L302.81,168 L302.86,168.5 L302.91,169 L302.96,169.5 L303.02,170 L303.08,170.5 L303.14,171 L303.22,171.5 L303.29,172 L303.38,172.5 L303.47,173 L303.56,173.5 L303.67,174 L303.79,174.5 L303.91,175 L304.05,175.5 L304.21,176 L304.37,176.5 L304.56,177 L304.77,177.5 L305,178 L305.25,178.5 L305.54,179 L305.86,179.5 L306.22,180 L306.63,180.5 L307.09,181 L307.62,181.5 L308.22,182 L308.91,182.5 L309.7,183 L310.61,183.5 L311.65,184 L312.85,184.5 L314.23,185 L315.8,185.5 L317.57,186 L319.52,186.5 L321.61,187 L323.77,187.5 L325.86,188 L327.69,188.5 L329.04,189 L329.74,189.5 L329.66,190 L328.82,190.5 L327.35,191 L325.46,191.5 L323.34,192 L321.18,192.5 L319.11,193 L317.2,193.5 L315.47,194 L313.94,194.5 L312.6,195 L311.43,195.5 L310.42,196 L309.53,196.5 L308.76,197 L308.09,197.5 L307.51,198 L306.99,198.5 L306.54,199 L306.14,199.5 L305.79,200 L305.48,200.5 L305.2,201 L304.95,201.5 L304.72,202 L304.52,202.5 L304.34,203 L304.17,203.5 L304.02,204 L303.89,204.5 L303.76,205 L303.65,205.5 L303.54,206 L303.45,206.5 L303.36,207 L303.28,207.5 L303.2,208 L303.13,208.5 L303.07,209 L303.01,209.5 L302.95,210 L302.9,210.5 L302.85,211 L302.8,211.5 L302.76,212 L302.72,212.5 L302.68,213 L302.65,213.5 L302.61,214 L302.58,214.5 L302.55,215 L302.52,215.5 L302.5,216 L302.47,216.5 L302.45,217 L302.42,217.5 L302.4,218 L302.38,218.5 L302.36,219 L302.35,219.5 L302.33,220 L302.31,220.5 L302.3,221 L302.28,221.5 L302.27,222 L302.25,222.5 L302.24,223 L302.23,223.5 L302.21,224 L302.2,224.5 L302.19,225 L302.18,225.5 L302.17,226 L302.16,226.5 L302.15,227 L302.14,227.5 L302.13,228 L302.12,228.5 L302.12,229 L302.11,229.5 L302.1,230 L302.09,230.5 L302.09,231 L302.08,231.5 L302.07,232 L302.07,232.5 L302.06,233 L302.06,233.5 L302.05,234 L302.04,234.5 L302.04,235 L302.03,235.5 L302.03,236 L302.02,236.5 L302.02,237 L302.01,237.5 L302.01,238 L302.01,238.5 L302,239 L302,239.5 L301.99,240 L301.99,240.5 L301.99,241 L301.98,241.5 L301.98,242 L301.98,242.5 L301.97,243 L301.97,243.5 L301.97,244 L301.96,244.5 L301.96,245 L301.96,245.5 L301.95,246 L301.95,246.5 L301.95,247 L301.95,247.5 L301.94,248 L301.94,248.5 L301.94,249 L301.94,249.5 L301.94,250 L301.93,250.5 L301.93,251 L301.93,251.5 L301.93,252 L301.92,252.5 L301.92,253 L301.92,253.5 L301.92,254 L301.92,254.5 L301.92,255 L301.91,255.5 L301.91,256 L301.91,256.5 L301.91,257 L301.91,257.5 L301.91,258 L301.9,258.5 L301.9,259 L301.9,259.5 L301.9,260 L301.9,260.5 L301.9,261 L301.9,261.5 L301.89,262 L301.89,262.5 L301.89,263 L301.89,263.5 L301.89,264 L301.89,264.5 L301.89,265 L301.89,265.5 L301.88,266 L301.88,266.5 L301.88,267 L301.88,267.5 L301.88,268 L301.88,268.5 L301.88,269 L301.88,269.5 L301.88,270 L301.88,270.5 L301.87,271 L301.87,271.5 L301.87,272 L301.87,272.5 L301.87,273 L301.87,273.5 L301.87,274 L301.87,274.5 L301.87,275 L301.87,275.5 L301.87,276 L301.87,276.5 L301.86,277 L301.86,277.5 L301.86,278 L301.86,278.5 L301.86,279 L301.86,279.5 L301.86,280" stroke="#20a030" stroke-width="1.3"/>
<path d="M301.81,3 L301.81,3.5 L301.81,4 L301.81,4.5 L301.81,5 L301.81,5.5 L301.81,6 L301.81,6.5 L301.81,7 L301.81,7.5 L301.81,8 L301.81,8.5 L301.81,9 L301.81,9.5 L301.81,10 L301.81,10.5 L301.81,11 L301.81,11.5 L301.81,12 L301.81,12.5 L301.81,13 L301.81,13.5 L301.81,14 L301.81,14.5 L301.81,15 L301.81,15.5 L301.81,16 L301.81,16.5 L301.81,17 L301.81,17.5 L301.81,18 L301.81,18.5 L301.81,19 L301.81,19.5 L301.81,20 L301.81,20.5 L301.81,21 L301.81,21.5 L301.81,22 L301.81,22.5 L301.81,23 L301.81,23.5 L301.81,24 L301.81,24.5 L301.81,25 L301.81,25.5 L301.81,26 L301.81,26.5 L301.81,27 L301.81,27.5 L301.81,28 L301.81,28.5 L301.81,29 L301.81,29.5 L301.81,30 L301.81,30.5 L301.81,31 L301.81,31.5 L301.81,32 L301.81,32.5 L301.81,33 L301.81,33.5 L301.81,34 L301.81,34.5 L301.81,35 L301.81,35.5 L301.81,36 L301.81,36.5 L301.81,37 L301.81,37.5 L301.81,38 L301.81,38.5 L301.81,39 L301.81,39.5 L301.81,40 L301.81,40.5 L301.81,41 L301.81,41.5 L301.81,42 L301.81,42.5 L301.81,43 L301.81,43.5 L301.81,44 L301.81,44.5 L301.81,45 L301.81,45.5 L301.81,46 L301.81,46.5 L301.81,47 L301.81,47.5 L301.81,48 L301.81,48.5 L301.81,49 L301.81,49.5 L301.81,50 L301.81,50.5 L301.81,51 L301.81,51.5 L301.81,52 L301.81,52.5 L301.81,53 L301.81,53.5 L301.81,54 L301.81,54.5 L301.81,55 L301.81,55.5 L301.81,56 L301.81,56.5 L301.81,57 L301.82,57.5 L301.82,58 L301.82,58.5 L301.82,59 L301.82,59.5 L301.82,60 L301.82,60.5 L301.82,61 L301.82,61.5 L301.82,62 L301.82,62.5 L301.82,63 L301.82,63.5 L301.82,64 L301.82,64.5 L301.82,65 L301.82,65.5 L301.82,66 L301.82,66.5 L301.82,67 L301.82,67.5 L301.82,68 L301.82,68.5 L301.82,69 L301.82,69.5 L301.82,70 L301.82,70.5 L301.82,71 L301.82,71.5 L301.82,72 L301.82,72.5 L301.82,73 L301.82,73.5 L301.82,74 L301.82,74.5 L301.82,75 L301.82,75.5 L301.82,76 L301.82,76.5 L301.82,77 L301.82,77.5 L301.82,78 L301.82,78.5 L301.82,79 L301.82,79.5 L301.82,80 L301.82,80.5 L301.82,81 L301.82,81.5 L301.82,82 L301.82,82.5 L301.82,83 L301.82,83.5 L301.82,84 L301.82,84.5 L301.82,85 L301.82,85.5 L301.82,86 L301.82,86.5 L301.82,87 L301.82,87.5 L301.82,88 L301.82,88.5 L301.82,89 L301.82,89.5 L301.82,90 L301.82,90.5 L301.82,91 L301.82,91.5 L301.82,92 L301.83,92.5 L301.83,93 L301.83,93.5 L301.83,94 L301.83,94.5 L301.83,95 L301.83,95.5 L301.83,96 L301.83,96.5 L301.83,97 L301.83,97.5 L301.83,98 L301.83,98.5 L301.83,99 L301.83,99.5 L301.83,100 L301.83,100.5 L301.83,101 L301.83,101.5 L301.83,102 L301.83,102.5 L301.83,103 L301.83,103.5 L301.83,104 L301.83,104.5 L301.83,105 L301.83,105.5 L301.83,106 L301.83,106.5 L301.83,107 L301.83,107.5 L301.83,108 L301.83,108.5 L301.83,109 L301.83,109.5 L301.83,110 L301.83,110.5 L301.84,111 L301.84,111.5 L301.84,112 L301.84,112.5 L301.84,113 L301.84,113.5 L301.84,114 L301.84,114.5 L301.84,115 L301.84,115.5 L301.84,116 L301.84,116.5 L301.84,117 L301.84,117.5 L301.84,118 L301.84,118.5 L301.84,119 L301.84,119.5 L301.84,120 L301.84,120.5 L301.84,121 L301.84,121.5 L301.84,122 L301.84,122.5 L301.85,123 L301.85,123.5 L301.85,124 L301.85,124.5 L301.85,125 L301.85,125.5 L301.85,126 L301.85,126.5 L301.85,127 L301.85,127.5 L301.85,128 L301.85,128.5 L301.85,129 L301.85,129.5 L301.85,130 L301.85,130.5 L301.85,131 L301.86,131.5 L301.86,132 L301.86,132.5 L301.86,133 L301.86,133.5 L301.86,134 L301.86,134.5 L301.86,135 L301.86,135.5 L301.86,136 L301.86,136.5 L301.86,137 L301.86,137.5 L301.87,138 L301.87,138.5 L301.87,139 L301.87,139.5 L301.87,140 L301.87,140.5 L301.87,141 L301.87,141.5 L301.87,142 L301.87,142.5 L301.88,143 L301.88,143.5 L301.88,144 L301.88,144.5 L301.88,145 L301.88,145.5 L301.88,146 L301.88,146.5 L301.88,147 L301.89,147.5 L301.89,148 L301.89,148.5 L301.89,149 L301.89,149.5 L301.89,150 L301.89,150.5 L301.9,151 L301.9,151.5 L301.9,152 L301.9,152.5 L301.9,153 L301.9,153.5 L301.91,154 L301.91,154.5 L301.91,155 L301.91,155.5 L301.91,156 L301.92,156.5 L301.92,157 L301.92,157.5 L301.92,158 L301.92,158.5 L301.93,159 L301.93,159.5 L301.93,160 L301.93,160.5 L301.94,161 L301.94,161.5 L301.94,162 L301.94,162.5 L301.95,163 L301.95,163.5 L301.95,164 L301.96,164.5 L301.96,165 L301.96,165.5 L301.97,166 L301.97,166.5 L301.97,167 L301.98,167.5 L301.98,168 L301.99,168.5 L301.99,169 L302,169.5 L302,170 L302,170.5 L302.01,171 L302.01,171.5 L302.02,172 L302.03,172.5 L302.03,173 L302.04,173.5 L302.04,174 L302.05,174.5 L302.06,175 L302.06,175.5 L302.07,176 L302.08,176.5 L302.09,177 L302.09,177.5 L302.1,178 L302.11,178.5 L302.12,179 L302.13,179.5 L302.14,180 L302.15,180.5 L302.16,181 L302.17,181.5 L302.18,182 L302.2,182.5 L302.21,183 L302.22,183.5 L302.24,184 L302.25,184.5 L302.27,185 L302.29,185.5 L302.31,186 L302.32,186.5 L302.34,187 L302.37,187.5 L302.39,188 L302.41,188.5 L302.44,189 L302.46,189.5 L302.49,190 L302.52,190.5 L302.55,191 L302.59,191.5 L302.63,192 L302.66,192.5 L302.71,193 L302.75,193.5 L302.8,194 L302.85,194.5 L302.91,195 L302.97,195.5 L303.03,196 L303.1,196.5 L303.18,197 L303.26,197.5 L303.35,198 L303.45,198.5 L303.56,199 L303.67,199.5 L303.8,200 L303.94,200.5 L304.09,201 L304.26,201.5 L304.45,202 L304.65,202.5 L304.88,203 L305.13,203.5 L305.4,204 L305.7,204.5 L306.04,205 L306.4,205.5 L306.8,206 L307.23,206.5 L307.7,207 L308.2,207.5 L308.72,208 L309.26,208.5 L309.8,209 L310.32,209.5 L310.8,210 L311.21,210.5 L311.53,211 L311.73,211.5 L311.8,212 L311.73,212.5 L311.53,213 L311.21,213.5 L310.8,214 L310.32,214.5 L309.8,215 L309.26,215.5 L308.72,216 L308.2,216.5 L307.7,217 L307.23,217.5 L306.8,218 L306.4,218.5 L306.04,219 L305.7,219.5 L305.4,220 L305.13,220.5 L304.88,221 L304.65,221.5 L304.45,222 L304.26,222.5 L304.09,223 L303.94,223.5 L303.8,224 L303.67,224.5 L303.56,225 L303.45,225.5 L303.35,226 L303.26,226.5 L303.18,227 L303.1,227.5 L303.03,228 L302.97,228.5 L302.91,229 L302.85,229.5 L302.8,230 L302.75,230.5 L302.71,231 L302.66,231.5 L302.63,232 L302.59,232.5 L302.55,233 L302.52,233.5 L302.49,234 L302.46,234.5 L302.44,235 L302.41,235.5 L302.39,236 L302.37,236.5 L302.34,237 L302.32,237.5 L302.31,238 L302.29,238.5 L302.27,239 L302.25,239.5 L302.24,240 L302.22,240.5 L302.21,241 L302.2,241.5 L302.18,242 L302.17,242.5 L302.16,243 L302.15,243.5 L302.14,244 L302.13,244.5 L302.12,245 L302.11,245.5 L302.1,246 L302.09,246.5 L302.09,247 L302.08,247.5 L302.07,248 L302.06,248.5 L302.06,249 L302.05,249.5 L302.04,250 L302.04,250.5 L302.03,251 L302.03,251.5 L302.02,252 L302.01,252.5 L302.01,253 L302,253.5 L302,254 L302,254.5 L301.99,255 L301.99,255.5 L301.98,256 L301.98,256.5 L301.97,257 L301.97,257.5 L301.97,258 L301.96,258.5 L301.96,259 L301.96,259.5 L301.95,260 L301.95,260.5 L301.95,261 L301.94,261.5 L301.94,262 L301.94,262.5 L301.94,263 L301.93,263.5 L301.93,264 L301.93,264.5 L301.93,265 L301.92,265.5 L301.92,266 L301.92,266.5 L301.92,267 L301.92,267.5 L301.91,268 L301.91,268.5 L301.91,269 L301.91,269.5 L301.91,270 L301.9,270.5 L301.9,271 L301.9,271.5 L301.9,272 L301.9,272.5 L301.9,273 L301.89,273.5 L301.89,274 L301.89,274.5 L301.89,275 L301.89,275.5 L301.89,276 L301.89,276.5 L301.88,277 L301.88,277.5 L301.88,278 L301.88,278.5 L301.88,279 L301.88,279.5 L301.88,280" stroke="#108c8c" stroke-width="1.3"/>
<path d="M301.86,3 L301.86,3.5 L301.86,4 L301.86,4.5 L301.86,5 L301.86,5.5 L301.86,6 L301.86,6.5 L301.86,7 L301.86,7.5 L301.86,8 L301.86,8.5 L301.86,9 L301.86,9.5 L301.86,10 L301.86,10.5 L301.86,11 L301.86,11.5 L301.86,12 L301.86,12.5 L301.86,13 L301.86,13.5 L301.86,14 L301.86,14.5 L301.86,15 L301.86,15.5 L301.86,16 L301.86,16.5 L301.86,17 L301.86,17.5 L301.86,18 L301.86,18.5 L301.86,19 L301.86,19.5 L301.87,20 L301.87,20.5 L301.87,21 L301.87,21.5 L301.87,22 L301.87,22.5 L301.87,23 L301.87,23.5 L301.87,24 L301.87,24.5 L301.87,25 L301.87,25.5 L301.87,26 L301.87,26.5 L301.87,27 L301.87,27.5 L301.87,28 L301.87,28.5 L301.87,29 L301.87,29.5 L301.87,30 L301.87,30.5 L301.87,31 L301.87,31.5 L301.87,32 L301.87,32.5 L301.87,33 L301.87,33.5 L301.88,34 L301.88,34.5 L301.88,35 L301.88,35.5 L301.88,36 L301.88,36.5 L301.88,37 L301.88,37.5 L301.88,38 L301.88,38.5 L301.88,39 L301.88,39.5 L301.88,40 L301.88,40.5 L301.88,41 L301.88,41.5 L301.88,42 L301.88,42.5 L301.88,43 L301.88,43.5 L301.88,44 L301.88,44.5 L301.88,45 L301.89,45.5 L301.89,46 L301.89,46.5 L301.89,47 L301.89,47.5 L301.89,48 L301.89,48.5 L301.89,49 L301.89,49.5 L301.89,50 L301.89,50.5 L301.89,51 L301.89,51.5 L301.89,52 L301.89,52.5 L301.89,53 L301.89,53.5 L301.89,54 L301.89,54.5 L301.89,55 L301.9,55.5 L301.9,56 L301.9,56.5 L301.9,57 L301.9,57.5 L301.9,58 L301.9,58.5 L301.9,59 L301.9,59.5 L301.9,60 L301.9,60.5 L301.9,61 L301.9,61.5 L301.9,62 L301.9,62.5 L301.9,63 L301.91,63.5 L301.91,64 L301.91,64.5 L301.91,65 L301.91,65.5 L301.91,66 L301.91,66.5 L301.91,67 L301.91,67.5 L301.91,68 L301.91,68.5 L301.91,69 L301.91,69.5 L301.91,70 L301.92,70.5 L301.92,71 L301.92,71.5 L301.92,72 L301.92,72.5 L301.92,73 L301.92,73.5 L301.92,74 L301.92,74.5 L301.92,75 L301.92,75.5 L301.92,76 L301.92,76.5 L301.93,77 L301.93,77.5 L301.93,78 L301.93,78.5 L301.93,79 L301.93,79.5 L301.93,80 L301.93,80.5 L301.93,81 L301.93,81.5 L301.93,82 L301.94,82.5 L301.94,83 L301.94,83.5 L301.94,84 L301.94,84.5 L301.94,85 L301.94,85.5 L301.94,86 L301.94,86.5 L301.94,87 L301.95,87.5 L301.95,88 L301.95,88.5 L301.95,89 L301.95,89.5 L301.95,90 L301.95,90.5 L301.95,91 L301.96,91.5 L301.96,92 L301.96,92.5 L301.96,93 L301.96,93.5 L301.96,94 L301.96,94.5 L301.96,95 L301.96,95.5 L301.97,96 L301.97,96.5 L301.97,97 L301.97,97.5 L301.97,98 L301.97,98.5 L301.97,99 L301.98,99.5 L301.98,100 L301.98,100.5 L301.98,101 L301.98,101.5 L301.98,102 L301.98,102.5 L301.99,103 L301.99,103.5 L301.99,104 L301.99,104.5 L301.99,105 L301.99,105.5 L302,106 L302,106.5 L302,107 L302,107.5 L302,108 L302,108.5 L302.01,109 L302.01,109.5 L302.01,110 L302.01,110.5 L302.01,111 L302.02,111.5 L302.02,112 L302.02,112.5 L302.02,113 L302.02,113.5 L302.03,114 L302.03,114.5 L302.03,115 L302.03,115.5 L302.03,116 L302.04,116.5 L302.04,117 L302.04,117.5 L302.04,118 L302.05,118.5 L302.05,119 L302.05,119.5 L302.05,120 L302.05,120.5 L302.06,121 L302.06,121.5 L302.06,122 L302.07,122.5 L302.07,123 L302.07,123.5 L302.07,124 L302.08,124.5 L302.08,125 L302.08,125.5 L302.08,126 L302.09,126.5 L302.09,127 L302.09,127.5 L302.1,128 L302.1,128.5 L302.1,129 L302.11,129.5 L302.11,130 L302.11,130.5 L302.12,131 L302.12,131.5 L302.12,132 L302.13,132.5 L302.13,133 L302.13,133.5 L302.14,134 L302.14,134.5 L302.15,135 L302.15,135.5 L302.15,136 L302.16,136.5 L302.16,137 L302.17,137.5 L302.17,138 L302.17,138.5 L302.18,139 L302.18,139.5 L302.19,140 L302.19,140.5 L302.2,141 L302.2,141.5 L302.21,142 L302.21,142.5 L302.22,143 L302.22,143.5 L302.23,144 L302.23,144.5 L302.24,145 L302.24,145.5 L302.25,146 L302.26,146.5 L302.26,147 L302.27,147.5 L302.27,148 L302.28,148.5 L302.29,149 L302.29,149.5 L302.3,150 L302.31,150.5 L302.31,151 L302.32,151.5 L302.33,152 L302.34,152.5 L302.34,153 L302.35,153.5 L302.36,154 L302.37,154.5 L302.38,155 L302.38,155.5 L302.39,156 L302.4,156.5 L302.41,157 L302.42,157.5 L302.43,158 L302.44,158.5 L302.45,159 L302.46,159.5 L302.47,160 L302.48,160.5 L302.49,161 L302.5,161.5 L302.51,162 L302.53,162.5 L302.54,163 L302.55,163.5 L302.56,164 L302.58,164.5 L302.59,165 L302.6,165.5 L302.62,166 L302.63,166.5 L302.65,167 L302.66,167.5 L302.68,168 L302.69,168.5 L302.71,169 L302.72,169.5 L302.74,170 L302.76,170.5 L302.78,171 L302.8,171.5 L302.82,172 L302.84,172.5 L302.86,173 L302.88,173.5 L302.9,174 L302.92,174.5 L302.94,175 L302.97,175.5 L302.99,176 L303.02,176.5 L303.04,177 L303.07,177.5 L303.1,178 L303.13,178.5 L303.15,179 L303.18,179.5 L303.22,180 L303.25,180.5 L303.28,181 L303.32,181.5 L303.35,182 L303.39,182.5 L303.43,183 L303.47,183.5 L303.51,184 L303.55,184.5 L303.6,185 L303.64,185.5 L303.69,186 L303.74,186.5 L303.79,187 L303.85,187.5 L303.9,188 L303.96,188.5 L304.02,189 L304.08,189.5 L304.15,190 L304.22,190.5 L304.29,191 L304.37,191.5 L304.44,192 L304.52,192.5 L304.61,193 L304.7,193.5 L304.79,194 L304.89,194.5 L304.99,195 L305.1,195.5 L305.21,196 L305.33,196.5 L305.46,197 L305.59,197.5 L305.72,198 L305.87,198.5 L306.02,199 L306.18,199.5 L306.35,200 L306.53,200.5 L306.72,201 L306.92,201.5 L307.13,202 L307.36,202.5 L307.6,203 L307.85,203.5 L308.12,204 L308.4,204.5 L308.7,205 L309.02,205.5 L309.37,206 L309.73,206.5 L310.12,207 L310.54,207.5 L310.98,208 L311.45,208.5 L311.95,209 L312.49,209.5 L313.07,210 L313.68,210.5 L314.33,211 L315.03,211.5 L315.78,212 L316.57,212.5 L317.41,213 L318.3,213.5 L319.24,214 L320.23,214.5 L321.28,215 L322.36,215.5 L323.49,216 L324.65,216.5 L325.83,217 L327.02,217.5 L328.2,218 L329.36,218.5 L330.46,219 L331.5,219.5 L332.44,220 L333.25,220.5 L333.91,221 L334.4,221.5 L334.7,222 L334.8,222.5 L334.67,223 L334.29,223.5 L333.68,224 L332.86,224.5 L331.86,225 L330.73,225.5 L329.5,226 L328.2,226.5 L326.87,227 L325.53,227.5 L324.21,228 L322.92,228.5 L321.68,229 L320.49,229.5 L319.36,230 L318.3,230.5 L317.3,231 L316.37,231.5 L315.49,232 L314.68,232.5 L313.92,233 L313.22,233.5 L312.56,234 L311.95,234.5 L311.39,235 L310.86,235.5 L310.38,236 L309.92,236.5 L309.5,237 L309.11,237.5 L308.74,238 L308.4,238.5 L308.08,239 L307.78,239.5 L307.5,240 L307.24,240.5 L307,241 L306.77,241.5 L306.55,242 L306.35,242.5 L306.16,243 L305.98,243.5 L305.81,244 L305.65,244.5 L305.5,245 L305.36,245.5 L305.23,246 L305.1,246.5 L304.98,247 L304.87,247.5 L304.76,248 L304.65,248.5 L304.56,249 L304.46,249.5 L304.37,250 L304.29,250.5 L304.21,251 L304.13,251.5 L304.06,252 L303.99,252.5 L303.92,253 L303.86,253.5 L303.8,254 L303.74,254.5 L303.69,255 L303.63,255.5 L303.58,256 L303.53,256.5 L303.48,257 L303.44,257.5 L303.39,258 L303.35,258.5 L303.31,259 L303.27,259.5 L303.24,260 L303.2,260.5 L303.17,261 L303.13,261.5 L303.1,262 L303.07,262.5 L303.04,263 L303.01,263.5 L302.98,264 L302.96,264.5 L302.93,265 L302.9,265.5 L302.88,266 L302.86,266.5 L302.83,267 L302.81,267.5 L302.79,268 L302.77,268.5 L302.75,269 L302.73,269.5 L302.71,270 L302.69,270.5 L302.67,271 L302.66,271.5 L302.64,272 L302.62,272.5 L302.61,273 L302.59,273.5 L302.58,274 L302.56,274.5 L302.55,275 L302.54,275.5 L302.52,276 L302.51,276.5 L302.5,277 L302.48,277.5 L302.47,278 L302.46,278.5 L302.45,279 L302.44,279.5 L302.43,280" stroke="#1a1aa0" stroke-width="1.3"/>
<path d="M301.83,3 L301.83,3.5 L301.83,4 L301.83,4.5 L301.83,5 L301.83,5.5 L301.83,6 L301.83,6.5 L301.83,7 L301.83,7.5 L301.83,8 L301.83,8.5 L301.83,9 L301.83,9.5 L301.83,10 L301.83,10.5 L301.83,11 L301.83,11.5 L301.83,12 L301.83,12.5 L301.83,13 L301.83,13.5 L301.83,14 L301.83,14.5 L301.83,15 L301.83,15.5 L301.83,16 L301.83,16.5 L301.83,17 L301.83,17.5 L301.83,18 L301.83,18.5 L301.83,19 L301.83,19.5 L301.83,20 L301.83,20.5 L301.83,21 L301.83,21.5 L301.83,22 L301.83,22.5 L301.83,23 L301.83,23.5 L301.83,24 L301.83,24.5 L301.83,25 L301.83,25.5 L301.83,26 L301.83,26.5 L301.84,27 L301.84,27.5 L301.84,28 L301.84,28.5 L301.84,29 L301.84,29.5 L301.84,30 L301.84,30.5 L301.84,31 L301.84,31.5 L301.84,32 L301.84,32.5 L301.84,33 L301.84,33.5 L301.84,34 L301.84,34.5 L301.84,35 L301.84,35.5 L301.84,36 L301.84,36.5 L301.84,37 L301.84,37.5 L301.84,38 L301.84,38.5 L301.84,39 L301.84,39.5 L301.84,40 L301.84,40.5 L301.84,41 L301.84,41.5 L301.84,42 L301.84,42.5 L301.84,43 L301.84,43.5 L301.84,44 L301.84,44.5 L301.84,45 L301.84,45.5 L301.84,46 L301.84,46.5 L301.84,47 L301.84,47.5 L301.84,48 L301.84,48.5 L301.84,49 L301.84,49.5 L301.84,50 L301.84,50.5 L301.84,51 L301.85,51.5 L301.85,52 L301.85,52.5 L301.85,53 L301.85,53.5 L301.85,54 L301.85,54.5 L301.85,55 L301.85,55.5 L301.85,56 L301.85,56.5 L301.85,57 L301.85,57.5 L301.85,58 L301.85,58.5 L301.85,59 L301.85,59.5 L301.85,60 L301.85,60.5 L301.85,61 L301.85,61.5 L301.85,62 L301.85,62.5 L301.85,63 L301.85,63.5 L301.85,64 L301.85,64.5 L301.85,65 L301.85,65.5 L301.85,66 L301.85,66.5 L301.85,67 L301.85,67.5 L301.85,68 L301.85,68.5 L301.85,69 L301.86,69.5 L301.86,70 L301.86,70.5 L301.86,71 L301.86,71.5 L301.86,72 L301.86,72.5 L301.86,73 L301.86,73.5 L301.86,74 L301.86,74.5 L301.86,75 L301.86,75.5 L301.86,76 L301.86,76.5 L301.86,77 L301.86,77.5 L301.86,78 L301.86,78.5 L301.86,79 L301.86,79.5 L301.86,80 L301.86,80.5 L301.86,81 L301.86,81.5 L301.86,82 L301.86,82.5 L301.87,83 L301.87,83.5 L301.87,84 L301.87,84.5 L301.87,85 L301.87,85.5 L301.87,86 L301.87,86.5 L301.87,87 L301.87,87.5 L301.87,88 L301.87,88.5 L301.87,89 L301.87,89.5 L301.87,90 L301.87,90.5 L301.87,91 L301.87,91.5 L301.87,92 L301.87,92.5 L301.87,93 L301.88,93.5 L301.88,94 L301.88,94.5 L301.88,95 L301.88,95.5 L301.88,96 L301.88,96.5 L301.88,97 L301.88,97.5 L301.88,98 L301.88,98.5 L301.88,99 L301.88,99.5 L301.88,100 L301.88,100.5 L301.88,101 L301.88,101.5 L301.89,102 L301.89,102.5 L301.89,103 L301.89,103.5 L301.89,104 L301.89,104.5 L301.89,105 L301.89,105.5 L301.89,106 L301.89,106.5 L301.89,107 L301.89,107.5 L301.89,108 L301.89,108.5 L301.89,109 L301.9,109.5 L301.9,110 L301.9,110.5 L301.9,111 L301.9,111.5 L301.9,112 L301.9,112.5 L301.9,113 L301.9,113.5 L301.9,114 L301.9,114.5 L301.9,115 L301.91,115.5 L301.91,116 L301.91,116.5 L301.91,117 L301.91,117.5 L301.91,118 L301.91,118.5 L301.91,119 L301.91,119.5 L301.91,120 L301.91,120.5 L301.92,121 L301.92,121.5 L301.92,122 L301.92,122.5 L301.92,123 L301.92,123.5 L301.92,124 L301.92,124.5 L301.92,125 L301.92,125.5 L301.93,126 L301.93,126.5 L301.93,127 L301.93,127.5 L301.93,128 L301.93,128.5 L301.93,129 L301.93,129.5 L301.94,130 L301.94,130.5 L301.94,131 L301.94,131.5 L301.94,132 L301.94,132.5 L301.94,133 L301.94,133.5 L301.95,134 L301.95,134.5 L301.95,135 L301.95,135.5 L301.95,136 L301.95,136.5 L301.96,137 L301.96,137.5 L301.96,138 L301.96,138.5 L301.96,139 L301.96,139.5 L301.96,140 L301.97,140.5 L301.97,141 L301.97,141.5 L301.97,142 L301.97,142.5 L301.98,143 L301.98,143.5 L301.98,144 L301.98,144.5 L301.98,145 L301.99,145.5 L301.99,146 L301.99,146.5 L301.99,147 L301.99,147.5 L302,148 L302,148.5 L302,149 L302,149.5 L302,150 L302.01,150.5 L302.01,151 L302.01,151.5 L302.01,152 L302.02,152.5 L302.02,153 L302.02,153.5 L302.02,154 L302.03,154.5 L302.03,155 L302.03,155.5 L302.04,156 L302.04,156.5 L302.04,157 L302.05,157.5 L302.05,158 L302.05,158.5 L302.05,159 L302.06,159.5 L302.06,160 L302.06,160.5 L302.07,161 L302.07,161.5 L302.08,162 L302.08,162.5 L302.08,163 L302.09,163.5 L302.09,164 L302.09,164.5 L302.1,165 L302.1,165.5 L302.11,166 L302.11,166.5 L302.12,167 L302.12,167.5 L302.12,168 L302.13,168.5 L302.13,169 L302.14,169.5 L302.14,170 L302.15,170.5 L302.15,171 L302.16,171.5 L302.17,172 L302.17,172.5 L302.18,173 L302.18,173.5 L302.19,174 L302.2,174.5 L302.2,175 L302.21,175.5 L302.21,176 L302.22,176.5 L302.23,177 L302.24,177.5 L302.24,178 L302.25,178.5 L302.26,179 L302.27,179.5 L302.27,180 L302.28,180.5 L302.29,181 L302.3,181.5 L302.31,182 L302.32,182.5 L302.33,183 L302.34,183.5 L302.35,184 L302.36,184.5 L302.37,185 L302.38,185.5 L302.39,186 L302.4,186.5 L302.41,187 L302.43,187.5 L302.44,188 L302.45,188.5 L302.47,189 L302.48,189.5 L302.49,190 L302.51,190.5 L302.52,191 L302.54,191.5 L302.56,192 L302.57,192.5 L302.59,193 L302.61,193.5 L302.63,194 L302.65,194.5 L302.67,195 L302.69,195.5 L302.71,196 L302.73,196.5 L302.75,197 L302.78,197.5 L302.8,198 L302.83,198.5 L302.85,199 L302.88,199.5 L302.91,200 L302.94,200.5 L302.97,201 L303,201.5 L303.03,202 L303.07,202.5 L303.11,203 L303.14,203.5 L303.18,204 L303.22,204.5 L303.27,205 L303.31,205.5 L303.36,206 L303.41,206.5 L303.46,207 L303.51,207.5 L303.57,208 L303.63,208.5 L303.69,209 L303.76,209.5 L303.83,210 L303.9,210.5 L303.97,211 L304.05,211.5 L304.14,212 L304.23,212.5 L304.32,213 L304.42,213.5 L304.53,214 L304.64,214.5 L304.76,215 L304.88,215.5 L305.02,216 L305.16,216.5 L305.31,217 L305.47,217.5 L305.65,218 L305.83,218.5 L306.03,219 L306.24,219.5 L306.46,220 L306.7,220.5 L306.96,221 L307.24,221.5 L307.54,222 L307.86,222.5 L308.21,223 L308.59,223.5 L308.99,224 L309.43,224.5 L309.91,225 L310.42,225.5 L310.97,226 L311.57,226.5 L312.22,227 L312.92,227.5 L313.68,228 L314.49,228.5 L315.37,229 L316.3,229.5 L317.3,230 L318.35,230.5 L319.46,231 L320.6,231.5 L321.78,232 L322.97,232.5 L324.15,233 L325.29,233.5 L326.35,234 L327.3,234.5 L328.1,235 L328.72,235.5 L329.13,236 L329.3,236.5 L329.23,237 L328.96,237.5 L328.48,238 L327.83,238.5 L327.03,239 L326.11,239.5 L325.09,240 L324.02,240.5 L322.91,241 L321.8,241.5 L320.69,242 L319.61,242.5 L318.57,243 L317.57,243.5 L316.62,244 L315.72,244.5 L314.88,245 L314.09,245.5 L313.35,246 L312.66,246.5 L312.02,247 L311.43,247.5 L310.87,248 L310.36,248.5 L309.88,249 L309.44,249.5 L309.03,250 L308.64,250.5 L308.29,251 L307.95,251.5 L307.64,252 L307.36,252.5 L307.09,253 L306.83,253.5 L306.6,254 L306.38,254.5 L306.17,255 L305.98,255.5 L305.8,256 L305.63,256.5 L305.47,257 L305.31,257.5 L305.17,258 L305.04,258.5 L304.91,259 L304.79,259.5 L304.68,260 L304.57,260.5 L304.47,261 L304.37,261.5 L304.28,262 L304.2,262.5 L304.11,263 L304.03,263.5 L303.96,264 L303.89,264.5 L303.82,265 L303.76,265.5 L303.7,266 L303.64,266.5 L303.58,267 L303.53,267.5 L303.48,268 L303.43,268.5 L303.38,269 L303.34,269.5 L303.29,270 L303.25,270.5 L303.21,271 L303.17,271.5 L303.14,272 L303.1,272.5 L303.07,273 L303.03,273.5 L303,274 L302.97,274.5 L302.94,275 L302.92,275.5 L302.89,276 L302.86,276.5 L302.84,277 L302.81,277.5 L302.79,278 L302.77,278.5 L302.75,279 L302.72,279.5 L302.7,280" stroke="#f08a20" stroke-width="1.3"/>
<path d="M306.88,3 L305.68,3.75 L313.88,4.5 L313.1,5.25 L308.37,6 L311.17,6.75 L313.06,7.5 L315.98,8.25 L320.3,9 L319,9.75 L317.84,10.5 L319.17,11.25 L322.25,12 L325.67,12.75 L322.22,13.5 L327.13,14.25 L321.98,15 L320.59,15.75 L321.01,16.5 L315.03,17.25 L316.55,18 L316.65,18.75 L315.34,19.5 L314.72,20.25 L315.93,21 L316.9,21.75 L319.26,22.5 L311.28,23.25 L311.42,24 L308.82,24.75 L308.39,25.5 L308.27,26.25 L311.27,27 L304.74,27.75 L311.62,28.5 L308.03,29.25 L308.61,30 L305.33,30.75 L305.53,31.5 L308.35,32.25 L303.64,33 L309.74,33.75 L302,34.5 L302,35.25 L306.12,36 L303.09,36.75 L305.68,37.5 L307.11,38.25 L305.45,39 L304.78,39.75 L310.72,40.5 L305.45,41.25 L303.38,42 L304.84,42.75 L304.77,43.5 L307.21,44.25 L304.53,45 L302,45.75 L305.62,46.5 L307.09,47.25 L312.98,48 L305.86,48.75 L312.22,49.5 L307.07,50.25 L310.18,51 L306.92,51.75 L308.2,52.5 L311.87,53.25 L312.47,54 L316.53,54.75 L314.01,55.5 L323.89,56.25 L327.51,57 L324.69,57.75 L327.65,58.5 L334.51,59.25 L337.65,60 L335.89,60.75 L338.24,61.5 L337.34,62.25 L340.32,63 L341.46,63.75 L341.09,64.5 L335.46,65.25 L340.14,66 L338.59,66.75 L334.59,67.5 L331.72,68.25 L330.64,69 L328.83,69.75 L325.53,70.5 L322.72,71.25 L319.98,72 L320.08,72.75 L316.97,73.5 L309.13,74.25 L314.5,75 L309.95,75.75 L307.73,76.5 L312.44,77.25 L312.86,78 L310.73,78.75 L308.6,79.5 L311.05,80.25 L311.3,81 L312.14,81.75 L312.02,82.5 L316.88,83.25 L314.45,84 L314.29,84.75 L318.36,85.5 L318.75,86.25 L317.48,87 L326.92,87.75 L322.22,88.5 L322.18,89.25 L324.76,90 L324.1,90.75 L331.54,91.5 L331.5,92.25 L330.28,93 L334.1,93.75 L329.16,94.5 L334.66,95.25 L337.3,96 L337.08,96.75 L336.07,97.5 L343.08,98.25 L339.26,99 L344.98,99.75 L342.18,100.5 L339.53,101.25 L338.71,102 L339.95,102.75 L336.84,103.5 L339.27,104.25 L333.18,105 L336.62,105.75 L340.99,106.5 L334.28,107.25 L337.33,108 L332.44,108.75 L338.1,109.5 L337.57,110.25 L340.33,111 L335.69,111.75 L338.18,112.5 L338.16,113.25 L335.35,114 L342.48,114.75 L342.69,115.5 L341.92,116.25 L344.97,117 L350.49,117.75 L346.03,118.5 L347.85,119.25 L352.62,120 L352.48,120.75 L358.92,121.5 L356.87,122.25 L362.17,123 L366.11,123.75 L372.86,124.5 L378.13,125.25 L390.19,126 L402.56,126.75 L417.88,127.5 L430.9,128.25 L444.76,129 L454.95,129.75 L453.59,130.5 L441.01,131.25 L426.52,132 L409.57,132.75 L392.97,133.5 L375.67,134.25 L361.04,135 L348.04,135.75 L340.65,136.5 L344.55,137.25 L338.25,138 L342.11,138.75 L342.42,139.5 L341.79,140.25 L346.04,141 L345.38,141.75 L347.36,142.5 L346.29,143.25 L348.92,144 L349.49,144.75 L351.54,145.5 L354.64,146.25 L355.73,147 L355.16,147.75 L360.5,148.5 L364.18,149.25 L364.19,150 L366.43,150.75 L374.22,151.5 L375.3,152.25 L369.4,153 L371.16,153.75 L370.18,154.5 L367.36,155.25 L368.44,156 L364.46,156.75 L360.32,157.5 L361.7,158.25 L361.21,159 L364.14,159.75 L364.2,160.5 L367.28,161.25 L373.49,162 L371.57,162.75 L371.06,163.5 L375.75,164.25 L377.1,165 L381.71,165.75 L379.1,166.5 L390.33,167.25 L388.27,168 L391.11,168.75 L391.99,169.5 L389.7,170.25 L393.51,171 L392.42,171.75 L391.84,172.5 L398.44,173.25 L392.96,174 L395.09,174.75 L392.32,175.5 L389.81,176.25 L385.61,177 L388.71,177.75 L387.85,178.5 L387.3,179.25 L387.53,180 L390.06,180.75 L390.43,181.5 L390.71,182.25 L390.63,183 L390.83,183.75 L390.08,184.5 L396.35,185.25 L391.07,186 L388.98,186.75 L393.04,187.5 L385.29,188.25 L388.77,189 L375.89,189.75 L377.01,190.5 L376.32,191.25 L367.19,192 L363.5,192.75 L362.07,193.5 L352.55,194.25 L346.05,195 L343.13,195.75 L345.66,196.5 L337.26,197.25 L345.18,198 L339.67,198.75 L334.24,199.5 L342.02,200.25 L337.99,201 L337.72,201.75 L343.31,202.5 L339.6,203.25 L337.35,204 L339.02,204.75 L342.82,205.5 L343.83,206.25 L340.72,207 L343.2,207.75 L342.72,208.5 L343.4,209.25 L343.79,210 L341.95,210.75 L344.29,211.5 L346.86,212.25 L345.4,213 L355.72,213.75 L348.09,214.5 L352.24,215.25 L352.99,216 L358.18,216.75 L355.35,217.5 L354.34,218.25 L352.12,219 L364.08,219.75 L362.38,220.5 L362.26,221.25 L361.97,222 L358.38,222.75 L360.98,223.5 L360.06,224.25 L358.66,225 L357.04,225.75 L364.76,226.5 L360.26,227.25 L354.49,228 L358.15,228.75 L352.24,229.5 L351.35,230.25 L355.51,231 L354.01,231.75 L358.56,232.5 L344.13,233.25 L349.67,234 L350.21,234.75 L352.31,235.5 L350.98,236.25 L347.65,237 L343.33,237.75 L343.98,238.5 L339.17,239.25 L347.43,240 L336.03,240.75 L339.3,241.5 L340.11,242.25 L337.72,243 L337.38,243.75 L335.98,244.5 L336.27,245.25 L334.9,246 L334.45,246.75 L330.3,247.5 L335.89,248.25 L329.11,249 L335.42,249.75 L337.04,250.5 L336.13,251.25 L335.56,252 L335.67,252.75 L335.94,253.5 L335.5,254.25 L334.39,255 L334.8,255.75 L333.24,256.5 L333.72,257.25 L335.47,258 L326.85,258.75 L332.36,259.5 L332.32,260.25 L340.28,261 L330.63,261.75 L333.4,262.5 L331.37,263.25 L330.05,264 L331.47,264.75 L330.53,265.5 L331.07,266.25 L331.5,267 L331.86,267.75 L331.87,268.5 L334.37,269.25 L327.91,270 L332.98,270.75 L331.76,271.5 L325.74,272.25 L330.55,273 L333.06,273.75 L327,274.5 L330.11,275.25 L326.08,276 L327.19,276.75 L334.54,277.5 L332.29,278.25 L329.73,279 L334.13,279.75 L328.65,280.5" stroke="#000" stroke-width="1.15"/>
<path d="M307.2,3 C307.95,3.57 309.87,5.28 311.7,6.4 C313.53,7.52 316.15,8.62 318.2,9.7 C320.25,10.78 323.58,11.73 324,12.9 C324.42,14.07 322.32,15.32 320.7,16.7 C319.08,18.08 316.43,19.7 314.3,21.2 C312.17,22.7 309.62,24.4 307.9,25.7 C306.18,27 304.88,27.87 304,29 C303.12,30.13 302.87,31.17 302.6,32.5 C302.33,33.83 302.33,35.42 302.4,37 C302.47,38.58 302.65,40.33 303,42 C303.35,43.67 303.78,45.47 304.5,47 C305.22,48.53 305.22,49.85 307.3,51.2 C309.38,52.55 313.78,54.13 317,55.1 C320.22,56.07 323.72,56.2 326.6,57 C329.48,57.8 332.32,58.77 334.3,59.9 C336.28,61.03 337.85,62.55 338.5,63.8 C339.15,65.05 339.22,66.57 338.2,67.4 C337.18,68.23 334.98,68.12 332.4,68.8 C329.82,69.48 325.92,70.4 322.7,71.5 C319.48,72.6 315.28,74.12 313.1,75.4 C310.92,76.68 309.92,78.08 309.6,79.2 C309.28,80.32 310.3,81.05 311.2,82.1 C312.1,83.15 313.08,84.52 315,85.5 C316.92,86.48 319.8,86.67 322.7,88 C325.6,89.33 329.18,91.62 332.4,93.5 C335.62,95.38 341.35,97.37 342,99.3 C342.65,101.23 337.58,103.48 336.3,105.1 C335.02,106.72 333.98,107.72 334.3,109 C334.62,110.28 336.27,111.2 338.2,112.8 C340.13,114.4 342.03,116.98 345.9,118.6 C349.77,120.22 356.25,121.4 361.4,122.5 C366.55,123.6 370.37,124.52 376.8,125.2 C383.23,125.88 391.48,126.13 400,126.6 C408.52,127.07 419.23,127.52 427.9,128 C436.57,128.48 446.68,129.15 452,129.5 C457.32,129.85 459.8,129.9 459.8,130.1 C459.8,130.3 457.32,130.4 452,130.7 C446.68,131 436.57,131.48 427.9,131.9 C419.23,132.32 409.65,132.77 400,133.2 C390.35,133.63 378.33,134.15 370,134.5 C361.67,134.85 354.98,134.77 350,135.3 C345.02,135.83 341.1,136.82 340.1,137.7 C339.1,138.58 342.07,139.32 344,140.6 C345.93,141.88 348.17,143.83 351.7,145.4 C355.23,146.97 361.67,149.03 365.2,150 C368.73,150.97 372.57,150.35 372.9,151.2 C373.23,152.05 369.12,153.8 367.2,155.1 C365.28,156.4 360.18,157.43 361.4,159 C362.62,160.57 369.92,163.12 374.5,164.5 C379.08,165.88 385.78,166.1 388.9,167.3 C392.02,168.5 393.2,169.77 393.2,171.7 C393.2,173.63 389.13,176.25 388.9,178.9 C388.67,181.55 393.73,185.67 391.8,187.6 C389.87,189.53 381.73,189.68 377.3,190.5 C372.87,191.32 370.43,191.68 365.2,192.5 C359.97,193.32 350.4,194.27 345.9,195.4 C341.4,196.53 339.17,197.68 338.2,199.3 C337.23,200.92 338.82,203.17 340.1,205.1 C341.38,207.03 343.65,208.97 345.9,210.9 C348.15,212.83 350.87,214.93 353.6,216.7 C356.33,218.47 361.65,219.57 362.3,221.5 C362.95,223.43 359.58,225.88 357.5,228.3 C355.42,230.72 352.22,234.08 349.8,236 C347.38,237.92 345.58,238.42 343,239.8 C340.42,241.18 338,242.58 334.3,244.3 C330.6,246.02 324.33,247.85 320.8,250.1 C317.27,252.35 315.35,254.9 313.1,257.8 C310.85,260.7 308.58,263.8 307.3,267.5 C306.02,271.2 305.72,277.92 305.4,280" stroke="#7424d8" stroke-width="1.5"/>
<path d="M308.33,3 L308.82,3.5 L309.34,4 L309.92,4.5 L310.55,5 L311.24,5.5 L311.99,6 L312.8,6.5 L313.68,7 L314.62,7.5 L315.62,8 L316.67,8.5 L317.76,9 L318.86,9.5 L319.94,10 L320.96,10.5 L321.9,11 L322.69,11.5 L323.29,12 L323.67,12.5 L323.8,13 L323.69,13.5 L323.36,14 L322.83,14.5 L322.14,15 L321.31,15.5 L320.39,16 L319.4,16.5 L318.38,17 L317.37,17.5 L316.37,18 L315.4,18.5 L314.48,19 L313.61,19.5 L312.8,20 L312.04,20.5 L311.34,21 L310.69,21.5 L310.09,22 L309.54,22.5 L309.03,23 L308.57,23.5 L308.14,24 L307.75,24.5 L307.39,25 L307.05,25.5 L306.74,26 L306.46,26.5 L306.2,27 L305.96,27.5 L305.73,28 L305.53,28.5 L305.33,29 L305.16,29.5 L304.99,30 L304.83,30.5 L304.69,31 L304.56,31.5 L304.43,32 L304.31,32.5 L304.2,33 L304.1,33.5 L304,34 L303.91,34.5 L303.82,35 L303.74,35.5 L303.67,36 L303.59,36.5 L303.52,37 L303.46,37.5 L303.4,38 L303.34,38.5 L303.29,39 L303.23,39.5 L303.19,40 L303.14,40.5 L303.09,41 L303.05,41.5 L303.01,42 L302.97,42.5 L302.94,43 L302.9,43.5 L302.87,44 L302.84,44.5 L302.8,45 L302.78,45.5 L302.75,46 L302.72,46.5 L302.69,47 L302.67,47.5 L302.65,48 L302.62,48.5 L302.6,49 L302.58,49.5 L302.56,50 L302.54,50.5 L302.52,51 L302.5,51.5 L302.49,52 L302.47,52.5 L302.45,53 L302.44,53.5 L302.42,54 L302.41,54.5 L302.39,55 L302.38,55.5 L302.37,56 L302.36,56.5 L302.34,57 L302.33,57.5 L302.32,58 L302.31,58.5 L302.3,59 L302.29,59.5 L302.28,60" stroke="#e01848" stroke-width="1.4"/>
</g>
<rect x="288.3" y="2.8" width="180.7" height="277.0" fill="none" stroke="#111" stroke-width="1.2"/>
<line x1="296.3" y1="2.8" x2="296.3" y2="5.4" stroke="#222" stroke-width="0.9"/>
<line x1="296.3" y1="279.8" x2="296.3" y2="277.2" stroke="#222" stroke-width="0.9"/>
<line x1="315.55" y1="2.8" x2="315.55" y2="6.8" stroke="#222" stroke-width="0.9"/>
<line x1="315.55" y1="279.8" x2="315.55" y2="275.8" stroke="#222" stroke-width="0.9"/>
<line x1="334.8" y1="2.8" x2="334.8" y2="5.4" stroke="#222" stroke-width="0.9"/>
<line x1="334.8" y1="279.8" x2="334.8" y2="277.2" stroke="#222" stroke-width="0.9"/>
<line x1="354.05" y1="2.8" x2="354.05" y2="6.8" stroke="#222" stroke-width="0.9"/>
<line x1="354.05" y1="279.8" x2="354.05" y2="275.8" stroke="#222" stroke-width="0.9"/>
<line x1="373.3" y1="2.8" x2="373.3" y2="5.4" stroke="#222" stroke-width="0.9"/>
<line x1="373.3" y1="279.8" x2="373.3" y2="277.2" stroke="#222" stroke-width="0.9"/>
<line x1="392.55" y1="2.8" x2="392.55" y2="6.8" stroke="#222" stroke-width="0.9"/>
<line x1="392.55" y1="279.8" x2="392.55" y2="275.8" stroke="#222" stroke-width="0.9"/>
<line x1="411.8" y1="2.8" x2="411.8" y2="5.4" stroke="#222" stroke-width="0.9"/>
<line x1="411.8" y1="279.8" x2="411.8" y2="277.2" stroke="#222" stroke-width="0.9"/>
<line x1="431.05" y1="2.8" x2="431.05" y2="6.8" stroke="#222" stroke-width="0.9"/>
<line x1="431.05" y1="279.8" x2="431.05" y2="275.8" stroke="#222" stroke-width="0.9"/>
<line x1="450.3" y1="2.8" x2="450.3" y2="5.4" stroke="#222" stroke-width="0.9"/>
<line x1="450.3" y1="279.8" x2="450.3" y2="277.2" stroke="#222" stroke-width="0.9"/>
<line x1="286.5" y1="11" x2="288.3" y2="11" stroke="#222" stroke-width="0.9"/>
<line x1="286.5" y1="37.88" x2="288.3" y2="37.88" stroke="#222" stroke-width="0.9"/>
<line x1="286.5" y1="64.76" x2="288.3" y2="64.76" stroke="#222" stroke-width="0.9"/>
<line x1="285.3" y1="91.64" x2="288.3" y2="91.64" stroke="#222" stroke-width="0.9"/>
<line x1="286.5" y1="118.52" x2="288.3" y2="118.52" stroke="#222" stroke-width="0.9"/>
<line x1="286.5" y1="145.4" x2="288.3" y2="145.4" stroke="#222" stroke-width="0.9"/>
<line x1="286.5" y1="172.28" x2="288.3" y2="172.28" stroke="#222" stroke-width="0.9"/>
<line x1="286.5" y1="199.16" x2="288.3" y2="199.16" stroke="#222" stroke-width="0.9"/>
<line x1="285.3" y1="226.04" x2="288.3" y2="226.04" stroke="#222" stroke-width="0.9"/>
<line x1="286.5" y1="252.92" x2="288.3" y2="252.92" stroke="#222" stroke-width="0.9"/>
<text x="264.1" y="94.9" font-size="10.4" text-anchor="start" font-weight="normal" fill="#1a1a1a" textLength="18.6" lengthAdjust="spacingAndGlyphs">1.70</text>
<text x="264.1" y="229.6" font-size="10.4" text-anchor="start" font-weight="normal" fill="#1a1a1a" textLength="18.6" lengthAdjust="spacingAndGlyphs">1.65</text>
<text transform="translate(280,175.4) rotate(-90)" font-size="12.6" fill="#1a1a1a" textLength="69" lengthAdjust="spacingAndGlyphs">Energy (eV)</text>
<text x="450.2" y="19.5" font-size="16" text-anchor="start" font-weight="bold" fill="#111" stroke="#111" stroke-width="0.45">b</text>
<text x="333.6" y="18.7" font-size="10.9" fill="#1a1a1a">X<tspan font-size="7.19" dx="0.3" dy="-4.5">0</tspan></text>
<text x="346.3" y="66.1" font-size="10.9" fill="#1a1a1a">XX<tspan font-size="7.19" dx="0.3" dy="-4.5">0</tspan></text>
<text x="348.5" y="102.2" font-size="10.9" fill="#1a1a1a">X<tspan font-size="7.19" dx="0.3" dy="-4.5">-</tspan></text>
<text x="421.9" y="119.4" font-size="10.9" fill="#1a1a1a">X<tspan font-size="7.19" dx="0.3" dy="-4.5">0</tspan><tspan font-size="6.98" dx="0.5" dy="7.8">D,g</tspan><tspan font-size="10.9" dx="0.4" dy="-3.3"></tspan></text>
<text x="381.2" y="152.7" font-size="10.9" fill="#1a1a1a">XX<tspan font-size="7.19" dx="0.3" dy="-4.5">-</tspan></text>
<text x="399" y="177.3" font-size="10.9" fill="#1a1a1a">X<tspan font-size="7.19" dx="0.3" dy="-4.5">0</tspan><tspan font-size="6.98" dx="0.5" dy="7.8">D</tspan><tspan font-size="10.9" dx="0.4" dy="-3.3">-ac.SB</tspan></text>
<text x="368.3" y="223.2" font-size="10.9" fill="#1a1a1a">X<tspan font-size="7.19" dx="0.3" dy="-4.5">0</tspan><tspan font-size="6.98" dx="0.5" dy="7.8">D</tspan><tspan font-size="10.9" dx="0.4" dy="-3.3">-op.SB</tspan></text>
<text x="481.2" y="19.9" font-size="16" text-anchor="start" font-weight="bold" fill="#111" stroke="#111" stroke-width="0.45">c</text>
<circle cx="595.7" cy="174.0" r="5.92" fill="none" stroke="#e8e8e8" stroke-width="0.6"/><circle cx="595.7" cy="174.0" r="11.83" fill="none" stroke="#a8a8a8" stroke-width="0.6"/><circle cx="595.7" cy="174.0" r="17.75" fill="none" stroke="#e8e8e8" stroke-width="0.6"/><circle cx="595.7" cy="174.0" r="23.67" fill="none" stroke="#a8a8a8" stroke-width="0.6"/><circle cx="595.7" cy="174.0" r="29.58" fill="none" stroke="#e8e8e8" stroke-width="0.6"/><circle cx="595.7" cy="174.0" r="35.5" fill="none" stroke="#a8a8a8" stroke-width="0.6"/><circle cx="595.7" cy="174.0" r="41.42" fill="none" stroke="#e8e8e8" stroke-width="0.6"/><circle cx="595.7" cy="174.0" r="47.33" fill="none" stroke="#a8a8a8" stroke-width="0.6"/><circle cx="595.7" cy="174.0" r="53.25" fill="none" stroke="#e8e8e8" stroke-width="0.6"/><circle cx="595.7" cy="174.0" r="59.17" fill="none" stroke="#a8a8a8" stroke-width="0.6"/><circle cx="595.7" cy="174.0" r="65.08" fill="none" stroke="#e8e8e8" stroke-width="0.6"/><circle cx="595.7" cy="174.0" r="71" fill="none" stroke="#a8a8a8" stroke-width="0.6"/><circle cx="595.7" cy="174.0" r="76.92" fill="none" stroke="#e8e8e8" stroke-width="0.6"/><circle cx="595.7" cy="174.0" r="82.83" fill="none" stroke="#a8a8a8" stroke-width="0.6"/><circle cx="595.7" cy="174.0" r="88.75" fill="none" stroke="#e8e8e8" stroke-width="0.6"/><circle cx="595.7" cy="174.0" r="94.67" fill="none" stroke="#a8a8a8" stroke-width="0.6"/><circle cx="595.7" cy="174.0" r="100.58" fill="none" stroke="#e8e8e8" stroke-width="0.6"/><line x1="595.7" y1="162.17" x2="595.7" y2="67.5" stroke="#acacac" stroke-width="0.6"/><line x1="594.67" y1="162.21" x2="586.42" y2="67.91" stroke="#e6e6e6" stroke-width="0.6"/><line x1="593.65" y1="162.35" x2="577.21" y2="69.12" stroke="#acacac" stroke-width="0.6"/><line x1="592.64" y1="162.57" x2="568.14" y2="71.13" stroke="#e6e6e6" stroke-width="0.6"/><line x1="591.65" y1="162.88" x2="559.27" y2="73.92" stroke="#acacac" stroke-width="0.6"/><line x1="590.7" y1="163.28" x2="550.69" y2="77.48" stroke="#e6e6e6" stroke-width="0.6"/><line x1="589.78" y1="163.75" x2="542.45" y2="81.77" stroke="#acacac" stroke-width="0.6"/><line x1="588.91" y1="164.31" x2="534.61" y2="86.76" stroke="#e6e6e6" stroke-width="0.6"/><line x1="588.09" y1="164.94" x2="527.24" y2="92.42" stroke="#acacac" stroke-width="0.6"/><line x1="587.33" y1="165.63" x2="520.39" y2="98.69" stroke="#e6e6e6" stroke-width="0.6"/><line x1="586.64" y1="166.39" x2="514.12" y2="105.54" stroke="#acacac" stroke-width="0.6"/><line x1="586.01" y1="167.21" x2="508.46" y2="112.91" stroke="#e6e6e6" stroke-width="0.6"/><line x1="585.45" y1="168.08" x2="503.47" y2="120.75" stroke="#acacac" stroke-width="0.6"/><line x1="584.98" y1="169" x2="499.18" y2="128.99" stroke="#e6e6e6" stroke-width="0.6"/><line x1="584.58" y1="169.95" x2="495.62" y2="137.57" stroke="#acacac" stroke-width="0.6"/><line x1="584.27" y1="170.94" x2="492.83" y2="146.44" stroke="#e6e6e6" stroke-width="0.6"/><line x1="584.05" y1="171.95" x2="490.82" y2="155.51" stroke="#acacac" stroke-width="0.6"/><line x1="583.91" y1="172.97" x2="489.61" y2="164.72" stroke="#e6e6e6" stroke-width="0.6"/><line x1="583.87" y1="174" x2="489.2" y2="174" stroke="#acacac" stroke-width="0.6"/><line x1="583.91" y1="175.03" x2="489.61" y2="183.28" stroke="#e6e6e6" stroke-width="0.6"/><line x1="584.05" y1="176.05" x2="490.82" y2="192.49" stroke="#acacac" stroke-width="0.6"/><line x1="584.27" y1="177.06" x2="492.83" y2="201.56" stroke="#e6e6e6" stroke-width="0.6"/><line x1="584.58" y1="178.05" x2="495.62" y2="210.43" stroke="#acacac" stroke-width="0.6"/><line x1="584.98" y1="179" x2="499.18" y2="219.01" stroke="#e6e6e6" stroke-width="0.6"/><line x1="585.45" y1="179.92" x2="503.47" y2="227.25" stroke="#acacac" stroke-width="0.6"/><line x1="586.01" y1="180.79" x2="508.46" y2="235.09" stroke="#e6e6e6" stroke-width="0.6"/><line x1="586.64" y1="181.61" x2="514.12" y2="242.46" stroke="#acacac" stroke-width="0.6"/><line x1="587.33" y1="182.37" x2="520.39" y2="249.31" stroke="#e6e6e6" stroke-width="0.6"/><line x1="588.09" y1="183.06" x2="527.24" y2="255.58" stroke="#acacac" stroke-width="0.6"/><line x1="588.91" y1="183.69" x2="534.61" y2="261.24" stroke="#e6e6e6" stroke-width="0.6"/><line x1="589.78" y1="184.25" x2="542.45" y2="266.23" stroke="#acacac" stroke-width="0.6"/><line x1="590.7" y1="184.72" x2="550.69" y2="270.52" stroke="#e6e6e6" stroke-width="0.6"/><line x1="591.65" y1="185.12" x2="559.27" y2="274.08" stroke="#acacac" stroke-width="0.6"/><line x1="592.64" y1="185.43" x2="568.14" y2="276.87" stroke="#e6e6e6" stroke-width="0.6"/><line x1="593.65" y1="185.65" x2="577.21" y2="278.88" stroke="#acacac" stroke-width="0.6"/><line x1="594.67" y1="185.79" x2="586.42" y2="280.09" stroke="#e6e6e6" stroke-width="0.6"/><line x1="595.7" y1="185.83" x2="595.7" y2="280.5" stroke="#acacac" stroke-width="0.6"/><line x1="596.73" y1="185.79" x2="604.98" y2="280.09" stroke="#e6e6e6" stroke-width="0.6"/><line x1="597.75" y1="185.65" x2="614.19" y2="278.88" stroke="#acacac" stroke-width="0.6"/><line x1="598.76" y1="185.43" x2="623.26" y2="276.87" stroke="#e6e6e6" stroke-width="0.6"/><line x1="599.75" y1="185.12" x2="632.13" y2="274.08" stroke="#acacac" stroke-width="0.6"/><line x1="600.7" y1="184.72" x2="640.71" y2="270.52" stroke="#e6e6e6" stroke-width="0.6"/><line x1="601.62" y1="184.25" x2="648.95" y2="266.23" stroke="#acacac" stroke-width="0.6"/><line x1="602.49" y1="183.69" x2="656.79" y2="261.24" stroke="#e6e6e6" stroke-width="0.6"/><line x1="603.31" y1="183.06" x2="664.16" y2="255.58" stroke="#acacac" stroke-width="0.6"/><line x1="604.07" y1="182.37" x2="671.01" y2="249.31" stroke="#e6e6e6" stroke-width="0.6"/><line x1="604.76" y1="181.61" x2="677.28" y2="242.46" stroke="#acacac" stroke-width="0.6"/><line x1="605.39" y1="180.79" x2="682.94" y2="235.09" stroke="#e6e6e6" stroke-width="0.6"/><line x1="605.95" y1="179.92" x2="687.93" y2="227.25" stroke="#acacac" stroke-width="0.6"/><line x1="606.42" y1="179" x2="692.22" y2="219.01" stroke="#e6e6e6" stroke-width="0.6"/><line x1="606.82" y1="178.05" x2="695.78" y2="210.43" stroke="#acacac" stroke-width="0.6"/><line x1="607.13" y1="177.06" x2="698.57" y2="201.56" stroke="#e6e6e6" stroke-width="0.6"/><line x1="607.35" y1="176.05" x2="700.58" y2="192.49" stroke="#acacac" stroke-width="0.6"/><line x1="607.49" y1="175.03" x2="701.79" y2="183.28" stroke="#e6e6e6" stroke-width="0.6"/><line x1="607.53" y1="174" x2="702.2" y2="174" stroke="#acacac" stroke-width="0.6"/><line x1="607.49" y1="172.97" x2="701.79" y2="164.72" stroke="#e6e6e6" stroke-width="0.6"/><line x1="607.35" y1="171.95" x2="700.58" y2="155.51" stroke="#acacac" stroke-width="0.6"/><line x1="607.13" y1="170.94" x2="698.57" y2="146.44" stroke="#e6e6e6" stroke-width="0.6"/><line x1="606.82" y1="169.95" x2="695.78" y2="137.57" stroke="#acacac" stroke-width="0.6"/><line x1="606.42" y1="169" x2="692.22" y2="128.99" stroke="#e6e6e6" stroke-width="0.6"/><line x1="605.95" y1="168.08" x2="687.93" y2="120.75" stroke="#acacac" stroke-width="0.6"/><line x1="605.39" y1="167.21" x2="682.94" y2="112.91" stroke="#e6e6e6" stroke-width="0.6"/><line x1="604.76" y1="166.39" x2="677.28" y2="105.54" stroke="#acacac" stroke-width="0.6"/><line x1="604.07" y1="165.63" x2="671.01" y2="98.69" stroke="#e6e6e6" stroke-width="0.6"/><line x1="603.31" y1="164.94" x2="664.16" y2="92.42" stroke="#acacac" stroke-width="0.6"/><line x1="602.49" y1="164.31" x2="656.79" y2="86.76" stroke="#e6e6e6" stroke-width="0.6"/><line x1="601.62" y1="163.75" x2="648.95" y2="81.77" stroke="#acacac" stroke-width="0.6"/><line x1="600.7" y1="163.28" x2="640.71" y2="77.48" stroke="#e6e6e6" stroke-width="0.6"/><line x1="599.75" y1="162.88" x2="632.13" y2="73.92" stroke="#acacac" stroke-width="0.6"/><line x1="598.76" y1="162.57" x2="623.26" y2="71.13" stroke="#e6e6e6" stroke-width="0.6"/><line x1="597.75" y1="162.35" x2="614.19" y2="69.12" stroke="#acacac" stroke-width="0.6"/><line x1="596.73" y1="162.21" x2="604.98" y2="67.91" stroke="#e6e6e6" stroke-width="0.6"/>
<line x1="489.20000000000005" y1="174.0" x2="702.2" y2="174.0" stroke="#d8d8d8" stroke-width="1.2"/>
<circle cx="595.7" cy="174.0" r="106.5" fill="none" stroke="#666" stroke-width="0.8"/>
<line x1="595.7" y1="67.5" x2="595.7" y2="69.7" stroke="#333" stroke-width="0.6"/>
<line x1="586.42" y1="67.91" x2="586.52" y2="69.1" stroke="#333" stroke-width="0.6"/>
<line x1="577.21" y1="69.12" x2="577.59" y2="71.28" stroke="#333" stroke-width="0.6"/>
<line x1="568.14" y1="71.13" x2="568.45" y2="72.29" stroke="#333" stroke-width="0.6"/>
<line x1="559.27" y1="73.92" x2="560.03" y2="75.99" stroke="#333" stroke-width="0.6"/>
<line x1="550.69" y1="77.48" x2="551.2" y2="78.57" stroke="#333" stroke-width="0.6"/>
<line x1="542.45" y1="81.77" x2="543.55" y2="83.67" stroke="#333" stroke-width="0.6"/>
<line x1="534.61" y1="86.76" x2="535.3" y2="87.74" stroke="#333" stroke-width="0.6"/>
<line x1="527.24" y1="92.42" x2="528.66" y2="94.1" stroke="#333" stroke-width="0.6"/>
<line x1="520.39" y1="98.69" x2="521.24" y2="99.54" stroke="#333" stroke-width="0.6"/>
<line x1="514.12" y1="105.54" x2="515.8" y2="106.96" stroke="#333" stroke-width="0.6"/>
<line x1="508.46" y1="112.91" x2="509.44" y2="113.6" stroke="#333" stroke-width="0.6"/>
<line x1="503.47" y1="120.75" x2="505.37" y2="121.85" stroke="#333" stroke-width="0.6"/>
<line x1="499.18" y1="128.99" x2="500.27" y2="129.5" stroke="#333" stroke-width="0.6"/>
<line x1="495.62" y1="137.57" x2="497.69" y2="138.33" stroke="#333" stroke-width="0.6"/>
<line x1="492.83" y1="146.44" x2="493.99" y2="146.75" stroke="#333" stroke-width="0.6"/>
<line x1="490.82" y1="155.51" x2="492.98" y2="155.89" stroke="#333" stroke-width="0.6"/>
<line x1="489.61" y1="164.72" x2="490.8" y2="164.82" stroke="#333" stroke-width="0.6"/>
<line x1="489.2" y1="174" x2="491.4" y2="174" stroke="#333" stroke-width="0.6"/>
<line x1="489.61" y1="183.28" x2="490.8" y2="183.18" stroke="#333" stroke-width="0.6"/>
<line x1="490.82" y1="192.49" x2="492.98" y2="192.11" stroke="#333" stroke-width="0.6"/>
<line x1="492.83" y1="201.56" x2="493.99" y2="201.25" stroke="#333" stroke-width="0.6"/>
<line x1="495.62" y1="210.43" x2="497.69" y2="209.67" stroke="#333" stroke-width="0.6"/>
<line x1="499.18" y1="219.01" x2="500.27" y2="218.5" stroke="#333" stroke-width="0.6"/>
<line x1="503.47" y1="227.25" x2="505.37" y2="226.15" stroke="#333" stroke-width="0.6"/>
<line x1="508.46" y1="235.09" x2="509.44" y2="234.4" stroke="#333" stroke-width="0.6"/>
<line x1="514.12" y1="242.46" x2="515.8" y2="241.04" stroke="#333" stroke-width="0.6"/>
<line x1="520.39" y1="249.31" x2="521.24" y2="248.46" stroke="#333" stroke-width="0.6"/>
<line x1="527.24" y1="255.58" x2="528.66" y2="253.9" stroke="#333" stroke-width="0.6"/>
<line x1="534.61" y1="261.24" x2="535.3" y2="260.26" stroke="#333" stroke-width="0.6"/>
<line x1="542.45" y1="266.23" x2="543.55" y2="264.33" stroke="#333" stroke-width="0.6"/>
<line x1="550.69" y1="270.52" x2="551.2" y2="269.43" stroke="#333" stroke-width="0.6"/>
<line x1="559.27" y1="274.08" x2="560.03" y2="272.01" stroke="#333" stroke-width="0.6"/>
<line x1="568.14" y1="276.87" x2="568.45" y2="275.71" stroke="#333" stroke-width="0.6"/>
<line x1="577.21" y1="278.88" x2="577.59" y2="276.72" stroke="#333" stroke-width="0.6"/>
<line x1="586.42" y1="280.09" x2="586.52" y2="278.9" stroke="#333" stroke-width="0.6"/>
<line x1="595.7" y1="280.5" x2="595.7" y2="278.3" stroke="#333" stroke-width="0.6"/>
<line x1="604.98" y1="280.09" x2="604.88" y2="278.9" stroke="#333" stroke-width="0.6"/>
<line x1="614.19" y1="278.88" x2="613.81" y2="276.72" stroke="#333" stroke-width="0.6"/>
<line x1="623.26" y1="276.87" x2="622.95" y2="275.71" stroke="#333" stroke-width="0.6"/>
<line x1="632.13" y1="274.08" x2="631.37" y2="272.01" stroke="#333" stroke-width="0.6"/>
<line x1="640.71" y1="270.52" x2="640.2" y2="269.43" stroke="#333" stroke-width="0.6"/>
<line x1="648.95" y1="266.23" x2="647.85" y2="264.33" stroke="#333" stroke-width="0.6"/>
<line x1="656.79" y1="261.24" x2="656.1" y2="260.26" stroke="#333" stroke-width="0.6"/>
<line x1="664.16" y1="255.58" x2="662.74" y2="253.9" stroke="#333" stroke-width="0.6"/>
<line x1="671.01" y1="249.31" x2="670.16" y2="248.46" stroke="#333" stroke-width="0.6"/>
<line x1="677.28" y1="242.46" x2="675.6" y2="241.04" stroke="#333" stroke-width="0.6"/>
<line x1="682.94" y1="235.09" x2="681.96" y2="234.4" stroke="#333" stroke-width="0.6"/>
<line x1="687.93" y1="227.25" x2="686.03" y2="226.15" stroke="#333" stroke-width="0.6"/>
<line x1="692.22" y1="219.01" x2="691.13" y2="218.5" stroke="#333" stroke-width="0.6"/>
<line x1="695.78" y1="210.43" x2="693.71" y2="209.67" stroke="#333" stroke-width="0.6"/>
<line x1="698.57" y1="201.56" x2="697.41" y2="201.25" stroke="#333" stroke-width="0.6"/>
<line x1="700.58" y1="192.49" x2="698.42" y2="192.11" stroke="#333" stroke-width="0.6"/>
<line x1="701.79" y1="183.28" x2="700.6" y2="183.18" stroke="#333" stroke-width="0.6"/>
<line x1="702.2" y1="174" x2="700" y2="174" stroke="#333" stroke-width="0.6"/>
<line x1="701.79" y1="164.72" x2="700.6" y2="164.82" stroke="#333" stroke-width="0.6"/>
<line x1="700.58" y1="155.51" x2="698.42" y2="155.89" stroke="#333" stroke-width="0.6"/>
<line x1="698.57" y1="146.44" x2="697.41" y2="146.75" stroke="#333" stroke-width="0.6"/>
<line x1="695.78" y1="137.57" x2="693.71" y2="138.33" stroke="#333" stroke-width="0.6"/>
<line x1="692.22" y1="128.99" x2="691.13" y2="129.5" stroke="#333" stroke-width="0.6"/>
<line x1="687.93" y1="120.75" x2="686.03" y2="121.85" stroke="#333" stroke-width="0.6"/>
<line x1="682.94" y1="112.91" x2="681.96" y2="113.6" stroke="#333" stroke-width="0.6"/>
<line x1="677.28" y1="105.54" x2="675.6" y2="106.96" stroke="#333" stroke-width="0.6"/>
<line x1="671.01" y1="98.69" x2="670.16" y2="99.54" stroke="#333" stroke-width="0.6"/>
<line x1="664.16" y1="92.42" x2="662.74" y2="94.1" stroke="#333" stroke-width="0.6"/>
<line x1="656.79" y1="86.76" x2="656.1" y2="87.74" stroke="#333" stroke-width="0.6"/>
<line x1="648.95" y1="81.77" x2="647.85" y2="83.67" stroke="#333" stroke-width="0.6"/>
<line x1="640.71" y1="77.48" x2="640.2" y2="78.57" stroke="#333" stroke-width="0.6"/>
<line x1="632.13" y1="73.92" x2="631.37" y2="75.99" stroke="#333" stroke-width="0.6"/>
<line x1="623.26" y1="71.13" x2="622.95" y2="72.29" stroke="#333" stroke-width="0.6"/>
<line x1="614.19" y1="69.12" x2="613.81" y2="71.28" stroke="#333" stroke-width="0.6"/>
<line x1="604.98" y1="67.91" x2="604.88" y2="69.1" stroke="#333" stroke-width="0.6"/>
<text x="595.7" y="62.9" font-size="7.5" text-anchor="middle" font-weight="normal" fill="#222" >0</text>
<text x="575.83" y="63.97" font-size="7.5" text-anchor="middle" font-weight="normal" fill="#222" >10</text>
<text x="556.37" y="68.64" font-size="7.5" text-anchor="middle" font-weight="normal" fill="#222" >20</text>
<text x="538.02" y="76.78" font-size="7.5" text-anchor="middle" font-weight="normal" fill="#222" >30</text>
<text x="521.41" y="88.15" font-size="7.5" text-anchor="middle" font-weight="normal" fill="#222" >40</text>
<text x="507.12" y="102.36" font-size="7.5" text-anchor="middle" font-weight="normal" fill="#222" >50</text>
<text x="495.67" y="118.93" font-size="7.5" text-anchor="middle" font-weight="normal" fill="#222" >60</text>
<text x="487.44" y="137.28" font-size="7.5" text-anchor="middle" font-weight="normal" fill="#222" >70</text>
<text x="482.68" y="156.76" font-size="7.5" text-anchor="middle" font-weight="normal" fill="#222" >80</text>
<text x="481.53" y="176.69" font-size="7.5" text-anchor="middle" font-weight="normal" fill="#222" >90</text>
<text x="480.66" y="196.97" font-size="7.5" text-anchor="middle" font-weight="normal" fill="#222" >100</text>
<text x="485.59" y="216.76" font-size="7.5" text-anchor="middle" font-weight="normal" fill="#222" >110</text>
<text x="494.11" y="235.34" font-size="7.5" text-anchor="middle" font-weight="normal" fill="#222" >120</text>
<text x="505.9" y="252.04" font-size="7.5" text-anchor="middle" font-weight="normal" fill="#222" >130</text>
<text x="520.55" y="266.25" font-size="7.5" text-anchor="middle" font-weight="normal" fill="#222" >140</text>
<text x="537.5" y="277.5" font-size="7.5" text-anchor="middle" font-weight="normal" fill="#222" >150</text>
<text x="556.13" y="285.4" font-size="7.5" text-anchor="middle" font-weight="normal" fill="#222" >160</text>
<text x="575.76" y="289.75" font-size="7.5" text-anchor="middle" font-weight="normal" fill="#222" >170</text>
<text x="595.7" y="290.47" font-size="7.5" text-anchor="middle" font-weight="normal" fill="#222" >180</text>
<text x="615.64" y="289.75" font-size="7.5" text-anchor="middle" font-weight="normal" fill="#222" >190</text>
<text x="635.27" y="285.4" font-size="7.5" text-anchor="middle" font-weight="normal" fill="#222" >200</text>
<text x="653.9" y="277.5" font-size="7.5" text-anchor="middle" font-weight="normal" fill="#222" >210</text>
<text x="670.85" y="266.25" font-size="7.5" text-anchor="middle" font-weight="normal" fill="#222" >220</text>
<text x="685.5" y="252.04" font-size="7.5" text-anchor="middle" font-weight="normal" fill="#222" >230</text>
<text x="697.29" y="235.34" font-size="7.5" text-anchor="middle" font-weight="normal" fill="#222" >240</text>
<text x="705.81" y="216.76" font-size="7.5" text-anchor="middle" font-weight="normal" fill="#222" >250</text>
<text x="710.74" y="196.97" font-size="7.5" text-anchor="middle" font-weight="normal" fill="#222" >260</text>
<text x="711.96" y="176.69" font-size="7.5" text-anchor="middle" font-weight="normal" fill="#222" >270</text>
<text x="710.74" y="156.4" font-size="7.5" text-anchor="middle" font-weight="normal" fill="#222" >280</text>
<text x="705.81" y="136.61" font-size="7.5" text-anchor="middle" font-weight="normal" fill="#222" >290</text>
<text x="697.29" y="118.03" font-size="7.5" text-anchor="middle" font-weight="normal" fill="#222" >300</text>
<text x="685.5" y="101.33" font-size="7.5" text-anchor="middle" font-weight="normal" fill="#222" >310</text>
<text x="670.85" y="87.12" font-size="7.5" text-anchor="middle" font-weight="normal" fill="#222" >320</text>
<text x="653.9" y="75.87" font-size="7.5" text-anchor="middle" font-weight="normal" fill="#222" >330</text>
<text x="635.27" y="67.97" font-size="7.5" text-anchor="middle" font-weight="normal" fill="#222" >340</text>
<text x="615.64" y="63.62" font-size="7.5" text-anchor="middle" font-weight="normal" fill="#222" >350</text>
<path d="M596,174.1 C595.42,172.08 593.93,165.38 592.5,162 C591.07,158.62 590.5,157.42 587.4,153.8 C584.3,150.18 579.53,143.83 573.9,140.3 C568.27,136.77 559.98,133.73 553.6,132.6 C547.22,131.47 541.6,132 535.6,133.5 C529.6,135 522.87,137.83 517.6,141.6 C512.33,145.37 507.2,151.07 504,156.1 C500.8,161.13 499.18,166.55 498.4,171.8 C497.62,177.05 497.98,181.58 499.3,187.6 C500.62,193.62 503.63,201.88 506.3,207.9 C508.97,213.92 511.55,218.67 515.3,223.7 C519.05,228.73 524.28,234.35 528.8,238.1 C533.32,241.85 538.27,244.58 542.4,246.2 C546.53,247.82 549.85,248.17 553.6,247.8 C557.35,247.43 561.13,246.52 564.9,244 C568.67,241.48 572.82,237.58 576.2,232.7 C579.58,227.82 582.57,221.47 585.2,214.7 C587.83,207.93 590.2,198.87 592,192.1 C593.8,185.33 595.33,177.1 596,174.1" fill="none" stroke="#44dd44" stroke-width="1.3" stroke-dasharray="2.8,3.2"/>
<path d="M596,174.1 C596.58,172.08 598,165.38 599.5,162 C601,158.62 601.83,157.42 605,153.8 C608.17,150.18 613.23,143.83 618.5,140.3 C623.77,136.77 630.58,133.95 636.6,132.6 C642.62,131.25 648.6,131.3 654.6,132.2 C660.6,133.1 667.33,135.15 672.6,138 C677.87,140.85 682.82,144.78 686.2,149.3 C689.58,153.82 691.55,160.22 692.9,165.1 C694.25,169.98 694.52,173.72 694.3,178.6 C694.08,183.48 693.33,188.77 691.6,194.4 C689.87,200.03 687.07,206.77 683.9,212.4 C680.73,218.03 676.73,223.32 672.6,228.2 C668.47,233.08 663.6,238.32 659.1,241.7 C654.6,245.08 649.73,247.37 645.6,248.5 C641.47,249.63 638.05,249.63 634.3,248.5 C630.55,247.37 626.48,245.45 623.1,241.7 C619.72,237.95 617.02,232.75 614,226 C610.98,219.25 607.62,208.35 605,201.2 C602.38,194.05 599.8,187.62 598.3,183.1 C596.8,178.58 596.38,175.6 596,174.1" fill="none" stroke="#44dd44" stroke-width="1.3" stroke-dasharray="2.8,3.2"/>
<path d="M574.6,116.7 C573.73,117.67 571.02,120.35 569.4,122.5 C567.78,124.65 566.3,126.68 564.9,129.6 C563.5,132.52 562.53,135.5 561,140 C559.47,144.5 557.38,151.6 555.7,156.6 C554.02,161.6 552.78,165.2 550.9,170 C549.02,174.8 546.08,180.68 544.4,185.4 C542.72,190.12 541,194.43 540.8,198.3 C540.6,202.17 541.52,205.68 543.2,208.6 C544.88,211.52 548.33,214.43 550.9,215.8 C553.47,217.17 555.6,217.37 558.6,216.8 C561.6,216.23 565.47,214.42 568.9,212.4 C572.33,210.38 576.2,207.48 579.2,204.7 C582.2,201.92 584.55,199.33 586.9,195.7 C589.25,192.07 591.83,186.52 593.3,182.9 C594.77,179.28 595.3,175.48 595.7,174" fill="none" stroke="#d83030" stroke-width="1.2" stroke-dasharray="2.8,3.2"/>
<path d="M596.4,174 C596.65,174.43 596.45,174.23 597.9,176.6 C599.35,178.97 602.68,184.33 605.1,188.2 C607.52,192.07 609.73,196.42 612.4,199.8 C615.07,203.18 618.2,206.33 621.1,208.5 C624,210.67 626.9,211.83 629.8,212.8 C632.7,213.77 635.6,214.78 638.5,214.3 C641.4,213.82 645.03,211.83 647.2,209.9 C649.37,207.97 650.78,205.35 651.5,202.7 C652.22,200.05 651.98,197.38 651.5,194 C651.02,190.62 649.8,185.78 648.6,182.4 C647.4,179.02 645.92,176.48 644.3,173.7 C642.68,170.92 640.45,168.53 638.9,165.7 C637.35,162.87 636.28,159.92 635,156.7 C633.72,153.48 632.27,149.82 631.2,146.4 C630.13,142.98 629.47,139.4 628.6,136.2 C627.73,133 626.43,128.7 626,127.2" fill="none" stroke="#d83030" stroke-width="1.2" stroke-dasharray="2.8,3.2"/>
<path d="M553.77,121.46 L554.31,120.82 L555.05,120.43 L557.15,121.89 L557.08,120.43 L558.23,120.66 L556.71,117.04 L559.17,119.21 L557.43,115.05 L560.45,118.22 L559.59,115.28 L560.48,115.14 L562.46,116.87 L561.77,114 L564.6,117.41 L566.87,119.98 L566.14,116.96 L566.23,115.39 L565.48,112.01 L567.36,114.03 L568.91,115.46 L568.19,111.89 L570.3,114.72 L570.1,112.17 L571.92,114.52 L572.34,113.43 L573.58,114.48 L575.01,116.19 L574.98,113.81 L574.99,111.34 L575.52,110.34 L576.63,111.19 L577.64,111.82 L577.74,109.2 L578.9,110.39 L579.37,108.96 L580.55,110.37 L581.76,112.11 L582.27,110.79 L582.5,107.89 L583.28,107.57 L584.38,109.09 L585.15,108.82 L586.16,110.1 L587.13,111.37 L587.66,109.38 L588.58,110.48 L589.05,107.27 L590.11,109.96 L590.9,110.08 L591.67,109.78 L592.33,107.22 L593.22,109.27 L594.08,111.72 L594.8,108.89 L595.6,110.24 L596.38,110.09 L597.23,107.18 L597.98,109.11 L598.75,109.54 L599.67,107.34 L600.56,106.35 L601.31,107.35 L602.21,106.53 L602.68,109.83 L604.1,104.64 L604.77,106.09 L605.6,106.18 L605.59,111.6 L606.94,108.31 L608.01,106.99 L608.43,109.14 L609.53,107.83 L610.17,108.75 L610.56,110.67 L611.57,109.92 L612.07,111.21 L612.46,112.76 L612.99,113.73 L613.96,113.17 L615,112.46 L615.33,113.98 L614.76,118.05 L615.93,116.91 L616.8,116.68 L618.27,114.92 L618.48,116.49 L619.07,117.05 L619.66,117.57 L620.52,117.48 L620.42,119.53 L619.89,122.38 L622.66,118.25 L620.63,124.02 L622.42,122.02 L623.57,121.38 L624.46,121.27 L624.73,122.29 L626.05,121.45" fill="none" stroke="#e8701c" stroke-width="1.1" stroke-linejoin="round"/>
<path d="M552.46,125.94 L553.48,126.43 L553.46,127.96 L555.7,127.24 L556.38,128.07 L557.6,128.36 L557.91,129.56 L559.86,129.12 L560.17,130.33 L560.82,131.44 L562.37,131.65 L563.55,132.23 L564,133.55 L565.94,133.37 L566.7,134.38 L567.92,134.92 L569.13,135.47 L570.72,135.43 L570.17,137.53 L570.76,138.49 L572.04,138.76 L572.54,139.81 L572.27,141.63 L575.2,140.25 L575.24,141.76 L574.98,143.68 L576.28,144.04 L577.54,144.45 L578.04,145.61 L578.81,146.5 L579.94,147.03 L581.1,147.54 L581.92,148.38 L582.02,149.43 L582.63,149.97 L582.16,151.59 L582.71,152.19 L583.96,152.09 L584.19,153.01 L585.05,153.3 L585.07,154.43 L585.64,154.97 L586.36,155.37 L585.74,157.1 L586.73,157.22 L588.1,156.96 L588.27,157.9 L588.19,159.1 L589.31,159.09 L590.45,159.09 L590.69,159.99 L589.82,161.99 L590.53,162.42 L590.29,163.8 L591.35,163.87 L591.41,164.95 L592.06,165.44 L593.04,165.75 L593.16,166.91 L593.57,167.8 L593.35,169.3 L595.01,168.93 L594.81,170.42 L594.67,171.85 L595.8,172 L597.5,168 L599.94,164.44 L600.94,160.44 L603.16,158.66 L604.47,154.97 L608.14,152.54" fill="none" stroke="#000" stroke-width="1.7" stroke-linejoin="round"/>
<line x1="756.8" y1="67.6" x2="756.8" y2="174" stroke="#666" stroke-width="0.8"/>
<line x1="754.0" y1="174" x2="756.8" y2="174" stroke="#666" stroke-width="0.7"/>
<line x1="755.1999999999999" y1="168.09" x2="756.8" y2="168.09" stroke="#666" stroke-width="0.7"/>
<line x1="754.0" y1="162.18" x2="756.8" y2="162.18" stroke="#666" stroke-width="0.7"/>
<line x1="755.1999999999999" y1="156.27" x2="756.8" y2="156.27" stroke="#666" stroke-width="0.7"/>
<line x1="754.0" y1="150.36" x2="756.8" y2="150.36" stroke="#666" stroke-width="0.7"/>
<line x1="755.1999999999999" y1="144.44" x2="756.8" y2="144.44" stroke="#666" stroke-width="0.7"/>
<line x1="754.0" y1="138.53" x2="756.8" y2="138.53" stroke="#666" stroke-width="0.7"/>
<line x1="755.1999999999999" y1="132.62" x2="756.8" y2="132.62" stroke="#666" stroke-width="0.7"/>
<line x1="754.0" y1="126.71" x2="756.8" y2="126.71" stroke="#666" stroke-width="0.7"/>
<line x1="755.1999999999999" y1="120.8" x2="756.8" y2="120.8" stroke="#666" stroke-width="0.7"/>
<line x1="754.0" y1="114.89" x2="756.8" y2="114.89" stroke="#666" stroke-width="0.7"/>
<line x1="755.1999999999999" y1="108.98" x2="756.8" y2="108.98" stroke="#666" stroke-width="0.7"/>
<line x1="754.0" y1="103.07" x2="756.8" y2="103.07" stroke="#666" stroke-width="0.7"/>
<line x1="755.1999999999999" y1="97.16" x2="756.8" y2="97.16" stroke="#666" stroke-width="0.7"/>
<line x1="754.0" y1="91.24" x2="756.8" y2="91.24" stroke="#666" stroke-width="0.7"/>
<line x1="755.1999999999999" y1="85.33" x2="756.8" y2="85.33" stroke="#666" stroke-width="0.7"/>
<line x1="754.0" y1="79.42" x2="756.8" y2="79.42" stroke="#666" stroke-width="0.7"/>
<line x1="755.1999999999999" y1="73.51" x2="756.8" y2="73.51" stroke="#666" stroke-width="0.7"/>
<line x1="754.0" y1="67.6" x2="756.8" y2="67.6" stroke="#666" stroke-width="0.7"/>
<text x="748.8" y="178.05" font-size="7.2" text-anchor="end" font-weight="normal" fill="#222" >0</text>
<text x="748.8" y="166.3" font-size="7.2" text-anchor="end" font-weight="normal" fill="#222" >500</text>
<text x="748.8" y="154.55" font-size="7.2" text-anchor="end" font-weight="normal" fill="#222" >1000</text>
<text x="748.8" y="142.8" font-size="7.2" text-anchor="end" font-weight="normal" fill="#222" >1500</text>
<text x="748.8" y="131.05" font-size="7.2" text-anchor="end" font-weight="normal" fill="#222" >2000</text>
<text x="748.8" y="119.3" font-size="7.2" text-anchor="end" font-weight="normal" fill="#222" >2500</text>
<text x="748.8" y="107.55" font-size="7.2" text-anchor="end" font-weight="normal" fill="#222" >3000</text>
<text x="748.8" y="95.8" font-size="7.2" text-anchor="end" font-weight="normal" fill="#222" >3500</text>
<text x="748.8" y="84.05" font-size="7.2" text-anchor="end" font-weight="normal" fill="#222" >4000</text>
<text x="748.8" y="72.3" font-size="7.2" text-anchor="end" font-weight="normal" fill="#222" >4500</text>
<rect x="507.7" y="0.9" width="198.3" height="51.3" fill="#fff" stroke="#aaa" stroke-width="0.8"/>
<line x1="509" y1="7.9" x2="529.8" y2="7.9" stroke="#ecbf96" stroke-width="1.7"/>
<line x1="509" y1="20.5" x2="529.8" y2="20.5" stroke="#111" stroke-width="1"/>
<line x1="509" y1="34.8" x2="529.2" y2="34.8" stroke="#66e066" stroke-width="1.2" stroke-dasharray="4.5,3"/>
<line x1="509" y1="46.3" x2="529.2" y2="46.3" stroke="#dd3333" stroke-width="1.2" stroke-dasharray="4.5,3"/>
<text x="532.4" y="11.3" font-size="9" fill="#1a1a1a">X<tspan font-size="6" dy="-3.9">0</tspan><tspan dy="3.9" dx="1"> (φ=0°,cross, exp.)</tspan></text>
<text x="532.4" y="23.6" font-size="9" fill="#1a1a1a">X<tspan font-size="6" dy="-3.9">0</tspan><tspan font-size="6.8" dx="0.6" dy="7.3">D,g</tspan><tspan dy="-3.4"> (φ=0°,cross, exp.)</tspan></text>
<text x="532.4" y="38.3" font-size="9" fill="#1a1a1a">Out-of-plane Dipole (φ=0°,cross, sim.)</text>
<text x="532.4" y="49.8" font-size="9" fill="#1a1a1a">IPD(φ=0°,cross, sim.)+IPD(φ=90°, co, sim.)</text>
</svg></body></html>
